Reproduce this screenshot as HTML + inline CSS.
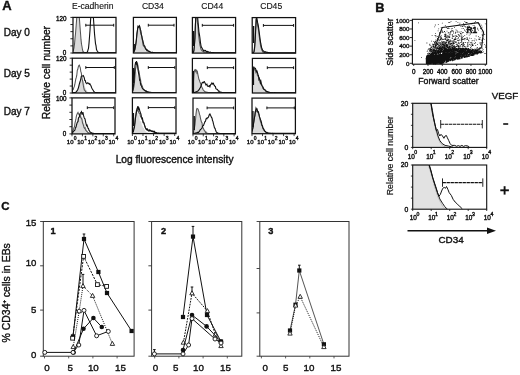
<!DOCTYPE html>
<html><head><meta charset="utf-8"><style>
html,body{margin:0;padding:0;background:#fff;}
svg{display:block;}
text{font-family:"Liberation Sans", sans-serif;fill:#111;stroke:#111;stroke-width:0.38px;}
svg{filter:grayscale(100%) blur(0.3px);}
</style></head><body>
<svg width="520" height="375" viewBox="0 0 520 375">
<rect width="520" height="375" fill="#fff"/>
<text x="2.3" y="10.4" font-size="13" text-anchor="start" font-weight="bold" >A</text>
<text x="92.7" y="8.6" font-size="8.6" text-anchor="middle" font-weight="normal" style="stroke-width:0.12px">E-cadherin</text>
<text x="152.9" y="8.6" font-size="8.6" text-anchor="middle" font-weight="normal" style="stroke-width:0.12px">CD34</text>
<text x="212.2" y="8.6" font-size="8.6" text-anchor="middle" font-weight="normal" style="stroke-width:0.12px">CD44</text>
<text x="271.2" y="8.6" font-size="8.6" text-anchor="middle" font-weight="normal" style="stroke-width:0.12px">CD45</text>
<text x="3.7" y="35.7" font-size="10" text-anchor="start" font-weight="normal" >Day 0</text>
<text x="3.7" y="76.7" font-size="10" text-anchor="start" font-weight="normal" >Day 5</text>
<text x="3.7" y="115.3" font-size="10" text-anchor="start" font-weight="normal" >Day 7</text>
<text transform="translate(49.8,72.6) rotate(-90)" font-size="10.3" text-anchor="middle">Relative cell number</text>
<text x="174.6" y="163.0" font-size="10.2" text-anchor="middle" font-weight="normal" >Log fluorescence intensity</text>
<defs>
<clipPath id="cA00"><rect x="73.0" y="17.4" width="43.00" height="35.60"/></clipPath>
<clipPath id="cA01"><rect x="133.4" y="17.4" width="43.00" height="35.60"/></clipPath>
<clipPath id="cA02"><rect x="192.4" y="17.5" width="43.20" height="35.60"/></clipPath>
<clipPath id="cA03"><rect x="252.2" y="17.6" width="43.40" height="35.60"/></clipPath>
<clipPath id="cA10"><rect x="72.3" y="58.2" width="43.40" height="34.80"/></clipPath>
<clipPath id="cA11"><rect x="132.5" y="58.2" width="43.60" height="34.60"/></clipPath>
<clipPath id="cA12"><rect x="192.4" y="58.4" width="43.20" height="34.50"/></clipPath>
<clipPath id="cA13"><rect x="252.4" y="58.4" width="43.20" height="34.60"/></clipPath>
<clipPath id="cA20"><rect x="72.0" y="97.9" width="43.00" height="36.00"/></clipPath>
<clipPath id="cA21"><rect x="132.4" y="97.8" width="43.60" height="35.80"/></clipPath>
<clipPath id="cA22"><rect x="193.0" y="98.1" width="42.40" height="35.80"/></clipPath>
<clipPath id="cA23"><rect x="252.0" y="98.1" width="43.40" height="35.60"/></clipPath>
</defs>
<g clip-path="url(#cA00)">
<polygon points="73.0,53.0 73.00,51.45 73.50,50.36 74.00,47.77 74.50,43.96 75.00,38.53 75.50,33.13 76.00,26.70 76.50,19.77 77.00,14.25 77.50,14.25 78.00,14.25 78.50,14.25 79.00,14.25 79.50,16.87 80.00,25.89 80.50,34.82 81.00,39.46 81.50,44.92 82.00,47.95 82.50,50.07 83.00,51.43 83.50,51.90 84.00,52.39 84.50,52.61 85.00,52.63 85.50,52.66 86.00,52.70 86.50,52.70 87.00,52.70 87.50,52.70 88.00,52.70 88.50,52.70 89.00,52.70 89.50,52.70 90.00,52.70 90.50,52.70 91.00,52.70 91.50,52.70 92.00,52.70 92.50,52.70 93.00,52.70 93.50,52.70 94.00,52.70 94.50,52.70 95.00,52.70 95.50,52.70 96.00,52.70 96.50,52.70 97.00,52.70 97.50,52.70 98.00,52.70 98.50,52.70 99.00,52.70 99.50,52.70 100.00,52.70 100.50,52.70 101.00,52.70 101.50,52.70 102.00,52.70 102.50,52.70 103.00,52.70 103.50,52.70 104.00,52.70 104.50,52.70 105.00,52.70 105.50,52.70 106.00,52.70 106.50,52.70 107.00,52.70 107.50,52.70 108.00,52.70 108.50,52.70 109.00,52.70 109.50,52.70 110.00,52.70 110.50,52.70 111.00,52.70 111.50,52.70 112.00,52.70 112.50,52.70 113.00,52.70 113.50,52.70 114.00,52.70 114.50,52.70 115.00,52.70 115.50,52.70 116.00,52.70 116.0,53.0" fill="#dadada" stroke="none"/>
<polyline points="73.00,51.33 73.50,49.90 74.00,47.86 74.50,44.25 75.00,38.37 75.50,33.70 76.00,27.46 76.50,21.04 77.00,14.25 77.50,14.25 78.00,14.25 78.50,14.25 79.00,14.25 79.50,19.69 80.00,26.67 80.50,33.08 81.00,39.68 81.50,44.16 82.00,46.76 82.50,49.73 83.00,51.65 83.50,51.70 84.00,52.34 84.50,52.64 85.00,52.60 85.50,52.68 86.00,52.70 86.50,52.70 87.00,52.70 87.50,52.70 88.00,52.70 88.50,52.70 89.00,52.70 89.50,52.70 90.00,52.70 90.50,52.70 91.00,52.70 91.50,52.70 92.00,52.70 92.50,52.70 93.00,52.70 93.50,52.70 94.00,52.70 94.50,52.70 95.00,52.70 95.50,52.70 96.00,52.70 96.50,52.70 97.00,52.70 97.50,52.70 98.00,52.70 98.50,52.70 99.00,52.70 99.50,52.70 100.00,52.70 100.50,52.70 101.00,52.70 101.50,52.70 102.00,52.70 102.50,52.70 103.00,52.70 103.50,52.70 104.00,52.70 104.50,52.70 105.00,52.70 105.50,52.70 106.00,52.70 106.50,52.70 107.00,52.70 107.50,52.70 108.00,52.70 108.50,52.70 109.00,52.70 109.50,52.70 110.00,52.70 110.50,52.70 111.00,52.70 111.50,52.70 112.00,52.70 112.50,52.70 113.00,52.70 113.50,52.70 114.00,52.70 114.50,52.70 115.00,52.70 115.50,52.70 116.00,52.70" fill="none" stroke="#555" stroke-width="1.05"/>
<polyline points="73.00,52.70 73.50,52.70 74.00,52.70 74.50,52.70 75.00,52.70 75.50,52.70 76.00,52.70 76.50,52.70 77.00,52.70 77.50,52.70 78.00,52.70 78.50,52.70 79.00,52.70 79.50,52.70 80.00,52.70 80.50,52.70 81.00,52.70 81.50,52.70 82.00,52.70 82.50,52.70 83.00,52.70 83.50,52.70 84.00,52.70 84.50,52.70 85.00,52.70 85.50,52.65 86.00,52.67 86.50,52.70 87.00,52.35 87.50,51.65 88.00,49.94 88.50,48.33 89.00,43.33 89.50,37.03 90.00,30.53 90.50,21.36 91.00,14.25 91.50,14.25 92.00,14.25 92.50,14.25 93.00,14.25 93.50,19.26 94.00,26.13 94.50,33.62 95.00,38.77 95.50,43.59 96.00,45.66 96.50,49.49 97.00,50.55 97.50,51.52 98.00,52.28 98.50,52.39 99.00,52.70 99.50,52.66 100.00,52.67 100.50,52.70 101.00,52.70 101.50,52.69 102.00,52.70 102.50,52.70 103.00,52.70 103.50,52.70 104.00,52.70 104.50,52.70 105.00,52.70 105.50,52.70 106.00,52.70 106.50,52.70 107.00,52.70 107.50,52.70 108.00,52.70 108.50,52.70 109.00,52.70 109.50,52.70 110.00,52.70 110.50,52.70 111.00,52.70 111.50,52.70 112.00,52.70 112.50,52.70 113.00,52.70 113.50,52.70 114.00,52.70 114.50,52.70 115.00,52.70 115.50,52.70 116.00,52.70" fill="none" stroke="#111" stroke-width="1.1"/>
</g>
<rect x="73.0" y="17.4" width="43.0" height="35.6" fill="none" stroke="#111" stroke-width="1.25"/>
<line x1="85.8" y1="25.2" x2="113.7" y2="25.2" stroke="#111" stroke-width="1.0" />
<line x1="85.8" y1="23.8" x2="85.8" y2="26.599999999999998" stroke="#111" stroke-width="1.0" />
<line x1="113.7" y1="23.8" x2="113.7" y2="26.599999999999998" stroke="#111" stroke-width="1.0" />
<line x1="70.4" y1="53.0" x2="73.0" y2="53.0" stroke="#111" stroke-width="0.9" />
<line x1="70.4" y1="45.88" x2="73.0" y2="45.88" stroke="#111" stroke-width="0.9" />
<line x1="70.4" y1="38.76" x2="73.0" y2="38.76" stroke="#111" stroke-width="0.9" />
<line x1="70.4" y1="31.639999999999997" x2="73.0" y2="31.639999999999997" stroke="#111" stroke-width="0.9" />
<line x1="70.4" y1="24.52" x2="73.0" y2="24.52" stroke="#111" stroke-width="0.9" />
<line x1="70.4" y1="17.4" x2="73.0" y2="17.4" stroke="#111" stroke-width="0.9" />
<g clip-path="url(#cA01)">
<polygon points="133.4,53.0 133.40,52.14 133.90,51.46 134.40,50.16 134.90,48.65 135.40,45.59 135.90,41.68 136.40,39.05 136.90,35.86 137.40,29.52 137.90,28.33 138.40,27.00 138.90,29.56 139.40,27.52 139.90,30.18 140.40,33.06 140.90,35.55 141.40,37.56 141.90,40.13 142.40,42.40 142.90,44.86 143.40,45.16 143.90,47.24 144.40,48.28 144.90,49.12 145.40,50.63 145.90,50.10 146.40,50.74 146.90,51.01 147.40,51.15 147.90,51.62 148.40,51.39 148.90,51.90 149.40,52.09 149.90,52.22 150.40,52.18 150.90,52.23 151.40,52.48 151.90,52.64 152.40,52.47 152.90,52.67 153.40,52.57 153.90,52.66 154.40,52.70 154.90,52.70 155.40,52.68 155.90,52.68 156.40,52.70 156.90,52.69 157.40,52.68 157.90,52.70 158.40,52.70 158.90,52.70 159.40,52.70 159.90,52.70 160.40,52.70 160.90,52.70 161.40,52.70 161.90,52.70 162.40,52.70 162.90,52.70 163.40,52.70 163.90,52.70 164.40,52.70 164.90,52.70 165.40,52.70 165.90,52.70 166.40,52.70 166.90,52.70 167.40,52.70 167.90,52.70 168.40,52.70 168.90,52.70 169.40,52.70 169.90,52.70 170.40,52.70 170.90,52.70 171.40,52.70 171.90,52.70 172.40,52.70 172.90,52.70 173.40,52.70 173.90,52.70 174.40,52.70 174.90,52.70 175.40,52.70 175.90,52.70 176.40,52.70 176.4,53.0" fill="#dadada" stroke="none"/>
<polyline points="133.40,52.34 133.90,51.92 134.40,50.40 134.90,48.74 135.40,46.50 135.90,43.28 136.40,38.91 136.90,34.42 137.40,30.50 137.90,27.36 138.40,26.75 138.90,26.18 139.40,26.99 139.90,28.68 140.40,31.64 140.90,33.82 141.40,35.28 141.90,38.23 142.40,40.41 142.90,44.14 143.40,45.94 143.90,45.66 144.40,46.95 144.90,47.49 145.40,48.60 145.90,49.43 146.40,49.99 146.90,50.84 147.40,50.45 147.90,51.17 148.40,51.14 148.90,51.45 149.40,51.66 149.90,51.74 150.40,52.16 150.90,52.28 151.40,52.45 151.90,52.48 152.40,52.37 152.90,52.60 153.40,52.54 153.90,52.60 154.40,52.64 154.90,52.65 155.40,52.70 155.90,52.69 156.40,52.67 156.90,52.70 157.40,52.70 157.90,52.70 158.40,52.70 158.90,52.70 159.40,52.70 159.90,52.70 160.40,52.70 160.90,52.70 161.40,52.70 161.90,52.70 162.40,52.70 162.90,52.70 163.40,52.70 163.90,52.70 164.40,52.70 164.90,52.70 165.40,52.70 165.90,52.70 166.40,52.70 166.90,52.70 167.40,52.70 167.90,52.70 168.40,52.70 168.90,52.70 169.40,52.70 169.90,52.70 170.40,52.70 170.90,52.70 171.40,52.70 171.90,52.70 172.40,52.70 172.90,52.70 173.40,52.70 173.90,52.70 174.40,52.70 174.90,52.70 175.40,52.70 175.90,52.70 176.40,52.70" fill="none" stroke="#555" stroke-width="1.05"/>
<polyline points="133.40,52.19 133.90,51.95 134.40,50.72 134.90,49.59 135.40,46.60 135.90,43.70 136.40,39.87 136.90,33.85 137.40,30.49 137.90,26.54 138.40,27.37 138.90,26.71 139.40,25.77 139.90,26.95 140.40,29.65 140.90,30.91 141.40,34.90 141.90,36.13 142.40,39.54 142.90,40.59 143.40,43.13 143.90,44.92 144.40,45.96 144.90,46.30 145.40,48.61 145.90,49.19 146.40,49.17 146.90,50.22 147.40,49.95 147.90,50.79 148.40,51.14 148.90,51.35 149.40,51.31 149.90,51.76 150.40,51.98 150.90,52.18 151.40,52.53 151.90,52.53 152.40,52.38 152.90,52.51 153.40,52.58 153.90,52.61 154.40,52.69 154.90,52.67 155.40,52.70 155.90,52.69 156.40,52.70 156.90,52.70 157.40,52.70 157.90,52.70 158.40,52.70 158.90,52.70 159.40,52.70 159.90,52.70 160.40,52.70 160.90,52.70 161.40,52.70 161.90,52.70 162.40,52.70 162.90,52.70 163.40,52.70 163.90,52.70 164.40,52.70 164.90,52.70 165.40,52.70 165.90,52.70 166.40,52.70 166.90,52.70 167.40,52.70 167.90,52.70 168.40,52.70 168.90,52.70 169.40,52.70 169.90,52.70 170.40,52.70 170.90,52.70 171.40,52.70 171.90,52.70 172.40,52.70 172.90,52.70 173.40,52.70 173.90,52.70 174.40,52.70 174.90,52.70 175.40,52.70 175.90,52.70 176.40,52.70" fill="none" stroke="#111" stroke-width="1.1"/>
<line x1="134.2" y1="44" x2="134.2" y2="50" stroke="#111" stroke-width="1.4" />
</g>
<rect x="133.4" y="17.4" width="43.0" height="35.6" fill="none" stroke="#111" stroke-width="1.25"/>
<line x1="148.3" y1="25.2" x2="174" y2="25.2" stroke="#111" stroke-width="1.0" />
<line x1="148.3" y1="23.8" x2="148.3" y2="26.599999999999998" stroke="#111" stroke-width="1.0" />
<line x1="174" y1="23.8" x2="174" y2="26.599999999999998" stroke="#111" stroke-width="1.0" />
<g clip-path="url(#cA02)">
<polygon points="192.4,53.1 192.40,52.80 192.90,52.80 193.40,52.19 193.90,50.52 194.40,47.41 194.90,38.94 195.40,27.48 195.90,16.68 196.40,14.35 196.90,14.35 197.40,18.69 197.90,25.27 198.40,31.72 198.90,38.65 199.40,42.17 199.90,44.77 200.40,47.73 200.90,49.39 201.40,50.96 201.90,51.39 202.40,50.99 202.90,51.34 203.40,51.68 203.90,51.87 204.40,52.27 204.90,52.01 205.40,52.04 205.90,52.08 206.40,52.41 206.90,52.52 207.40,52.68 207.90,52.51 208.40,52.53 208.90,52.74 209.40,52.71 209.90,52.74 210.40,52.79 210.90,52.80 211.40,52.79 211.90,52.77 212.40,52.80 212.90,52.80 213.40,52.80 213.90,52.79 214.40,52.79 214.90,52.80 215.40,52.80 215.90,52.80 216.40,52.80 216.90,52.80 217.40,52.80 217.90,52.80 218.40,52.80 218.90,52.80 219.40,52.80 219.90,52.80 220.40,52.80 220.90,52.80 221.40,52.80 221.90,52.80 222.40,52.80 222.90,52.80 223.40,52.80 223.90,52.80 224.40,52.80 224.90,52.80 225.40,52.80 225.90,52.80 226.40,52.80 226.90,52.80 227.40,52.80 227.90,52.80 228.40,52.80 228.90,52.80 229.40,52.80 229.90,52.80 230.40,52.80 230.90,52.80 231.40,52.80 231.90,52.80 232.40,52.80 232.90,52.80 233.40,52.80 233.90,52.80 234.40,52.80 234.90,52.80 235.40,52.80 235.6,53.1" fill="#dadada" stroke="none"/>
<polyline points="192.40,52.76 192.90,52.57 193.40,52.46 193.90,50.35 194.40,46.26 194.90,37.92 195.40,24.07 195.90,15.16 196.40,14.35 196.90,15.54 197.40,22.89 197.90,25.59 198.40,33.67 198.90,37.56 199.40,41.72 199.90,44.87 200.40,46.92 200.90,49.02 201.40,49.89 201.90,50.92 202.40,51.07 202.90,51.24 203.40,51.94 203.90,51.36 204.40,52.08 204.90,52.31 205.40,51.94 205.90,52.01 206.40,52.51 206.90,52.57 207.40,52.25 207.90,52.61 208.40,52.80 208.90,52.74 209.40,52.61 209.90,52.72 210.40,52.73 210.90,52.73 211.40,52.76 211.90,52.80 212.40,52.80 212.90,52.79 213.40,52.80 213.90,52.80 214.40,52.79 214.90,52.80 215.40,52.80 215.90,52.80 216.40,52.80 216.90,52.80 217.40,52.80 217.90,52.80 218.40,52.80 218.90,52.80 219.40,52.80 219.90,52.80 220.40,52.80 220.90,52.80 221.40,52.80 221.90,52.80 222.40,52.80 222.90,52.80 223.40,52.80 223.90,52.80 224.40,52.80 224.90,52.80 225.40,52.80 225.90,52.80 226.40,52.80 226.90,52.80 227.40,52.80 227.90,52.80 228.40,52.80 228.90,52.80 229.40,52.80 229.90,52.80 230.40,52.80 230.90,52.80 231.40,52.80 231.90,52.80 232.40,52.80 232.90,52.80 233.40,52.80 233.90,52.80 234.40,52.80 234.90,52.80 235.40,52.80" fill="none" stroke="#555" stroke-width="1.05"/>
<polyline points="192.40,52.78 192.90,52.59 193.40,52.11 193.90,50.62 194.40,45.21 194.90,38.69 195.40,24.98 195.90,15.34 196.40,14.35 196.90,14.35 197.40,14.35 197.90,20.28 198.40,25.46 198.90,31.60 199.40,34.25 199.90,37.76 200.40,42.00 200.90,45.37 201.40,47.24 201.90,47.80 202.40,48.74 202.90,49.69 203.40,50.56 203.90,50.18 204.40,50.52 204.90,50.73 205.40,50.51 205.90,50.95 206.40,51.59 206.90,51.73 207.40,51.35 207.90,51.76 208.40,51.76 208.90,52.08 209.40,52.32 209.90,52.21 210.40,52.12 210.90,52.38 211.40,52.62 211.90,52.57 212.40,52.64 212.90,52.61 213.40,52.59 213.90,52.56 214.40,52.70 214.90,52.75 215.40,52.74 215.90,52.76 216.40,52.78 216.90,52.77 217.40,52.78 217.90,52.80 218.40,52.78 218.90,52.80 219.40,52.80 219.90,52.79 220.40,52.80 220.90,52.78 221.40,52.79 221.90,52.80 222.40,52.80 222.90,52.80 223.40,52.80 223.90,52.80 224.40,52.80 224.90,52.80 225.40,52.80 225.90,52.80 226.40,52.80 226.90,52.80 227.40,52.80 227.90,52.80 228.40,52.80 228.90,52.80 229.40,52.80 229.90,52.80 230.40,52.80 230.90,52.80 231.40,52.80 231.90,52.80 232.40,52.80 232.90,52.80 233.40,52.80 233.90,52.80 234.40,52.80 234.90,52.80 235.40,52.80" fill="none" stroke="#111" stroke-width="1.1"/>
<line x1="193.6" y1="31" x2="193.6" y2="46" stroke="#111" stroke-width="1.4" />
</g>
<rect x="192.4" y="17.5" width="43.19999999999999" height="35.6" fill="none" stroke="#111" stroke-width="1.25"/>
<line x1="202.3" y1="25.3" x2="233.6" y2="25.3" stroke="#111" stroke-width="1.0" />
<line x1="202.3" y1="23.900000000000002" x2="202.3" y2="26.7" stroke="#111" stroke-width="1.0" />
<line x1="233.6" y1="23.900000000000002" x2="233.6" y2="26.7" stroke="#111" stroke-width="1.0" />
<g clip-path="url(#cA03)">
<polygon points="252.2,53.2 252.20,52.89 252.70,52.86 253.20,52.53 253.70,52.09 254.20,50.00 254.70,44.13 255.20,37.31 255.70,28.09 256.20,18.07 256.70,18.88 257.20,20.43 257.70,23.66 258.20,25.86 258.70,31.93 259.20,36.13 259.70,41.04 260.20,43.61 260.70,46.30 261.20,48.63 261.70,49.60 262.20,49.91 262.70,51.71 263.20,51.65 263.70,51.92 264.20,52.11 264.70,52.53 265.20,52.37 265.70,52.53 266.20,52.68 266.70,52.75 267.20,52.75 267.70,52.74 268.20,52.77 268.70,52.74 269.20,52.87 269.70,52.85 270.20,52.89 270.70,52.87 271.20,52.89 271.70,52.90 272.20,52.90 272.70,52.90 273.20,52.90 273.70,52.89 274.20,52.90 274.70,52.90 275.20,52.90 275.70,52.90 276.20,52.90 276.70,52.90 277.20,52.90 277.70,52.90 278.20,52.90 278.70,52.90 279.20,52.90 279.70,52.90 280.20,52.90 280.70,52.90 281.20,52.90 281.70,52.90 282.20,52.90 282.70,52.90 283.20,52.90 283.70,52.90 284.20,52.90 284.70,52.90 285.20,52.90 285.70,52.90 286.20,52.90 286.70,52.90 287.20,52.90 287.70,52.90 288.20,52.90 288.70,52.90 289.20,52.90 289.70,52.90 290.20,52.90 290.70,52.90 291.20,52.90 291.70,52.90 292.20,52.90 292.70,52.90 293.20,52.90 293.70,52.90 294.20,52.90 294.70,52.90 295.20,52.90 295.6,53.2" fill="#dadada" stroke="none"/>
<polyline points="252.20,52.89 252.70,52.75 253.20,52.68 253.70,52.02 254.20,49.81 254.70,45.16 255.20,37.24 255.70,26.79 256.20,18.53 256.70,19.87 257.20,23.00 257.70,26.00 258.20,28.15 258.70,31.67 259.20,35.84 259.70,40.02 260.20,43.08 260.70,46.64 261.20,48.15 261.70,49.80 262.20,50.64 262.70,51.93 263.20,51.60 263.70,52.41 264.20,52.49 264.70,52.33 265.20,52.59 265.70,52.42 266.20,52.67 266.70,52.82 267.20,52.76 267.70,52.83 268.20,52.75 268.70,52.78 269.20,52.84 269.70,52.89 270.20,52.88 270.70,52.87 271.20,52.90 271.70,52.90 272.20,52.89 272.70,52.89 273.20,52.90 273.70,52.90 274.20,52.90 274.70,52.90 275.20,52.90 275.70,52.90 276.20,52.90 276.70,52.90 277.20,52.90 277.70,52.90 278.20,52.90 278.70,52.90 279.20,52.90 279.70,52.90 280.20,52.90 280.70,52.90 281.20,52.90 281.70,52.90 282.20,52.90 282.70,52.90 283.20,52.90 283.70,52.90 284.20,52.90 284.70,52.90 285.20,52.90 285.70,52.90 286.20,52.90 286.70,52.90 287.20,52.90 287.70,52.90 288.20,52.90 288.70,52.90 289.20,52.90 289.70,52.90 290.20,52.90 290.70,52.90 291.20,52.90 291.70,52.90 292.20,52.90 292.70,52.90 293.20,52.90 293.70,52.90 294.20,52.90 294.70,52.90 295.20,52.90" fill="none" stroke="#555" stroke-width="1.05"/>
<polyline points="252.20,52.90 252.70,52.87 253.20,52.78 253.70,52.43 254.20,51.14 254.70,47.18 255.20,39.62 255.70,29.56 256.20,19.37 256.70,17.14 257.20,20.19 257.70,22.94 258.20,24.80 258.70,28.34 259.20,32.01 259.70,36.12 260.20,39.62 260.70,43.23 261.20,45.26 261.70,48.11 262.20,48.94 262.70,50.34 263.20,50.67 263.70,51.11 264.20,51.67 264.70,52.27 265.20,51.64 265.70,51.92 266.20,52.10 266.70,52.36 267.20,52.40 267.70,52.37 268.20,52.51 268.70,52.45 269.20,52.63 269.70,52.77 270.20,52.68 270.70,52.82 271.20,52.78 271.70,52.90 272.20,52.86 272.70,52.83 273.20,52.89 273.70,52.88 274.20,52.86 274.70,52.88 275.20,52.85 275.70,52.90 276.20,52.90 276.70,52.90 277.20,52.90 277.70,52.90 278.20,52.90 278.70,52.90 279.20,52.89 279.70,52.90 280.20,52.90 280.70,52.90 281.20,52.90 281.70,52.90 282.20,52.90 282.70,52.90 283.20,52.90 283.70,52.90 284.20,52.90 284.70,52.90 285.20,52.90 285.70,52.90 286.20,52.90 286.70,52.90 287.20,52.90 287.70,52.90 288.20,52.90 288.70,52.90 289.20,52.90 289.70,52.90 290.20,52.90 290.70,52.90 291.20,52.90 291.70,52.90 292.20,52.90 292.70,52.90 293.20,52.90 293.70,52.90 294.20,52.90 294.70,52.90 295.20,52.90" fill="none" stroke="#111" stroke-width="1.1"/>
<line x1="253.6" y1="26" x2="253.6" y2="43" stroke="#111" stroke-width="1.4" />
</g>
<rect x="252.2" y="17.6" width="43.400000000000034" height="35.6" fill="none" stroke="#111" stroke-width="1.25"/>
<line x1="263.4" y1="25.400000000000002" x2="293.6" y2="25.400000000000002" stroke="#111" stroke-width="1.0" />
<line x1="263.4" y1="24.000000000000004" x2="263.4" y2="26.8" stroke="#111" stroke-width="1.0" />
<line x1="293.6" y1="24.000000000000004" x2="293.6" y2="26.8" stroke="#111" stroke-width="1.0" />
<g clip-path="url(#cA10)">
<polygon points="72.3,93.0 72.30,92.70 72.80,92.70 73.30,92.62 73.80,92.52 74.30,92.55 74.80,92.29 75.30,92.47 75.80,91.67 76.30,91.21 76.80,90.90 77.30,90.17 77.80,88.44 78.30,86.53 78.80,84.69 79.30,82.99 79.80,80.75 80.30,79.24 80.80,79.72 81.30,78.39 81.80,78.54 82.30,77.93 82.80,80.13 83.30,80.46 83.80,82.72 84.30,83.10 84.80,86.17 85.30,87.65 85.80,89.00 86.30,89.97 86.80,90.18 87.30,91.59 87.80,92.07 88.30,92.24 88.80,92.34 89.30,92.62 89.80,92.56 90.30,92.62 90.80,92.68 91.30,92.69 91.80,92.70 92.30,92.70 92.80,92.70 93.30,92.69 93.80,92.69 94.30,92.70 94.80,92.70 95.30,92.70 95.80,92.70 96.30,92.70 96.80,92.70 97.30,92.70 97.80,92.70 98.30,92.70 98.80,92.70 99.30,92.70 99.80,92.70 100.30,92.70 100.80,92.70 101.30,92.70 101.80,92.70 102.30,92.70 102.80,92.70 103.30,92.70 103.80,92.70 104.30,92.70 104.80,92.70 105.30,92.70 105.80,92.70 106.30,92.70 106.80,92.70 107.30,92.70 107.80,92.70 108.30,92.70 108.80,92.70 109.30,92.70 109.80,92.70 110.30,92.70 110.80,92.70 111.30,92.70 111.80,92.70 112.30,92.70 112.80,92.70 113.30,92.70 113.80,92.70 114.30,92.70 114.80,92.70 115.30,92.70 115.7,93.0" fill="#dadada" stroke="none"/>
<polyline points="72.30,91.03 72.80,89.73 73.30,89.50 73.80,87.63 74.30,86.65 74.80,84.48 75.30,81.85 75.80,78.99 76.30,77.38 76.80,75.18 77.30,70.29 77.80,69.26 78.30,66.82 78.80,65.46 79.30,65.10 79.80,66.53 80.30,67.85 80.80,71.60 81.30,72.94 81.80,76.82 82.30,79.79 82.80,81.67 83.30,85.16 83.80,87.68 84.30,89.87 84.80,90.35 85.30,91.04 85.80,92.08 86.30,92.21 86.80,92.52 87.30,92.59 87.80,92.66 88.30,92.70 88.80,92.70 89.30,92.70 89.80,92.68 90.30,92.69 90.80,92.70 91.30,92.70 91.80,92.70 92.30,92.70 92.80,92.70 93.30,92.70 93.80,92.70 94.30,92.70 94.80,92.70 95.30,92.70 95.80,92.70 96.30,92.70 96.80,92.70 97.30,92.70 97.80,92.70 98.30,92.70 98.80,92.70 99.30,92.70 99.80,92.70 100.30,92.70 100.80,92.70 101.30,92.70 101.80,92.70 102.30,92.70 102.80,92.70 103.30,92.70 103.80,92.70 104.30,92.70 104.80,92.70 105.30,92.70 105.80,92.70 106.30,92.70 106.80,92.70 107.30,92.70 107.80,92.70 108.30,92.70 108.80,92.70 109.30,92.70 109.80,92.70 110.30,92.70 110.80,92.70 111.30,92.70 111.80,92.70 112.30,92.70 112.80,92.70 113.30,92.70 113.80,92.70 114.30,92.70 114.80,92.70 115.30,92.70" fill="none" stroke="#555" stroke-width="1.05"/>
<polyline points="72.30,92.67 72.80,92.70 73.30,92.67 73.80,92.59 74.30,92.55 74.80,92.48 75.30,92.52 75.80,92.30 76.30,91.76 76.80,91.26 77.30,90.36 77.80,89.53 78.30,88.06 78.80,86.33 79.30,84.22 79.80,82.48 80.30,80.89 80.80,78.82 81.30,76.29 81.80,76.02 82.30,76.04 82.80,76.06 83.30,75.70 83.80,76.76 84.30,77.82 84.80,80.48 85.30,80.58 85.80,82.64 86.30,83.13 86.80,83.63 87.30,83.06 87.80,82.72 88.30,83.31 88.80,83.57 89.30,84.33 89.80,83.66 90.30,84.59 90.80,85.43 91.30,86.76 91.80,88.04 92.30,88.99 92.80,89.72 93.30,90.47 93.80,91.41 94.30,91.83 94.80,92.25 95.30,92.44 95.80,92.66 96.30,92.58 96.80,92.64 97.30,92.65 97.80,92.70 98.30,92.70 98.80,92.70 99.30,92.70 99.80,92.70 100.30,92.70 100.80,92.70 101.30,92.70 101.80,92.70 102.30,92.70 102.80,92.70 103.30,92.70 103.80,92.70 104.30,92.70 104.80,92.70 105.30,92.70 105.80,92.70 106.30,92.70 106.80,92.70 107.30,92.70 107.80,92.70 108.30,92.70 108.80,92.70 109.30,92.70 109.80,92.70 110.30,92.70 110.80,92.70 111.30,92.70 111.80,92.70 112.30,92.70 112.80,92.70 113.30,92.70 113.80,92.70 114.30,92.70 114.80,92.70 115.30,92.70" fill="none" stroke="#111" stroke-width="1.1"/>
</g>
<rect x="72.3" y="58.2" width="43.400000000000006" height="34.8" fill="none" stroke="#111" stroke-width="1.25"/>
<line x1="85.8" y1="67.5" x2="114.3" y2="67.5" stroke="#111" stroke-width="1.0" />
<line x1="85.8" y1="66.1" x2="85.8" y2="68.9" stroke="#111" stroke-width="1.0" />
<line x1="114.3" y1="66.1" x2="114.3" y2="68.9" stroke="#111" stroke-width="1.0" />
<line x1="69.7" y1="93.0" x2="72.3" y2="93.0" stroke="#111" stroke-width="0.9" />
<line x1="69.7" y1="86.04" x2="72.3" y2="86.04" stroke="#111" stroke-width="0.9" />
<line x1="69.7" y1="79.08" x2="72.3" y2="79.08" stroke="#111" stroke-width="0.9" />
<line x1="69.7" y1="72.12" x2="72.3" y2="72.12" stroke="#111" stroke-width="0.9" />
<line x1="69.7" y1="65.16" x2="72.3" y2="65.16" stroke="#111" stroke-width="0.9" />
<line x1="69.7" y1="58.2" x2="72.3" y2="58.2" stroke="#111" stroke-width="0.9" />
<g clip-path="url(#cA11)">
<polygon points="132.5,92.8 132.50,89.71 133.00,87.54 133.50,83.75 134.00,79.77 134.50,74.39 135.00,72.84 135.50,71.47 136.00,71.82 136.50,71.69 137.00,74.88 137.50,75.21 138.00,77.97 138.50,80.35 139.00,80.47 139.50,82.75 140.00,83.91 140.50,85.95 141.00,86.93 141.50,88.09 142.00,88.65 142.50,89.56 143.00,89.29 143.50,90.46 144.00,89.99 144.50,90.78 145.00,90.75 145.50,91.15 146.00,91.30 146.50,91.31 147.00,91.74 147.50,92.07 148.00,92.03 148.50,92.10 149.00,92.50 149.50,92.25 150.00,92.31 150.50,92.50 151.00,92.46 151.50,92.44 152.00,92.50 152.50,92.50 153.00,92.50 153.50,92.49 154.00,92.49 154.50,92.50 155.00,92.50 155.50,92.50 156.00,92.50 156.50,92.50 157.00,92.50 157.50,92.50 158.00,92.50 158.50,92.50 159.00,92.50 159.50,92.50 160.00,92.50 160.50,92.50 161.00,92.50 161.50,92.50 162.00,92.50 162.50,92.50 163.00,92.50 163.50,92.50 164.00,92.50 164.50,92.50 165.00,92.50 165.50,92.50 166.00,92.50 166.50,92.50 167.00,92.50 167.50,92.50 168.00,92.50 168.50,92.50 169.00,92.50 169.50,92.50 170.00,92.50 170.50,92.50 171.00,92.50 171.50,92.50 172.00,92.50 172.50,92.50 173.00,92.50 173.50,92.50 174.00,92.50 174.50,92.50 175.00,92.50 175.50,92.50 176.00,92.50 176.1,92.8" fill="#dadada" stroke="none"/>
<polyline points="132.50,91.60 133.00,90.57 133.50,88.56 134.00,86.41 134.50,81.94 135.00,75.95 135.50,69.42 136.00,67.04 136.50,64.36 137.00,63.97 137.50,63.25 138.00,66.87 138.50,69.96 139.00,71.05 139.50,74.64 140.00,77.76 140.50,79.26 141.00,82.91 141.50,84.13 142.00,85.79 142.50,86.68 143.00,88.61 143.50,89.41 144.00,89.67 144.50,90.12 145.00,90.44 145.50,90.90 146.00,91.00 146.50,91.23 147.00,91.56 147.50,91.98 148.00,91.80 148.50,92.30 149.00,92.24 149.50,92.22 150.00,92.41 150.50,92.33 151.00,92.35 151.50,92.40 152.00,92.46 152.50,92.46 153.00,92.50 153.50,92.49 154.00,92.49 154.50,92.50 155.00,92.50 155.50,92.50 156.00,92.50 156.50,92.50 157.00,92.50 157.50,92.50 158.00,92.50 158.50,92.50 159.00,92.50 159.50,92.50 160.00,92.50 160.50,92.50 161.00,92.50 161.50,92.50 162.00,92.50 162.50,92.50 163.00,92.50 163.50,92.50 164.00,92.50 164.50,92.50 165.00,92.50 165.50,92.50 166.00,92.50 166.50,92.50 167.00,92.50 167.50,92.50 168.00,92.50 168.50,92.50 169.00,92.50 169.50,92.50 170.00,92.50 170.50,92.50 171.00,92.50 171.50,92.50 172.00,92.50 172.50,92.50 173.00,92.50 173.50,92.50 174.00,92.50 174.50,92.50 175.00,92.50 175.50,92.50 176.00,92.50" fill="none" stroke="#555" stroke-width="1.05"/>
<polyline points="132.50,91.00 133.00,89.25 133.50,85.62 134.00,80.91 134.50,73.78 135.00,65.69 135.50,63.03 136.00,63.57 136.50,61.11 137.00,64.51 137.50,64.89 138.00,69.61 138.50,72.67 139.00,75.67 139.50,80.27 140.00,80.33 140.50,83.82 141.00,85.40 141.50,86.03 142.00,87.81 142.50,88.32 143.00,89.16 143.50,89.48 144.00,90.03 144.50,90.08 145.00,90.76 145.50,90.84 146.00,91.37 146.50,91.18 147.00,92.06 147.50,91.79 148.00,91.93 148.50,92.07 149.00,92.22 149.50,92.18 150.00,92.20 150.50,92.45 151.00,92.50 151.50,92.50 152.00,92.50 152.50,92.49 153.00,92.49 153.50,92.48 154.00,92.50 154.50,92.50 155.00,92.50 155.50,92.50 156.00,92.50 156.50,92.49 157.00,92.50 157.50,92.50 158.00,92.50 158.50,92.50 159.00,92.50 159.50,92.50 160.00,92.50 160.50,92.50 161.00,92.50 161.50,92.50 162.00,92.50 162.50,92.50 163.00,92.50 163.50,92.50 164.00,92.50 164.50,92.50 165.00,92.50 165.50,92.50 166.00,92.50 166.50,92.50 167.00,92.50 167.50,92.50 168.00,92.50 168.50,92.50 169.00,92.50 169.50,92.50 170.00,92.50 170.50,92.50 171.00,92.50 171.50,92.50 172.00,92.50 172.50,92.50 173.00,92.50 173.50,92.50 174.00,92.50 174.50,92.50 175.00,92.50 175.50,92.50 176.00,92.50" fill="none" stroke="#111" stroke-width="1.1"/>
<line x1="133.6" y1="68" x2="133.6" y2="83" stroke="#111" stroke-width="1.4" />
</g>
<rect x="132.5" y="58.2" width="43.599999999999994" height="34.599999999999994" fill="none" stroke="#111" stroke-width="1.25"/>
<line x1="148.3" y1="67.5" x2="174.8" y2="67.5" stroke="#111" stroke-width="1.0" />
<line x1="148.3" y1="66.1" x2="148.3" y2="68.9" stroke="#111" stroke-width="1.0" />
<line x1="174.8" y1="66.1" x2="174.8" y2="68.9" stroke="#111" stroke-width="1.0" />
<g clip-path="url(#cA12)">
<polygon points="192.4,92.9 192.40,90.13 192.90,86.51 193.40,81.91 193.90,76.48 194.40,71.68 194.90,68.40 195.40,70.29 195.90,70.11 196.40,71.02 196.90,71.64 197.40,73.51 197.90,73.06 198.40,78.07 198.90,77.94 199.40,80.19 199.90,81.14 200.40,84.52 200.90,84.31 201.40,87.07 201.90,87.22 202.40,88.36 202.90,89.43 203.40,90.40 203.90,90.97 204.40,91.19 204.90,91.73 205.40,92.21 205.90,92.34 206.40,92.13 206.90,92.26 207.40,92.38 207.90,92.48 208.40,92.50 208.90,92.53 209.40,92.56 209.90,92.60 210.40,92.60 210.90,92.60 211.40,92.59 211.90,92.60 212.40,92.60 212.90,92.59 213.40,92.60 213.90,92.60 214.40,92.60 214.90,92.60 215.40,92.60 215.90,92.60 216.40,92.60 216.90,92.60 217.40,92.60 217.90,92.60 218.40,92.60 218.90,92.60 219.40,92.60 219.90,92.60 220.40,92.60 220.90,92.60 221.40,92.60 221.90,92.60 222.40,92.60 222.90,92.60 223.40,92.60 223.90,92.60 224.40,92.60 224.90,92.60 225.40,92.60 225.90,92.60 226.40,92.60 226.90,92.60 227.40,92.60 227.90,92.60 228.40,92.60 228.90,92.60 229.40,92.60 229.90,92.60 230.40,92.60 230.90,92.60 231.40,92.60 231.90,92.60 232.40,92.60 232.90,92.60 233.40,92.60 233.90,92.60 234.40,92.60 234.90,92.60 235.40,92.60 235.6,92.9" fill="#dadada" stroke="none"/>
<polyline points="192.40,90.24 192.90,86.41 193.40,82.71 193.90,74.45 194.40,70.28 194.90,69.93 195.40,71.34 195.90,69.70 196.40,70.19 196.90,72.77 197.40,71.73 197.90,74.60 198.40,76.93 198.90,79.40 199.40,80.17 199.90,81.94 200.40,83.03 200.90,84.34 201.40,86.28 201.90,87.28 202.40,87.93 202.90,89.17 203.40,90.20 203.90,90.54 204.40,91.31 204.90,91.46 205.40,91.83 205.90,92.22 206.40,92.14 206.90,92.32 207.40,92.35 207.90,92.57 208.40,92.45 208.90,92.49 209.40,92.58 209.90,92.58 210.40,92.58 210.90,92.59 211.40,92.58 211.90,92.60 212.40,92.60 212.90,92.60 213.40,92.59 213.90,92.60 214.40,92.60 214.90,92.60 215.40,92.60 215.90,92.60 216.40,92.60 216.90,92.60 217.40,92.60 217.90,92.60 218.40,92.60 218.90,92.60 219.40,92.60 219.90,92.60 220.40,92.60 220.90,92.60 221.40,92.60 221.90,92.60 222.40,92.60 222.90,92.60 223.40,92.60 223.90,92.60 224.40,92.60 224.90,92.60 225.40,92.60 225.90,92.60 226.40,92.60 226.90,92.60 227.40,92.60 227.90,92.60 228.40,92.60 228.90,92.60 229.40,92.60 229.90,92.60 230.40,92.60 230.90,92.60 231.40,92.60 231.90,92.60 232.40,92.60 232.90,92.60 233.40,92.60 233.90,92.60 234.40,92.60 234.90,92.60 235.40,92.60" fill="none" stroke="#555" stroke-width="1.05"/>
<polyline points="192.40,92.56 192.90,92.60 193.40,92.55 193.90,92.54 194.40,92.50 194.90,92.35 195.40,92.08 195.90,92.19 196.40,91.77 196.90,91.65 197.40,91.19 197.90,91.04 198.40,90.57 198.90,89.76 199.40,89.21 199.90,88.04 200.40,87.60 200.90,86.11 201.40,85.05 201.90,83.16 202.40,82.38 202.90,82.50 203.40,82.73 203.90,81.81 204.40,81.73 204.90,82.71 205.40,83.65 205.90,84.89 206.40,84.56 206.90,84.20 207.40,85.99 207.90,86.11 208.40,86.32 208.90,86.20 209.40,85.74 209.90,86.74 210.40,85.15 210.90,84.26 211.40,84.06 211.90,83.00 212.40,83.99 212.90,83.41 213.40,83.28 213.90,84.96 214.40,85.42 214.90,86.28 215.40,86.51 215.90,88.63 216.40,89.03 216.90,89.24 217.40,89.49 217.90,90.19 218.40,91.09 218.90,90.90 219.40,91.59 219.90,91.99 220.40,92.01 220.90,92.08 221.40,92.36 221.90,92.56 222.40,92.53 222.90,92.53 223.40,92.52 223.90,92.60 224.40,92.58 224.90,92.60 225.40,92.59 225.90,92.60 226.40,92.60 226.90,92.60 227.40,92.60 227.90,92.60 228.40,92.60 228.90,92.60 229.40,92.60 229.90,92.60 230.40,92.60 230.90,92.60 231.40,92.60 231.90,92.60 232.40,92.60 232.90,92.60 233.40,92.60 233.90,92.60 234.40,92.60 234.90,92.60 235.40,92.60" fill="none" stroke="#111" stroke-width="1.1"/>
<line x1="193.4" y1="71" x2="193.4" y2="92" stroke="#111" stroke-width="1.4" />
</g>
<rect x="192.4" y="58.4" width="43.19999999999999" height="34.50000000000001" fill="none" stroke="#111" stroke-width="1.25"/>
<line x1="207.3" y1="67.7" x2="233.6" y2="67.7" stroke="#111" stroke-width="1.0" />
<line x1="207.3" y1="66.3" x2="207.3" y2="69.10000000000001" stroke="#111" stroke-width="1.0" />
<line x1="233.6" y1="66.3" x2="233.6" y2="69.10000000000001" stroke="#111" stroke-width="1.0" />
<g clip-path="url(#cA13)">
<polygon points="252.4,93.0 252.40,83.93 252.90,73.68 253.40,70.35 253.90,67.34 254.40,68.49 254.90,68.06 255.40,69.17 255.90,70.20 256.40,70.14 256.90,72.99 257.40,74.25 257.90,74.52 258.40,77.39 258.90,77.34 259.40,79.10 259.90,81.32 260.40,83.12 260.90,84.78 261.40,83.59 261.90,86.57 262.40,87.36 262.90,87.24 263.40,88.24 263.90,89.06 264.40,89.73 264.90,90.42 265.40,91.00 265.90,91.31 266.40,91.30 266.90,91.48 267.40,91.70 267.90,92.09 268.40,92.54 268.90,92.28 269.40,92.44 269.90,92.70 270.40,92.44 270.90,92.57 271.40,92.62 271.90,92.63 272.40,92.65 272.90,92.66 273.40,92.67 273.90,92.68 274.40,92.68 274.90,92.69 275.40,92.66 275.90,92.69 276.40,92.70 276.90,92.70 277.40,92.70 277.90,92.70 278.40,92.70 278.90,92.70 279.40,92.70 279.90,92.70 280.40,92.70 280.90,92.70 281.40,92.70 281.90,92.70 282.40,92.70 282.90,92.70 283.40,92.70 283.90,92.70 284.40,92.70 284.90,92.70 285.40,92.70 285.90,92.70 286.40,92.70 286.90,92.70 287.40,92.70 287.90,92.70 288.40,92.70 288.90,92.70 289.40,92.70 289.90,92.70 290.40,92.70 290.90,92.70 291.40,92.70 291.90,92.70 292.40,92.70 292.90,92.70 293.40,92.70 293.90,92.70 294.40,92.70 294.90,92.70 295.40,92.70 295.6,93.0" fill="#dadada" stroke="none"/>
<polyline points="252.40,83.95 252.90,73.33 253.40,70.39 253.90,68.07 254.40,69.19 254.90,70.20 255.40,70.12 255.90,72.47 256.40,71.47 256.90,71.91 257.40,75.49 257.90,76.11 258.40,75.92 258.90,78.00 259.40,79.91 259.90,80.01 260.40,83.44 260.90,83.74 261.40,84.67 261.90,85.98 262.40,86.39 262.90,88.45 263.40,88.45 263.90,89.48 264.40,89.36 264.90,89.97 265.40,90.97 265.90,91.42 266.40,91.46 266.90,91.89 267.40,92.03 267.90,92.03 268.40,92.30 268.90,92.12 269.40,92.42 269.90,92.55 270.40,92.64 270.90,92.63 271.40,92.55 271.90,92.61 272.40,92.60 272.90,92.62 273.40,92.66 273.90,92.70 274.40,92.69 274.90,92.69 275.40,92.70 275.90,92.69 276.40,92.70 276.90,92.70 277.40,92.70 277.90,92.70 278.40,92.69 278.90,92.70 279.40,92.70 279.90,92.70 280.40,92.70 280.90,92.70 281.40,92.70 281.90,92.70 282.40,92.70 282.90,92.70 283.40,92.70 283.90,92.70 284.40,92.70 284.90,92.70 285.40,92.70 285.90,92.70 286.40,92.70 286.90,92.70 287.40,92.70 287.90,92.70 288.40,92.70 288.90,92.70 289.40,92.70 289.90,92.70 290.40,92.70 290.90,92.70 291.40,92.70 291.90,92.70 292.40,92.70 292.90,92.70 293.40,92.70 293.90,92.70 294.40,92.70 294.90,92.70 295.40,92.70" fill="none" stroke="#555" stroke-width="1.05"/>
<polyline points="252.40,83.76 252.90,76.08 253.40,68.16 253.90,67.05 254.40,67.76 254.90,68.40 255.40,68.33 255.90,69.71 256.40,71.41 256.90,71.01 257.40,72.49 257.90,74.19 258.40,75.28 258.90,79.42 259.40,78.47 259.90,80.03 260.40,82.78 260.90,81.33 261.40,83.68 261.90,85.28 262.40,86.28 262.90,86.90 263.40,87.89 263.90,89.31 264.40,89.46 264.90,89.74 265.40,90.21 265.90,90.58 266.40,91.46 266.90,91.63 267.40,91.66 267.90,92.05 268.40,92.08 268.90,92.36 269.40,92.28 269.90,92.43 270.40,92.44 270.90,92.55 271.40,92.64 271.90,92.69 272.40,92.64 272.90,92.68 273.40,92.70 273.90,92.69 274.40,92.66 274.90,92.66 275.40,92.68 275.90,92.67 276.40,92.70 276.90,92.70 277.40,92.70 277.90,92.70 278.40,92.69 278.90,92.70 279.40,92.70 279.90,92.69 280.40,92.70 280.90,92.70 281.40,92.70 281.90,92.70 282.40,92.70 282.90,92.70 283.40,92.70 283.90,92.70 284.40,92.70 284.90,92.70 285.40,92.70 285.90,92.70 286.40,92.70 286.90,92.70 287.40,92.70 287.90,92.70 288.40,92.70 288.90,92.70 289.40,92.70 289.90,92.70 290.40,92.70 290.90,92.70 291.40,92.70 291.90,92.70 292.40,92.70 292.90,92.70 293.40,92.70 293.90,92.70 294.40,92.70 294.90,92.70 295.40,92.70" fill="none" stroke="#111" stroke-width="1.1"/>
<line x1="253.4" y1="69" x2="253.4" y2="85" stroke="#111" stroke-width="1.4" />
</g>
<rect x="252.4" y="58.4" width="43.20000000000002" height="34.6" fill="none" stroke="#111" stroke-width="1.25"/>
<line x1="267.3" y1="67.7" x2="293.6" y2="67.7" stroke="#111" stroke-width="1.0" />
<line x1="267.3" y1="66.3" x2="267.3" y2="69.10000000000001" stroke="#111" stroke-width="1.0" />
<line x1="293.6" y1="66.3" x2="293.6" y2="69.10000000000001" stroke="#111" stroke-width="1.0" />
<g clip-path="url(#cA20)">
<polygon points="72.0,133.9 72.00,133.24 72.50,132.77 73.00,132.21 73.50,132.18 74.00,131.00 74.50,130.85 75.00,128.28 75.50,127.53 76.00,126.30 76.50,124.78 77.00,122.77 77.50,118.55 78.00,118.42 78.50,116.60 79.00,115.20 79.50,115.46 80.00,113.05 80.50,116.31 81.00,113.62 81.50,115.96 82.00,116.31 82.50,117.39 83.00,118.41 83.50,121.59 84.00,121.77 84.50,123.81 85.00,125.36 85.50,126.81 86.00,127.34 86.50,128.80 87.00,129.45 87.50,130.45 88.00,132.06 88.50,132.00 89.00,132.17 89.50,132.91 90.00,133.26 90.50,133.49 91.00,133.07 91.50,133.49 92.00,133.45 92.50,133.58 93.00,133.52 93.50,133.50 94.00,133.60 94.50,133.59 95.00,133.60 95.50,133.60 96.00,133.60 96.50,133.60 97.00,133.59 97.50,133.59 98.00,133.60 98.50,133.60 99.00,133.60 99.50,133.60 100.00,133.60 100.50,133.60 101.00,133.60 101.50,133.60 102.00,133.60 102.50,133.60 103.00,133.60 103.50,133.60 104.00,133.60 104.50,133.60 105.00,133.60 105.50,133.60 106.00,133.60 106.50,133.60 107.00,133.60 107.50,133.60 108.00,133.60 108.50,133.60 109.00,133.60 109.50,133.60 110.00,133.60 110.50,133.60 111.00,133.60 111.50,133.60 112.00,133.60 112.50,133.60 113.00,133.60 113.50,133.60 114.00,133.60 114.50,133.60 115.00,133.60 115.0,133.9" fill="#dadada" stroke="none"/>
<polyline points="72.00,132.59 72.50,131.95 73.00,130.41 73.50,129.41 74.00,127.75 74.50,126.82 75.00,122.98 75.50,120.92 76.00,118.44 76.50,115.57 77.00,114.20 77.50,113.34 78.00,112.49 78.50,113.74 79.00,114.40 79.50,115.58 80.00,114.44 80.50,117.15 81.00,117.82 81.50,118.59 82.00,119.67 82.50,122.86 83.00,124.01 83.50,125.50 84.00,127.60 84.50,128.31 85.00,127.86 85.50,130.05 86.00,130.16 86.50,131.19 87.00,131.47 87.50,132.05 88.00,132.64 88.50,133.15 89.00,132.92 89.50,133.18 90.00,133.32 90.50,133.37 91.00,133.55 91.50,133.52 92.00,133.55 92.50,133.60 93.00,133.60 93.50,133.59 94.00,133.60 94.50,133.59 95.00,133.59 95.50,133.60 96.00,133.60 96.50,133.60 97.00,133.60 97.50,133.60 98.00,133.60 98.50,133.60 99.00,133.60 99.50,133.60 100.00,133.60 100.50,133.60 101.00,133.60 101.50,133.60 102.00,133.60 102.50,133.60 103.00,133.60 103.50,133.60 104.00,133.60 104.50,133.60 105.00,133.60 105.50,133.60 106.00,133.60 106.50,133.60 107.00,133.60 107.50,133.60 108.00,133.60 108.50,133.60 109.00,133.60 109.50,133.60 110.00,133.60 110.50,133.60 111.00,133.60 111.50,133.60 112.00,133.60 112.50,133.60 113.00,133.60 113.50,133.60 114.00,133.60 114.50,133.60 115.00,133.60" fill="none" stroke="#555" stroke-width="1.05"/>
<polyline points="72.00,133.03 72.50,133.09 73.00,132.02 73.50,131.32 74.00,130.87 74.50,130.52 75.00,129.82 75.50,127.73 76.00,127.16 76.50,125.00 77.00,123.10 77.50,121.94 78.00,121.58 78.50,117.78 79.00,117.40 79.50,116.46 80.00,113.85 80.50,112.80 81.00,112.56 81.50,111.79 82.00,114.58 82.50,112.77 83.00,112.69 83.50,115.45 84.00,117.16 84.50,118.35 85.00,118.80 85.50,121.52 86.00,123.52 86.50,125.59 87.00,125.09 87.50,126.45 88.00,128.39 88.50,128.50 89.00,130.43 89.50,130.76 90.00,132.01 90.50,132.36 91.00,132.48 91.50,132.69 92.00,132.91 92.50,133.31 93.00,133.37 93.50,133.41 94.00,133.49 94.50,133.53 95.00,133.50 95.50,133.51 96.00,133.60 96.50,133.55 97.00,133.59 97.50,133.59 98.00,133.59 98.50,133.59 99.00,133.59 99.50,133.60 100.00,133.60 100.50,133.60 101.00,133.60 101.50,133.60 102.00,133.60 102.50,133.60 103.00,133.60 103.50,133.60 104.00,133.60 104.50,133.60 105.00,133.60 105.50,133.60 106.00,133.60 106.50,133.60 107.00,133.60 107.50,133.60 108.00,133.60 108.50,133.60 109.00,133.60 109.50,133.60 110.00,133.60 110.50,133.60 111.00,133.60 111.50,133.60 112.00,133.60 112.50,133.60 113.00,133.60 113.50,133.60 114.00,133.60 114.50,133.60 115.00,133.60" fill="none" stroke="#111" stroke-width="1.1"/>
</g>
<rect x="72.0" y="97.9" width="43.0" height="36.0" fill="none" stroke="#111" stroke-width="1.25"/>
<line x1="87.3" y1="107.7" x2="113.7" y2="107.7" stroke="#111" stroke-width="1.0" />
<line x1="87.3" y1="106.3" x2="87.3" y2="109.10000000000001" stroke="#111" stroke-width="1.0" />
<line x1="113.7" y1="106.3" x2="113.7" y2="109.10000000000001" stroke="#111" stroke-width="1.0" />
<line x1="69.4" y1="133.9" x2="72.0" y2="133.9" stroke="#111" stroke-width="0.9" />
<line x1="69.4" y1="126.7" x2="72.0" y2="126.7" stroke="#111" stroke-width="0.9" />
<line x1="69.4" y1="119.5" x2="72.0" y2="119.5" stroke="#111" stroke-width="0.9" />
<line x1="69.4" y1="112.30000000000001" x2="72.0" y2="112.30000000000001" stroke="#111" stroke-width="0.9" />
<line x1="69.4" y1="105.10000000000001" x2="72.0" y2="105.10000000000001" stroke="#111" stroke-width="0.9" />
<line x1="69.4" y1="97.9" x2="72.0" y2="97.9" stroke="#111" stroke-width="0.9" />
<line x1="72.0" y1="133.9" x2="72.0" y2="136.3" stroke="#111" stroke-width="0.8" />
<line x1="82.425" y1="133.9" x2="82.425" y2="136.3" stroke="#111" stroke-width="0.8" />
<line x1="92.85" y1="133.9" x2="92.85" y2="136.3" stroke="#111" stroke-width="0.8" />
<line x1="103.275" y1="133.9" x2="103.275" y2="136.3" stroke="#111" stroke-width="0.8" />
<line x1="113.7" y1="133.9" x2="113.7" y2="136.3" stroke="#111" stroke-width="0.8" />
<text x="70.15" y="143.9" font-size="6.0" text-anchor="middle">10</text>
<text x="75.10" y="140.4" font-size="5.0" text-anchor="middle">0</text>
<text x="80.58" y="143.9" font-size="6.0" text-anchor="middle">10</text>
<text x="85.52" y="140.4" font-size="5.0" text-anchor="middle">1</text>
<text x="91.00" y="143.9" font-size="6.0" text-anchor="middle">10</text>
<text x="95.95" y="140.4" font-size="5.0" text-anchor="middle">2</text>
<text x="101.43" y="143.9" font-size="6.0" text-anchor="middle">10</text>
<text x="106.38" y="140.4" font-size="5.0" text-anchor="middle">3</text>
<text x="111.85" y="143.9" font-size="6.0" text-anchor="middle">10</text>
<text x="116.80" y="140.4" font-size="5.0" text-anchor="middle">4</text>
<g clip-path="url(#cA21)">
<polygon points="132.4,133.6 132.40,131.38 132.90,130.25 133.40,127.81 133.90,122.52 134.40,118.80 134.90,115.23 135.40,113.62 135.90,111.15 136.40,111.51 136.90,110.93 137.40,112.49 137.90,113.60 138.40,114.14 138.90,116.30 139.40,116.90 139.90,121.55 140.40,121.29 140.90,120.97 141.40,123.11 141.90,125.23 142.40,125.86 142.90,127.15 143.40,128.02 143.90,128.08 144.40,129.70 144.90,130.16 145.40,131.14 145.90,131.61 146.40,132.24 146.90,132.35 147.40,132.57 147.90,132.77 148.40,132.89 148.90,133.02 149.40,133.06 149.90,133.20 150.40,133.15 150.90,133.23 151.40,133.22 151.90,133.29 152.40,133.27 152.90,133.29 153.40,133.30 153.90,133.30 154.40,133.30 154.90,133.30 155.40,133.30 155.90,133.30 156.40,133.30 156.90,133.30 157.40,133.30 157.90,133.30 158.40,133.30 158.90,133.30 159.40,133.30 159.90,133.30 160.40,133.30 160.90,133.30 161.40,133.30 161.90,133.30 162.40,133.30 162.90,133.30 163.40,133.30 163.90,133.30 164.40,133.30 164.90,133.30 165.40,133.30 165.90,133.30 166.40,133.30 166.90,133.30 167.40,133.30 167.90,133.30 168.40,133.30 168.90,133.30 169.40,133.30 169.90,133.30 170.40,133.30 170.90,133.30 171.40,133.30 171.90,133.30 172.40,133.30 172.90,133.30 173.40,133.30 173.90,133.30 174.40,133.30 174.90,133.30 175.40,133.30 175.90,133.30 176.0,133.6" fill="#dadada" stroke="none"/>
<polyline points="132.40,132.49 132.90,131.98 133.40,130.55 133.90,127.91 134.40,125.03 134.90,121.56 135.40,117.20 135.90,113.93 136.40,110.64 136.90,110.76 137.40,109.35 137.90,111.10 138.40,111.18 138.90,113.14 139.40,113.34 139.90,113.55 140.40,116.42 140.90,117.03 141.40,117.86 141.90,119.45 142.40,119.78 142.90,122.57 143.40,122.38 143.90,123.37 144.40,124.42 144.90,126.54 145.40,127.89 145.90,129.04 146.40,128.66 146.90,129.13 147.40,129.71 147.90,129.94 148.40,129.98 148.90,130.47 149.40,130.95 149.90,131.02 150.40,130.91 150.90,131.10 151.40,131.49 151.90,131.34 152.40,131.75 152.90,131.54 153.40,131.99 153.90,132.04 154.40,132.70 154.90,132.82 155.40,133.04 155.90,132.90 156.40,132.71 156.90,133.10 157.40,133.21 157.90,133.21 158.40,133.25 158.90,133.23 159.40,133.28 159.90,133.30 160.40,133.30 160.90,133.29 161.40,133.29 161.90,133.30 162.40,133.30 162.90,133.30 163.40,133.30 163.90,133.30 164.40,133.30 164.90,133.30 165.40,133.30 165.90,133.30 166.40,133.30 166.90,133.30 167.40,133.30 167.90,133.30 168.40,133.30 168.90,133.30 169.40,133.30 169.90,133.30 170.40,133.30 170.90,133.30 171.40,133.30 171.90,133.30 172.40,133.30 172.90,133.30 173.40,133.30 173.90,133.30 174.40,133.30 174.90,133.30 175.40,133.30 175.90,133.30" fill="none" stroke="#555" stroke-width="1.05"/>
<polyline points="132.40,132.61 132.90,132.39 133.40,131.63 133.90,129.13 134.40,127.49 134.90,123.93 135.40,118.78 135.90,115.66 136.40,112.50 136.90,108.84 137.40,107.84 137.90,106.18 138.40,109.23 138.90,107.98 139.40,109.05 139.90,111.50 140.40,112.64 140.90,113.96 141.40,116.42 141.90,118.18 142.40,118.03 142.90,120.98 143.40,122.40 143.90,122.65 144.40,124.93 144.90,126.10 145.40,127.74 145.90,128.55 146.40,129.34 146.90,129.86 147.40,129.18 147.90,130.31 148.40,130.95 148.90,130.56 149.40,129.91 149.90,130.63 150.40,130.27 150.90,130.69 151.40,131.12 151.90,130.89 152.40,131.28 152.90,131.16 153.40,131.31 153.90,131.82 154.40,131.46 154.90,132.55 155.40,132.31 155.90,132.67 156.40,132.70 156.90,132.95 157.40,133.30 157.90,133.19 158.40,133.15 158.90,133.24 159.40,133.30 159.90,133.30 160.40,133.28 160.90,133.27 161.40,133.30 161.90,133.30 162.40,133.30 162.90,133.30 163.40,133.30 163.90,133.30 164.40,133.30 164.90,133.30 165.40,133.30 165.90,133.30 166.40,133.30 166.90,133.30 167.40,133.30 167.90,133.30 168.40,133.30 168.90,133.30 169.40,133.30 169.90,133.30 170.40,133.30 170.90,133.30 171.40,133.30 171.90,133.30 172.40,133.30 172.90,133.30 173.40,133.30 173.90,133.30 174.40,133.30 174.90,133.30 175.40,133.30 175.90,133.30" fill="none" stroke="#111" stroke-width="1.1"/>
<line x1="133.4" y1="113" x2="133.4" y2="126" stroke="#111" stroke-width="1.4" />
</g>
<rect x="132.4" y="97.8" width="43.599999999999994" height="35.8" fill="none" stroke="#111" stroke-width="1.25"/>
<line x1="148.3" y1="107.6" x2="174.8" y2="107.6" stroke="#111" stroke-width="1.0" />
<line x1="148.3" y1="106.19999999999999" x2="148.3" y2="109.0" stroke="#111" stroke-width="1.0" />
<line x1="174.8" y1="106.19999999999999" x2="174.8" y2="109.0" stroke="#111" stroke-width="1.0" />
<line x1="132.4" y1="133.6" x2="132.4" y2="136.0" stroke="#111" stroke-width="0.8" />
<line x1="142.975" y1="133.6" x2="142.975" y2="136.0" stroke="#111" stroke-width="0.8" />
<line x1="153.55" y1="133.6" x2="153.55" y2="136.0" stroke="#111" stroke-width="0.8" />
<line x1="164.125" y1="133.6" x2="164.125" y2="136.0" stroke="#111" stroke-width="0.8" />
<line x1="174.7" y1="133.6" x2="174.7" y2="136.0" stroke="#111" stroke-width="0.8" />
<text x="130.55" y="143.9" font-size="6.0" text-anchor="middle">10</text>
<text x="135.50" y="140.4" font-size="5.0" text-anchor="middle">0</text>
<text x="141.12" y="143.9" font-size="6.0" text-anchor="middle">10</text>
<text x="146.07" y="140.4" font-size="5.0" text-anchor="middle">1</text>
<text x="151.70" y="143.9" font-size="6.0" text-anchor="middle">10</text>
<text x="156.65" y="140.4" font-size="5.0" text-anchor="middle">2</text>
<text x="162.28" y="143.9" font-size="6.0" text-anchor="middle">10</text>
<text x="167.22" y="140.4" font-size="5.0" text-anchor="middle">3</text>
<text x="172.85" y="143.9" font-size="6.0" text-anchor="middle">10</text>
<text x="177.80" y="140.4" font-size="5.0" text-anchor="middle">4</text>
<g clip-path="url(#cA22)">
<polygon points="193.0,133.9 193.00,132.51 193.50,131.66 194.00,130.10 194.50,127.53 195.00,121.96 195.50,118.46 196.00,114.06 196.50,108.95 197.00,108.47 197.50,109.41 198.00,109.38 198.50,108.98 199.00,112.27 199.50,113.80 200.00,116.87 200.50,118.55 201.00,119.54 201.50,122.31 202.00,124.06 202.50,125.22 203.00,127.57 203.50,128.00 204.00,130.09 204.50,131.01 205.00,131.72 205.50,132.44 206.00,132.37 206.50,132.82 207.00,132.86 207.50,133.33 208.00,133.28 208.50,133.33 209.00,133.51 209.50,133.55 210.00,133.60 210.50,133.52 211.00,133.59 211.50,133.58 212.00,133.60 212.50,133.59 213.00,133.60 213.50,133.59 214.00,133.60 214.50,133.60 215.00,133.60 215.50,133.60 216.00,133.60 216.50,133.60 217.00,133.60 217.50,133.60 218.00,133.60 218.50,133.60 219.00,133.60 219.50,133.60 220.00,133.60 220.50,133.60 221.00,133.60 221.50,133.60 222.00,133.60 222.50,133.60 223.00,133.60 223.50,133.60 224.00,133.60 224.50,133.60 225.00,133.60 225.50,133.60 226.00,133.60 226.50,133.60 227.00,133.60 227.50,133.60 228.00,133.60 228.50,133.60 229.00,133.60 229.50,133.60 230.00,133.60 230.50,133.60 231.00,133.60 231.50,133.60 232.00,133.60 232.50,133.60 233.00,133.60 233.50,133.60 234.00,133.60 234.50,133.60 235.00,133.60 235.4,133.9" fill="#dadada" stroke="none"/>
<polyline points="193.00,132.80 193.50,132.07 194.00,130.06 194.50,127.75 195.00,124.70 195.50,119.70 196.00,114.10 196.50,109.85 197.00,108.48 197.50,108.60 198.00,109.13 198.50,110.58 199.00,112.00 199.50,114.39 200.00,115.65 200.50,118.29 201.00,120.33 201.50,122.15 202.00,122.70 202.50,126.76 203.00,127.68 203.50,128.88 204.00,129.69 204.50,130.77 205.00,131.01 205.50,132.48 206.00,132.11 206.50,133.07 207.00,133.18 207.50,133.18 208.00,133.36 208.50,133.45 209.00,133.50 209.50,133.52 210.00,133.52 210.50,133.56 211.00,133.60 211.50,133.60 212.00,133.58 212.50,133.58 213.00,133.59 213.50,133.59 214.00,133.60 214.50,133.59 215.00,133.60 215.50,133.60 216.00,133.60 216.50,133.60 217.00,133.60 217.50,133.60 218.00,133.60 218.50,133.60 219.00,133.60 219.50,133.60 220.00,133.60 220.50,133.60 221.00,133.60 221.50,133.60 222.00,133.60 222.50,133.60 223.00,133.60 223.50,133.60 224.00,133.60 224.50,133.60 225.00,133.60 225.50,133.60 226.00,133.60 226.50,133.60 227.00,133.60 227.50,133.60 228.00,133.60 228.50,133.60 229.00,133.60 229.50,133.60 230.00,133.60 230.50,133.60 231.00,133.60 231.50,133.60 232.00,133.60 232.50,133.60 233.00,133.60 233.50,133.60 234.00,133.60 234.50,133.60 235.00,133.60" fill="none" stroke="#555" stroke-width="1.05"/>
<polyline points="193.00,133.43 193.50,133.36 194.00,133.29 194.50,133.18 195.00,133.17 195.50,133.14 196.00,133.07 196.50,132.89 197.00,132.82 197.50,132.61 198.00,132.12 198.50,132.42 199.00,131.77 199.50,131.22 200.00,130.24 200.50,129.43 201.00,129.08 201.50,128.54 202.00,128.00 202.50,126.32 203.00,125.62 203.50,125.49 204.00,124.14 204.50,122.84 205.00,121.47 205.50,121.36 206.00,118.99 206.50,118.28 207.00,118.68 207.50,117.71 208.00,117.64 208.50,117.06 209.00,115.54 209.50,114.24 210.00,114.05 210.50,115.18 211.00,116.19 211.50,117.45 212.00,118.02 212.50,120.50 213.00,121.58 213.50,124.14 214.00,125.77 214.50,127.90 215.00,128.22 215.50,129.89 216.00,131.25 216.50,132.24 217.00,132.42 217.50,132.79 218.00,133.33 218.50,133.33 219.00,133.28 219.50,133.50 220.00,133.57 220.50,133.55 221.00,133.54 221.50,133.60 222.00,133.60 222.50,133.60 223.00,133.60 223.50,133.60 224.00,133.60 224.50,133.60 225.00,133.60 225.50,133.60 226.00,133.60 226.50,133.60 227.00,133.60 227.50,133.60 228.00,133.60 228.50,133.60 229.00,133.60 229.50,133.60 230.00,133.60 230.50,133.60 231.00,133.60 231.50,133.60 232.00,133.60 232.50,133.60 233.00,133.60 233.50,133.60 234.00,133.60 234.50,133.60 235.00,133.60" fill="none" stroke="#111" stroke-width="1.1"/>
<line x1="194.2" y1="116" x2="194.2" y2="130" stroke="#111" stroke-width="1.4" />
</g>
<rect x="193.0" y="98.1" width="42.400000000000006" height="35.80000000000001" fill="none" stroke="#111" stroke-width="1.25"/>
<line x1="207.1" y1="107.89999999999999" x2="233.6" y2="107.89999999999999" stroke="#111" stroke-width="1.0" />
<line x1="207.1" y1="106.49999999999999" x2="207.1" y2="109.3" stroke="#111" stroke-width="1.0" />
<line x1="233.6" y1="106.49999999999999" x2="233.6" y2="109.3" stroke="#111" stroke-width="1.0" />
<line x1="193.0" y1="133.9" x2="193.0" y2="136.3" stroke="#111" stroke-width="0.8" />
<line x1="203.275" y1="133.9" x2="203.275" y2="136.3" stroke="#111" stroke-width="0.8" />
<line x1="213.55" y1="133.9" x2="213.55" y2="136.3" stroke="#111" stroke-width="0.8" />
<line x1="223.82500000000002" y1="133.9" x2="223.82500000000002" y2="136.3" stroke="#111" stroke-width="0.8" />
<line x1="234.10000000000002" y1="133.9" x2="234.10000000000002" y2="136.3" stroke="#111" stroke-width="0.8" />
<text x="191.15" y="143.9" font-size="6.0" text-anchor="middle">10</text>
<text x="196.10" y="140.4" font-size="5.0" text-anchor="middle">0</text>
<text x="201.43" y="143.9" font-size="6.0" text-anchor="middle">10</text>
<text x="206.38" y="140.4" font-size="5.0" text-anchor="middle">1</text>
<text x="211.70" y="143.9" font-size="6.0" text-anchor="middle">10</text>
<text x="216.65" y="140.4" font-size="5.0" text-anchor="middle">2</text>
<text x="221.97" y="143.9" font-size="6.0" text-anchor="middle">10</text>
<text x="226.92" y="140.4" font-size="5.0" text-anchor="middle">3</text>
<text x="232.25" y="143.9" font-size="6.0" text-anchor="middle">10</text>
<text x="237.20" y="140.4" font-size="5.0" text-anchor="middle">4</text>
<g clip-path="url(#cA23)">
<polygon points="252.0,133.7 252.00,130.60 252.50,129.59 253.00,126.15 253.50,122.73 254.00,119.94 254.50,117.40 255.00,113.08 255.50,110.28 256.00,109.49 256.50,109.08 257.00,108.95 257.50,111.45 258.00,113.06 258.50,114.80 259.00,115.83 259.50,117.74 260.00,119.76 260.50,120.88 261.00,121.53 261.50,125.00 262.00,126.29 262.50,127.55 263.00,129.02 263.50,129.14 264.00,130.48 264.50,130.93 265.00,132.12 265.50,132.00 266.00,132.50 266.50,132.98 267.00,132.81 267.50,132.96 268.00,133.16 268.50,133.21 269.00,133.36 269.50,133.28 270.00,133.37 270.50,133.36 271.00,133.37 271.50,133.38 272.00,133.40 272.50,133.39 273.00,133.40 273.50,133.39 274.00,133.40 274.50,133.40 275.00,133.40 275.50,133.40 276.00,133.40 276.50,133.40 277.00,133.40 277.50,133.40 278.00,133.40 278.50,133.40 279.00,133.40 279.50,133.40 280.00,133.40 280.50,133.40 281.00,133.40 281.50,133.40 282.00,133.40 282.50,133.40 283.00,133.40 283.50,133.40 284.00,133.40 284.50,133.40 285.00,133.40 285.50,133.40 286.00,133.40 286.50,133.40 287.00,133.40 287.50,133.40 288.00,133.40 288.50,133.40 289.00,133.40 289.50,133.40 290.00,133.40 290.50,133.40 291.00,133.40 291.50,133.40 292.00,133.40 292.50,133.40 293.00,133.40 293.50,133.40 294.00,133.40 294.50,133.40 295.00,133.40 295.4,133.7" fill="#dadada" stroke="none"/>
<polyline points="252.00,130.02 252.50,129.45 253.00,127.10 253.50,124.21 254.00,119.73 254.50,117.24 255.00,111.77 255.50,111.48 256.00,110.79 256.50,111.48 257.00,110.19 257.50,110.66 258.00,112.69 258.50,113.06 259.00,114.76 259.50,117.28 260.00,119.31 260.50,121.55 261.00,122.73 261.50,124.74 262.00,125.19 262.50,126.99 263.00,128.63 263.50,129.73 264.00,130.27 264.50,130.79 265.00,131.61 265.50,131.89 266.00,132.56 266.50,132.70 267.00,132.84 267.50,133.05 268.00,133.14 268.50,133.17 269.00,133.30 269.50,133.28 270.00,133.38 270.50,133.36 271.00,133.39 271.50,133.40 272.00,133.38 272.50,133.38 273.00,133.40 273.50,133.40 274.00,133.39 274.50,133.40 275.00,133.40 275.50,133.40 276.00,133.40 276.50,133.40 277.00,133.40 277.50,133.40 278.00,133.40 278.50,133.40 279.00,133.40 279.50,133.40 280.00,133.40 280.50,133.40 281.00,133.40 281.50,133.40 282.00,133.40 282.50,133.40 283.00,133.40 283.50,133.40 284.00,133.40 284.50,133.40 285.00,133.40 285.50,133.40 286.00,133.40 286.50,133.40 287.00,133.40 287.50,133.40 288.00,133.40 288.50,133.40 289.00,133.40 289.50,133.40 290.00,133.40 290.50,133.40 291.00,133.40 291.50,133.40 292.00,133.40 292.50,133.40 293.00,133.40 293.50,133.40 294.00,133.40 294.50,133.40 295.00,133.40" fill="none" stroke="#555" stroke-width="1.05"/>
<polyline points="252.00,131.55 252.50,129.68 253.00,127.69 253.50,123.67 254.00,121.26 254.50,117.33 255.00,115.55 255.50,111.23 256.00,108.18 256.50,109.32 257.00,108.93 257.50,110.82 258.00,112.12 258.50,111.91 259.00,114.74 259.50,116.91 260.00,117.86 260.50,119.89 261.00,120.62 261.50,122.61 262.00,125.59 262.50,125.89 263.00,128.17 263.50,128.56 264.00,129.40 264.50,130.64 265.00,131.30 265.50,131.48 266.00,132.19 266.50,132.68 267.00,132.44 267.50,132.79 268.00,133.00 268.50,133.13 269.00,133.15 269.50,133.28 270.00,133.28 270.50,133.34 271.00,133.39 271.50,133.35 272.00,133.38 272.50,133.40 273.00,133.40 273.50,133.40 274.00,133.40 274.50,133.40 275.00,133.40 275.50,133.40 276.00,133.40 276.50,133.40 277.00,133.40 277.50,133.40 278.00,133.40 278.50,133.40 279.00,133.40 279.50,133.40 280.00,133.40 280.50,133.40 281.00,133.40 281.50,133.40 282.00,133.40 282.50,133.40 283.00,133.40 283.50,133.40 284.00,133.40 284.50,133.40 285.00,133.40 285.50,133.40 286.00,133.40 286.50,133.40 287.00,133.40 287.50,133.40 288.00,133.40 288.50,133.40 289.00,133.40 289.50,133.40 290.00,133.40 290.50,133.40 291.00,133.40 291.50,133.40 292.00,133.40 292.50,133.40 293.00,133.40 293.50,133.40 294.00,133.40 294.50,133.40 295.00,133.40" fill="none" stroke="#111" stroke-width="1.1"/>
<line x1="252.9" y1="111" x2="252.9" y2="127" stroke="#111" stroke-width="1.4" />
</g>
<rect x="252.0" y="98.1" width="43.39999999999998" height="35.599999999999994" fill="none" stroke="#111" stroke-width="1.25"/>
<line x1="266.9" y1="107.89999999999999" x2="294.3" y2="107.89999999999999" stroke="#111" stroke-width="1.0" />
<line x1="266.9" y1="106.49999999999999" x2="266.9" y2="109.3" stroke="#111" stroke-width="1.0" />
<line x1="294.3" y1="106.49999999999999" x2="294.3" y2="109.3" stroke="#111" stroke-width="1.0" />
<line x1="252.0" y1="133.7" x2="252.0" y2="136.1" stroke="#111" stroke-width="0.8" />
<line x1="262.525" y1="133.7" x2="262.525" y2="136.1" stroke="#111" stroke-width="0.8" />
<line x1="273.05" y1="133.7" x2="273.05" y2="136.1" stroke="#111" stroke-width="0.8" />
<line x1="283.575" y1="133.7" x2="283.575" y2="136.1" stroke="#111" stroke-width="0.8" />
<line x1="294.09999999999997" y1="133.7" x2="294.09999999999997" y2="136.1" stroke="#111" stroke-width="0.8" />
<text x="250.15" y="143.9" font-size="6.0" text-anchor="middle">10</text>
<text x="255.10" y="140.4" font-size="5.0" text-anchor="middle">0</text>
<text x="260.67" y="143.9" font-size="6.0" text-anchor="middle">10</text>
<text x="265.62" y="140.4" font-size="5.0" text-anchor="middle">1</text>
<text x="271.20" y="143.9" font-size="6.0" text-anchor="middle">10</text>
<text x="276.15" y="140.4" font-size="5.0" text-anchor="middle">2</text>
<text x="281.72" y="143.9" font-size="6.0" text-anchor="middle">10</text>
<text x="286.68" y="140.4" font-size="5.0" text-anchor="middle">3</text>
<text x="292.25" y="143.9" font-size="6.0" text-anchor="middle">10</text>
<text x="297.20" y="140.4" font-size="5.0" text-anchor="middle">4</text>
<text x="66.4" y="20.5" font-size="6.3" text-anchor="end" font-weight="normal" >120</text>
<text x="66.2" y="54.8" font-size="6.3" text-anchor="end" font-weight="normal" >0</text>
<text x="66.4" y="61.300000000000004" font-size="6.3" text-anchor="end" font-weight="normal" >120</text>
<text x="66.2" y="94.8" font-size="6.3" text-anchor="end" font-weight="normal" >0</text>
<text x="66.4" y="101.0" font-size="6.3" text-anchor="end" font-weight="normal" >100</text>
<text x="66.2" y="135.70000000000002" font-size="6.3" text-anchor="end" font-weight="normal" >0</text>
<text x="375.3" y="12.0" font-size="12.8" text-anchor="start" font-weight="bold" >B</text>
<path d="M433.1,58.0h1.0v1.0h-1.0zM434.2,62.6h1.0v1.0h-1.0zM429.8,55.0h1.0v1.0h-1.0zM446.8,55.5h1.0v1.0h-1.0zM463.6,49.2h1.0v1.0h-1.0zM470.7,52.0h1.0v1.0h-1.0zM472.4,54.8h1.0v1.0h-1.0zM437.5,57.9h1.0v1.0h-1.0zM453.4,52.3h1.0v1.0h-1.0zM459.5,56.3h1.0v1.0h-1.0zM452.4,51.5h1.0v1.0h-1.0zM430.5,62.4h1.0v1.0h-1.0zM450.3,50.3h1.0v1.0h-1.0zM464.2,56.2h1.0v1.0h-1.0zM438.2,51.4h1.0v1.0h-1.0zM437.2,55.4h1.0v1.0h-1.0zM452.5,59.1h1.0v1.0h-1.0zM465.5,48.2h1.0v1.0h-1.0zM434.9,63.4h1.0v1.0h-1.0zM452.0,56.6h1.0v1.0h-1.0zM428.9,54.5h1.0v1.0h-1.0zM474.0,50.8h1.0v1.0h-1.0zM443.9,50.7h1.0v1.0h-1.0zM435.6,52.0h1.0v1.0h-1.0zM433.1,60.6h1.0v1.0h-1.0zM437.0,52.1h1.0v1.0h-1.0zM459.9,48.1h1.0v1.0h-1.0zM431.1,53.5h1.0v1.0h-1.0zM442.5,59.4h1.0v1.0h-1.0zM453.9,58.1h1.0v1.0h-1.0zM438.2,54.9h1.0v1.0h-1.0zM440.5,63.1h1.0v1.0h-1.0zM450.7,52.3h1.0v1.0h-1.0zM429.6,57.7h1.0v1.0h-1.0zM439.8,61.4h1.0v1.0h-1.0zM468.1,53.4h1.0v1.0h-1.0zM465.3,56.2h1.0v1.0h-1.0zM434.3,59.2h1.0v1.0h-1.0zM434.0,57.2h1.0v1.0h-1.0zM470.6,53.7h1.0v1.0h-1.0zM427.8,57.8h1.0v1.0h-1.0zM435.1,63.4h1.0v1.0h-1.0zM434.0,55.0h1.0v1.0h-1.0zM446.2,49.9h1.0v1.0h-1.0zM475.4,50.2h1.0v1.0h-1.0zM454.2,49.0h1.0v1.0h-1.0zM460.6,48.2h1.0v1.0h-1.0zM432.4,58.7h1.0v1.0h-1.0zM462.1,54.2h1.0v1.0h-1.0zM445.9,50.8h1.0v1.0h-1.0zM443.8,54.7h1.0v1.0h-1.0zM430.7,59.0h1.0v1.0h-1.0zM480.7,52.0h1.0v1.0h-1.0zM429.6,61.6h1.0v1.0h-1.0zM452.3,48.8h1.0v1.0h-1.0zM471.5,53.9h1.0v1.0h-1.0zM433.7,56.7h1.0v1.0h-1.0zM454.2,51.4h1.0v1.0h-1.0zM460.3,50.3h1.0v1.0h-1.0zM461.3,55.2h1.0v1.0h-1.0zM442.4,60.3h1.0v1.0h-1.0zM449.5,55.5h1.0v1.0h-1.0zM464.2,50.3h1.0v1.0h-1.0zM431.3,56.5h1.0v1.0h-1.0zM457.1,48.2h1.0v1.0h-1.0zM434.6,61.1h1.0v1.0h-1.0zM470.5,54.7h1.0v1.0h-1.0zM462.6,55.1h1.0v1.0h-1.0zM447.7,50.8h1.0v1.0h-1.0zM475.8,52.8h1.0v1.0h-1.0zM457.7,56.5h1.0v1.0h-1.0zM451.3,55.2h1.0v1.0h-1.0zM429.4,59.2h1.0v1.0h-1.0zM472.2,53.7h1.0v1.0h-1.0zM454.1,58.4h1.0v1.0h-1.0zM432.0,62.1h1.0v1.0h-1.0zM447.0,50.1h1.0v1.0h-1.0zM461.1,52.2h1.0v1.0h-1.0zM461.0,53.2h1.0v1.0h-1.0zM454.3,49.6h1.0v1.0h-1.0zM455.0,58.0h1.0v1.0h-1.0zM435.6,51.9h1.0v1.0h-1.0zM429.7,58.2h1.0v1.0h-1.0zM456.4,49.3h1.0v1.0h-1.0zM449.7,51.1h1.0v1.0h-1.0zM466.5,50.5h1.0v1.0h-1.0zM440.4,61.7h1.0v1.0h-1.0zM469.5,51.4h1.0v1.0h-1.0zM467.8,48.9h1.0v1.0h-1.0zM434.9,56.1h1.0v1.0h-1.0zM454.7,48.8h1.0v1.0h-1.0zM428.8,56.2h1.0v1.0h-1.0zM447.8,58.2h1.0v1.0h-1.0zM428.4,58.5h1.0v1.0h-1.0zM475.7,51.1h1.0v1.0h-1.0zM476.4,51.3h1.0v1.0h-1.0zM468.3,49.5h1.0v1.0h-1.0zM458.6,55.0h1.0v1.0h-1.0zM471.9,51.6h1.0v1.0h-1.0zM432.5,62.4h1.0v1.0h-1.0zM475.4,52.2h1.0v1.0h-1.0zM464.2,49.6h1.0v1.0h-1.0zM442.4,59.3h1.0v1.0h-1.0zM444.3,58.4h1.0v1.0h-1.0zM454.4,53.3h1.0v1.0h-1.0zM453.6,50.0h1.0v1.0h-1.0zM444.7,51.5h1.0v1.0h-1.0zM459.7,49.2h1.0v1.0h-1.0zM427.6,58.1h1.0v1.0h-1.0zM459.0,57.4h1.0v1.0h-1.0zM477.8,52.7h1.0v1.0h-1.0zM453.0,54.4h1.0v1.0h-1.0zM448.4,53.7h1.0v1.0h-1.0zM428.2,61.6h1.0v1.0h-1.0zM439.8,50.9h1.0v1.0h-1.0zM452.4,56.9h1.0v1.0h-1.0zM450.7,52.9h1.0v1.0h-1.0zM426.4,60.1h1.0v1.0h-1.0zM456.0,57.8h1.0v1.0h-1.0zM449.5,58.4h1.0v1.0h-1.0zM426.8,55.3h1.0v1.0h-1.0zM459.9,48.5h1.0v1.0h-1.0zM433.1,56.6h1.0v1.0h-1.0zM445.0,56.6h1.0v1.0h-1.0zM436.3,58.4h1.0v1.0h-1.0zM425.9,58.5h1.0v1.0h-1.0zM443.9,54.6h1.0v1.0h-1.0zM428.7,59.3h1.0v1.0h-1.0zM461.4,57.4h1.0v1.0h-1.0zM446.0,57.6h1.0v1.0h-1.0zM451.0,51.0h1.0v1.0h-1.0zM476.5,53.5h1.0v1.0h-1.0zM472.6,49.7h1.0v1.0h-1.0zM426.7,56.8h1.0v1.0h-1.0zM449.3,57.2h1.0v1.0h-1.0zM450.8,54.7h1.0v1.0h-1.0zM440.0,59.8h1.0v1.0h-1.0zM464.7,50.6h1.0v1.0h-1.0zM427.6,56.9h1.0v1.0h-1.0zM427.0,61.8h1.0v1.0h-1.0zM432.8,63.1h1.0v1.0h-1.0zM437.9,54.8h1.0v1.0h-1.0zM459.2,51.9h1.0v1.0h-1.0zM431.7,57.1h1.0v1.0h-1.0zM427.2,56.8h1.0v1.0h-1.0zM441.2,59.1h1.0v1.0h-1.0zM447.3,58.0h1.0v1.0h-1.0zM471.0,49.8h1.0v1.0h-1.0zM436.1,60.5h1.0v1.0h-1.0zM466.1,54.7h1.0v1.0h-1.0zM449.8,50.2h1.0v1.0h-1.0zM476.6,52.0h1.0v1.0h-1.0zM464.7,51.1h1.0v1.0h-1.0zM458.6,55.5h1.0v1.0h-1.0zM479.2,51.4h1.0v1.0h-1.0zM447.0,60.8h1.0v1.0h-1.0zM448.3,58.8h1.0v1.0h-1.0zM431.1,57.9h1.0v1.0h-1.0zM455.2,57.3h1.0v1.0h-1.0zM461.0,49.4h1.0v1.0h-1.0zM473.3,54.4h1.0v1.0h-1.0zM436.4,57.7h1.0v1.0h-1.0zM444.2,57.8h1.0v1.0h-1.0zM460.5,51.2h1.0v1.0h-1.0zM454.5,52.4h1.0v1.0h-1.0zM452.9,51.3h1.0v1.0h-1.0zM440.3,62.8h1.0v1.0h-1.0zM443.7,60.9h1.0v1.0h-1.0zM459.7,49.5h1.0v1.0h-1.0zM479.5,51.8h1.0v1.0h-1.0zM466.2,51.9h1.0v1.0h-1.0zM462.0,48.1h1.0v1.0h-1.0zM464.4,56.2h1.0v1.0h-1.0zM440.9,61.0h1.0v1.0h-1.0zM477.0,50.4h1.0v1.0h-1.0zM435.2,54.5h1.0v1.0h-1.0zM446.4,50.5h1.0v1.0h-1.0zM434.4,52.3h1.0v1.0h-1.0zM461.5,55.3h1.0v1.0h-1.0zM456.3,49.0h1.0v1.0h-1.0zM442.1,52.9h1.0v1.0h-1.0zM443.4,53.9h1.0v1.0h-1.0zM458.6,51.4h1.0v1.0h-1.0zM426.1,55.8h1.0v1.0h-1.0zM475.1,52.8h1.0v1.0h-1.0zM455.4,55.8h1.0v1.0h-1.0zM453.0,48.7h1.0v1.0h-1.0zM442.2,62.8h1.0v1.0h-1.0zM470.6,50.8h1.0v1.0h-1.0zM451.4,50.3h1.0v1.0h-1.0zM456.0,54.7h1.0v1.0h-1.0zM465.3,48.4h1.0v1.0h-1.0zM462.2,54.4h1.0v1.0h-1.0zM461.4,55.0h1.0v1.0h-1.0zM461.1,48.7h1.0v1.0h-1.0zM431.6,58.8h1.0v1.0h-1.0zM443.4,51.0h1.0v1.0h-1.0zM451.4,54.2h1.0v1.0h-1.0zM452.5,55.7h1.0v1.0h-1.0zM441.3,61.7h1.0v1.0h-1.0zM442.2,51.3h1.0v1.0h-1.0zM445.7,61.2h1.0v1.0h-1.0zM434.9,55.1h1.0v1.0h-1.0zM436.1,60.4h1.0v1.0h-1.0zM480.5,52.5h1.0v1.0h-1.0zM457.3,49.5h1.0v1.0h-1.0zM443.6,56.1h1.0v1.0h-1.0zM427.8,54.8h1.0v1.0h-1.0zM440.9,58.1h1.0v1.0h-1.0zM468.5,54.5h1.0v1.0h-1.0zM467.6,48.9h1.0v1.0h-1.0zM429.3,61.1h1.0v1.0h-1.0zM437.3,60.8h1.0v1.0h-1.0zM452.3,48.3h1.0v1.0h-1.0zM457.8,48.7h1.0v1.0h-1.0zM440.7,54.3h1.0v1.0h-1.0zM445.5,58.3h1.0v1.0h-1.0zM435.3,56.9h1.0v1.0h-1.0zM460.4,49.0h1.0v1.0h-1.0zM430.3,55.5h1.0v1.0h-1.0zM438.4,52.9h1.0v1.0h-1.0zM430.1,55.7h1.0v1.0h-1.0zM438.5,56.9h1.0v1.0h-1.0zM462.7,49.5h1.0v1.0h-1.0zM431.2,55.9h1.0v1.0h-1.0zM435.5,57.4h1.0v1.0h-1.0zM475.5,50.4h1.0v1.0h-1.0zM427.8,55.2h1.0v1.0h-1.0zM450.6,52.9h1.0v1.0h-1.0zM440.3,59.3h1.0v1.0h-1.0zM458.2,57.6h1.0v1.0h-1.0zM432.3,54.9h1.0v1.0h-1.0zM458.0,58.5h1.0v1.0h-1.0zM459.3,55.2h1.0v1.0h-1.0zM433.4,59.1h1.0v1.0h-1.0zM443.2,54.4h1.0v1.0h-1.0zM434.7,52.1h1.0v1.0h-1.0zM474.5,53.1h1.0v1.0h-1.0zM442.2,55.4h1.0v1.0h-1.0zM435.8,58.7h1.0v1.0h-1.0zM473.6,54.2h1.0v1.0h-1.0zM440.6,59.5h1.0v1.0h-1.0zM433.0,58.4h1.0v1.0h-1.0zM432.1,58.6h1.0v1.0h-1.0zM456.7,51.8h1.0v1.0h-1.0zM445.7,58.3h1.0v1.0h-1.0zM453.2,53.0h1.0v1.0h-1.0zM432.2,55.9h1.0v1.0h-1.0zM474.1,51.1h1.0v1.0h-1.0zM475.4,50.4h1.0v1.0h-1.0zM441.4,59.2h1.0v1.0h-1.0zM443.2,62.2h1.0v1.0h-1.0zM446.6,58.4h1.0v1.0h-1.0zM432.1,53.5h1.0v1.0h-1.0zM451.6,56.0h1.0v1.0h-1.0zM441.3,61.2h1.0v1.0h-1.0zM441.0,61.3h1.0v1.0h-1.0zM427.7,57.0h1.0v1.0h-1.0zM434.9,57.1h1.0v1.0h-1.0zM445.8,54.2h1.0v1.0h-1.0zM474.3,52.3h1.0v1.0h-1.0zM448.0,59.0h1.0v1.0h-1.0zM454.4,56.8h1.0v1.0h-1.0zM450.6,51.7h1.0v1.0h-1.0zM477.8,52.7h1.0v1.0h-1.0zM438.4,56.3h1.0v1.0h-1.0zM472.2,50.2h1.0v1.0h-1.0zM447.2,49.9h1.0v1.0h-1.0zM464.2,48.2h1.0v1.0h-1.0zM443.0,59.8h1.0v1.0h-1.0zM437.2,57.8h1.0v1.0h-1.0zM471.7,49.5h1.0v1.0h-1.0zM477.6,51.9h1.0v1.0h-1.0zM444.8,56.9h1.0v1.0h-1.0zM448.1,50.2h1.0v1.0h-1.0zM432.8,53.2h1.0v1.0h-1.0zM435.5,54.6h1.0v1.0h-1.0zM462.0,53.7h1.0v1.0h-1.0zM448.0,49.8h1.0v1.0h-1.0zM449.7,49.5h1.0v1.0h-1.0zM429.6,54.9h1.0v1.0h-1.0zM448.0,58.4h1.0v1.0h-1.0zM441.9,59.7h1.0v1.0h-1.0zM439.1,54.3h1.0v1.0h-1.0zM452.7,49.1h1.0v1.0h-1.0zM451.4,55.4h1.0v1.0h-1.0zM471.4,52.4h1.0v1.0h-1.0zM428.7,62.3h1.0v1.0h-1.0zM441.6,57.2h1.0v1.0h-1.0zM456.5,58.1h1.0v1.0h-1.0zM460.1,50.2h1.0v1.0h-1.0zM463.5,52.7h1.0v1.0h-1.0zM461.6,51.2h1.0v1.0h-1.0zM453.1,53.5h1.0v1.0h-1.0zM438.0,58.0h1.0v1.0h-1.0zM442.7,50.6h1.0v1.0h-1.0zM459.8,50.2h1.0v1.0h-1.0zM451.3,53.8h1.0v1.0h-1.0zM427.7,62.9h1.0v1.0h-1.0zM438.9,58.5h1.0v1.0h-1.0zM438.5,58.3h1.0v1.0h-1.0zM445.9,53.2h1.0v1.0h-1.0zM452.8,55.2h1.0v1.0h-1.0zM459.9,50.6h1.0v1.0h-1.0zM431.0,55.9h1.0v1.0h-1.0zM444.4,57.3h1.0v1.0h-1.0zM449.4,52.5h1.0v1.0h-1.0zM431.4,59.3h1.0v1.0h-1.0zM432.1,58.3h1.0v1.0h-1.0zM465.0,49.4h1.0v1.0h-1.0zM446.1,61.2h1.0v1.0h-1.0zM431.0,60.2h1.0v1.0h-1.0zM450.7,56.0h1.0v1.0h-1.0zM448.2,50.3h1.0v1.0h-1.0zM457.9,57.3h1.0v1.0h-1.0zM456.4,53.9h1.0v1.0h-1.0zM428.3,57.1h1.0v1.0h-1.0zM449.0,58.5h1.0v1.0h-1.0zM467.4,48.3h1.0v1.0h-1.0zM462.7,49.0h1.0v1.0h-1.0zM461.8,50.9h1.0v1.0h-1.0zM441.1,57.0h1.0v1.0h-1.0zM439.9,55.6h1.0v1.0h-1.0zM440.2,57.2h1.0v1.0h-1.0zM478.1,52.3h1.0v1.0h-1.0zM477.0,52.4h1.0v1.0h-1.0zM450.2,50.3h1.0v1.0h-1.0zM467.5,55.9h1.0v1.0h-1.0zM444.1,60.9h1.0v1.0h-1.0zM438.3,62.7h1.0v1.0h-1.0zM428.5,57.3h1.0v1.0h-1.0zM433.5,52.5h1.0v1.0h-1.0zM440.0,62.7h1.0v1.0h-1.0zM469.2,50.6h1.0v1.0h-1.0zM444.5,50.0h1.0v1.0h-1.0zM434.9,58.3h1.0v1.0h-1.0zM427.2,59.5h1.0v1.0h-1.0zM435.5,60.5h1.0v1.0h-1.0zM433.1,54.8h1.0v1.0h-1.0zM441.1,57.8h1.0v1.0h-1.0zM471.9,53.4h1.0v1.0h-1.0zM464.7,51.1h1.0v1.0h-1.0zM436.1,61.8h1.0v1.0h-1.0zM449.1,56.8h1.0v1.0h-1.0zM429.7,57.3h1.0v1.0h-1.0zM431.5,56.8h1.0v1.0h-1.0zM467.6,53.6h1.0v1.0h-1.0zM432.8,56.8h1.0v1.0h-1.0zM449.2,55.0h1.0v1.0h-1.0zM438.8,59.6h1.0v1.0h-1.0zM476.1,49.7h1.0v1.0h-1.0zM453.6,52.2h1.0v1.0h-1.0zM458.5,55.7h1.0v1.0h-1.0zM449.6,60.3h1.0v1.0h-1.0zM426.9,58.5h1.0v1.0h-1.0zM453.5,58.0h1.0v1.0h-1.0zM443.3,59.3h1.0v1.0h-1.0zM449.7,51.8h1.0v1.0h-1.0zM478.8,51.2h1.0v1.0h-1.0zM457.1,58.2h1.0v1.0h-1.0zM438.1,62.3h1.0v1.0h-1.0zM476.2,52.5h1.0v1.0h-1.0zM464.8,53.2h1.0v1.0h-1.0zM437.0,58.1h1.0v1.0h-1.0zM464.2,54.2h1.0v1.0h-1.0zM451.9,58.0h1.0v1.0h-1.0zM430.4,54.7h1.0v1.0h-1.0zM444.3,56.3h1.0v1.0h-1.0zM444.6,52.0h1.0v1.0h-1.0zM469.6,54.7h1.0v1.0h-1.0zM439.7,59.4h1.0v1.0h-1.0zM446.2,60.0h1.0v1.0h-1.0zM462.6,48.8h1.0v1.0h-1.0zM468.6,53.9h1.0v1.0h-1.0zM426.7,61.4h1.0v1.0h-1.0zM481.0,51.5h1.0v1.0h-1.0zM429.1,59.5h1.0v1.0h-1.0zM455.9,57.3h1.0v1.0h-1.0zM439.1,56.6h1.0v1.0h-1.0zM443.1,55.0h1.0v1.0h-1.0zM460.4,49.7h1.0v1.0h-1.0zM465.2,51.5h1.0v1.0h-1.0zM440.4,56.4h1.0v1.0h-1.0zM458.6,53.3h1.0v1.0h-1.0zM462.1,53.4h1.0v1.0h-1.0zM447.6,61.1h1.0v1.0h-1.0zM435.6,52.2h1.0v1.0h-1.0zM434.4,56.5h1.0v1.0h-1.0zM445.3,53.8h1.0v1.0h-1.0zM433.4,54.8h1.0v1.0h-1.0zM446.4,59.0h1.0v1.0h-1.0zM445.8,56.6h1.0v1.0h-1.0zM439.3,54.1h1.0v1.0h-1.0zM436.5,54.6h1.0v1.0h-1.0zM473.6,49.7h1.0v1.0h-1.0zM445.7,58.5h1.0v1.0h-1.0zM474.8,52.9h1.0v1.0h-1.0zM439.3,60.6h1.0v1.0h-1.0zM439.2,51.1h1.0v1.0h-1.0zM461.7,47.9h1.0v1.0h-1.0zM455.4,58.7h1.0v1.0h-1.0zM427.4,56.0h1.0v1.0h-1.0zM429.1,58.2h1.0v1.0h-1.0zM447.7,59.9h1.0v1.0h-1.0zM429.6,55.8h1.0v1.0h-1.0zM440.6,55.5h1.0v1.0h-1.0zM425.8,57.8h1.0v1.0h-1.0zM460.2,54.1h1.0v1.0h-1.0zM462.9,48.2h1.0v1.0h-1.0zM463.1,50.0h1.0v1.0h-1.0zM449.7,51.5h1.0v1.0h-1.0zM435.1,61.1h1.0v1.0h-1.0zM469.2,53.4h1.0v1.0h-1.0zM449.6,54.5h1.0v1.0h-1.0zM457.4,54.4h1.0v1.0h-1.0zM436.6,62.7h1.0v1.0h-1.0zM440.1,57.0h1.0v1.0h-1.0zM478.0,51.6h1.0v1.0h-1.0zM465.8,56.1h1.0v1.0h-1.0zM436.1,53.2h1.0v1.0h-1.0zM442.2,51.8h1.0v1.0h-1.0zM469.4,49.4h1.0v1.0h-1.0zM430.0,56.9h1.0v1.0h-1.0zM465.0,52.1h1.0v1.0h-1.0zM462.2,56.4h1.0v1.0h-1.0zM432.5,60.4h1.0v1.0h-1.0zM470.1,51.4h1.0v1.0h-1.0zM434.7,57.4h1.0v1.0h-1.0zM446.9,54.0h1.0v1.0h-1.0zM471.6,53.1h1.0v1.0h-1.0zM429.1,57.8h1.0v1.0h-1.0zM474.2,53.3h1.0v1.0h-1.0zM461.3,57.8h1.0v1.0h-1.0zM466.5,56.2h1.0v1.0h-1.0zM468.0,48.9h1.0v1.0h-1.0zM427.9,62.7h1.0v1.0h-1.0zM439.3,54.5h1.0v1.0h-1.0zM433.5,59.4h1.0v1.0h-1.0zM427.5,61.7h1.0v1.0h-1.0zM442.8,59.5h1.0v1.0h-1.0zM477.7,51.4h1.0v1.0h-1.0zM461.4,54.9h1.0v1.0h-1.0zM440.2,50.5h1.0v1.0h-1.0zM475.9,49.8h1.0v1.0h-1.0zM457.2,54.4h1.0v1.0h-1.0zM442.5,61.4h1.0v1.0h-1.0zM439.5,52.4h1.0v1.0h-1.0zM443.4,54.0h1.0v1.0h-1.0zM476.2,50.1h1.0v1.0h-1.0zM448.2,50.0h1.0v1.0h-1.0zM466.0,48.9h1.0v1.0h-1.0zM454.3,50.9h1.0v1.0h-1.0zM442.0,59.7h1.0v1.0h-1.0zM456.7,51.4h1.0v1.0h-1.0zM429.3,59.7h1.0v1.0h-1.0zM434.7,59.8h1.0v1.0h-1.0zM459.8,55.8h1.0v1.0h-1.0zM442.1,59.0h1.0v1.0h-1.0zM462.7,50.0h1.0v1.0h-1.0zM469.7,51.7h1.0v1.0h-1.0zM466.4,54.5h1.0v1.0h-1.0zM451.2,57.4h1.0v1.0h-1.0zM465.6,51.6h1.0v1.0h-1.0zM445.7,62.0h1.0v1.0h-1.0zM455.2,52.8h1.0v1.0h-1.0zM465.7,56.3h1.0v1.0h-1.0zM468.8,50.5h1.0v1.0h-1.0zM471.9,53.7h1.0v1.0h-1.0zM468.0,52.0h1.0v1.0h-1.0zM430.4,58.9h1.0v1.0h-1.0zM439.6,51.0h1.0v1.0h-1.0zM479.1,52.0h1.0v1.0h-1.0zM468.5,51.8h1.0v1.0h-1.0zM432.7,55.8h1.0v1.0h-1.0zM454.6,54.8h1.0v1.0h-1.0zM443.0,51.4h1.0v1.0h-1.0zM445.3,51.6h1.0v1.0h-1.0zM448.3,55.6h1.0v1.0h-1.0zM440.2,56.8h1.0v1.0h-1.0zM457.3,48.4h1.0v1.0h-1.0zM434.1,63.2h1.0v1.0h-1.0zM435.4,60.2h1.0v1.0h-1.0zM453.3,51.2h1.0v1.0h-1.0zM447.4,55.0h1.0v1.0h-1.0zM446.9,52.1h1.0v1.0h-1.0zM449.5,54.0h1.0v1.0h-1.0zM428.4,61.9h1.0v1.0h-1.0zM429.7,59.9h1.0v1.0h-1.0zM457.1,58.7h1.0v1.0h-1.0zM436.6,62.1h1.0v1.0h-1.0zM433.2,54.4h1.0v1.0h-1.0zM463.1,53.5h1.0v1.0h-1.0zM470.8,55.1h1.0v1.0h-1.0zM426.5,55.9h1.0v1.0h-1.0zM461.1,51.9h1.0v1.0h-1.0zM428.7,55.6h1.0v1.0h-1.0zM457.5,56.4h1.0v1.0h-1.0zM469.0,50.2h1.0v1.0h-1.0zM433.1,55.0h1.0v1.0h-1.0zM437.2,62.3h1.0v1.0h-1.0zM449.0,50.1h1.0v1.0h-1.0zM462.2,48.1h1.0v1.0h-1.0zM464.2,54.6h1.0v1.0h-1.0zM450.9,50.2h1.0v1.0h-1.0zM471.6,51.5h1.0v1.0h-1.0zM469.1,55.7h1.0v1.0h-1.0zM447.9,56.8h1.0v1.0h-1.0zM430.6,54.6h1.0v1.0h-1.0zM440.3,54.0h1.0v1.0h-1.0zM451.2,51.1h1.0v1.0h-1.0zM447.6,60.3h1.0v1.0h-1.0zM471.2,54.6h1.0v1.0h-1.0zM445.0,55.4h1.0v1.0h-1.0zM448.6,59.5h1.0v1.0h-1.0zM471.7,50.2h1.0v1.0h-1.0zM450.9,49.3h1.0v1.0h-1.0zM448.4,50.6h1.0v1.0h-1.0zM474.4,50.7h1.0v1.0h-1.0zM451.2,55.8h1.0v1.0h-1.0zM445.8,51.7h1.0v1.0h-1.0zM459.3,58.4h1.0v1.0h-1.0zM444.2,52.8h1.0v1.0h-1.0zM430.2,55.7h1.0v1.0h-1.0zM427.3,57.0h1.0v1.0h-1.0zM462.6,50.1h1.0v1.0h-1.0zM453.4,53.3h1.0v1.0h-1.0zM451.3,49.8h1.0v1.0h-1.0zM458.0,48.0h1.0v1.0h-1.0zM430.4,59.3h1.0v1.0h-1.0zM444.0,52.8h1.0v1.0h-1.0zM443.4,61.7h1.0v1.0h-1.0zM441.0,51.2h1.0v1.0h-1.0zM456.5,58.1h1.0v1.0h-1.0zM428.8,54.5h1.0v1.0h-1.0zM427.5,57.1h1.0v1.0h-1.0zM435.3,63.0h1.0v1.0h-1.0zM470.0,52.6h1.0v1.0h-1.0zM472.6,50.6h1.0v1.0h-1.0zM463.0,52.3h1.0v1.0h-1.0zM435.8,61.7h1.0v1.0h-1.0zM452.2,50.3h1.0v1.0h-1.0zM443.9,53.2h1.0v1.0h-1.0zM479.3,51.8h1.0v1.0h-1.0zM432.4,59.2h1.0v1.0h-1.0zM428.9,58.5h1.0v1.0h-1.0zM461.1,56.9h1.0v1.0h-1.0zM437.4,61.8h1.0v1.0h-1.0zM454.1,55.4h1.0v1.0h-1.0zM452.1,58.5h1.0v1.0h-1.0zM442.9,49.8h1.0v1.0h-1.0zM473.1,53.1h1.0v1.0h-1.0zM432.9,54.9h1.0v1.0h-1.0zM461.4,54.4h1.0v1.0h-1.0zM459.8,49.4h1.0v1.0h-1.0zM451.5,52.3h1.0v1.0h-1.0zM467.8,53.9h1.0v1.0h-1.0zM465.4,55.5h1.0v1.0h-1.0zM428.7,60.4h1.0v1.0h-1.0zM447.1,50.2h1.0v1.0h-1.0zM453.1,58.2h1.0v1.0h-1.0zM437.3,59.7h1.0v1.0h-1.0zM430.9,60.4h1.0v1.0h-1.0zM460.9,49.8h1.0v1.0h-1.0zM454.0,57.5h1.0v1.0h-1.0zM447.6,53.9h1.0v1.0h-1.0zM427.7,61.6h1.0v1.0h-1.0zM451.3,53.0h1.0v1.0h-1.0zM463.2,56.1h1.0v1.0h-1.0zM445.3,57.1h1.0v1.0h-1.0zM447.9,59.4h1.0v1.0h-1.0zM471.0,54.1h1.0v1.0h-1.0zM454.9,54.6h1.0v1.0h-1.0zM435.1,60.0h1.0v1.0h-1.0zM442.2,57.3h1.0v1.0h-1.0zM425.9,58.6h1.0v1.0h-1.0zM460.9,53.6h1.0v1.0h-1.0zM440.2,58.9h1.0v1.0h-1.0zM463.5,51.4h1.0v1.0h-1.0zM434.5,58.4h1.0v1.0h-1.0zM428.8,62.6h1.0v1.0h-1.0zM445.9,52.8h1.0v1.0h-1.0zM451.5,49.6h1.0v1.0h-1.0zM476.2,53.1h1.0v1.0h-1.0zM458.5,51.4h1.0v1.0h-1.0zM452.3,50.3h1.0v1.0h-1.0zM450.0,60.0h1.0v1.0h-1.0zM463.6,52.9h1.0v1.0h-1.0zM462.0,52.3h1.0v1.0h-1.0zM454.9,49.2h1.0v1.0h-1.0zM451.1,56.6h1.0v1.0h-1.0zM438.5,54.3h1.0v1.0h-1.0zM436.9,61.2h1.0v1.0h-1.0zM432.7,55.9h1.0v1.0h-1.0zM472.4,49.0h1.0v1.0h-1.0zM438.3,62.3h1.0v1.0h-1.0zM444.1,54.7h1.0v1.0h-1.0zM461.8,51.8h1.0v1.0h-1.0zM430.0,55.0h1.0v1.0h-1.0zM430.2,57.7h1.0v1.0h-1.0zM448.9,53.7h1.0v1.0h-1.0zM448.5,55.3h1.0v1.0h-1.0zM456.3,50.2h1.0v1.0h-1.0zM471.1,51.0h1.0v1.0h-1.0zM435.1,63.0h1.0v1.0h-1.0zM458.8,50.4h1.0v1.0h-1.0zM429.7,56.2h1.0v1.0h-1.0zM442.3,54.4h1.0v1.0h-1.0zM459.6,51.7h1.0v1.0h-1.0zM450.4,49.4h1.0v1.0h-1.0zM452.5,54.3h1.0v1.0h-1.0zM465.1,49.6h1.0v1.0h-1.0zM458.1,49.6h1.0v1.0h-1.0zM427.2,63.4h1.0v1.0h-1.0zM431.0,62.3h1.0v1.0h-1.0zM446.7,50.0h1.0v1.0h-1.0zM448.9,59.2h1.0v1.0h-1.0zM466.1,54.2h1.0v1.0h-1.0zM466.6,53.8h1.0v1.0h-1.0zM471.4,53.8h1.0v1.0h-1.0zM452.6,54.9h1.0v1.0h-1.0zM469.5,49.0h1.0v1.0h-1.0zM429.2,56.6h1.0v1.0h-1.0zM444.0,60.2h1.0v1.0h-1.0zM433.1,55.6h1.0v1.0h-1.0zM440.4,51.0h1.0v1.0h-1.0zM449.0,52.8h1.0v1.0h-1.0zM429.6,61.9h1.0v1.0h-1.0zM433.5,55.6h1.0v1.0h-1.0zM466.9,52.3h1.0v1.0h-1.0zM444.6,56.7h1.0v1.0h-1.0zM443.9,55.5h1.0v1.0h-1.0zM426.3,55.4h1.0v1.0h-1.0zM454.7,57.5h1.0v1.0h-1.0zM471.6,52.8h1.0v1.0h-1.0zM464.1,57.0h1.0v1.0h-1.0zM445.4,55.0h1.0v1.0h-1.0zM431.3,62.4h1.0v1.0h-1.0zM426.7,62.5h1.0v1.0h-1.0zM441.3,63.1h1.0v1.0h-1.0zM476.4,51.4h1.0v1.0h-1.0zM458.3,55.7h1.0v1.0h-1.0zM428.5,61.6h1.0v1.0h-1.0zM473.6,52.5h1.0v1.0h-1.0zM427.9,62.2h1.0v1.0h-1.0zM449.9,50.9h1.0v1.0h-1.0zM437.7,53.6h1.0v1.0h-1.0zM455.1,50.0h1.0v1.0h-1.0zM452.4,55.5h1.0v1.0h-1.0zM451.6,50.9h1.0v1.0h-1.0zM442.3,62.1h1.0v1.0h-1.0zM432.9,52.8h1.0v1.0h-1.0zM477.6,52.3h1.0v1.0h-1.0zM452.7,59.6h1.0v1.0h-1.0zM449.3,48.7h1.0v1.0h-1.0zM450.6,54.9h1.0v1.0h-1.0zM457.1,57.8h1.0v1.0h-1.0zM429.7,62.0h1.0v1.0h-1.0zM455.6,56.3h1.0v1.0h-1.0zM449.4,52.3h1.0v1.0h-1.0zM444.9,52.9h1.0v1.0h-1.0zM451.7,55.6h1.0v1.0h-1.0zM451.5,54.8h1.0v1.0h-1.0zM472.4,52.6h1.0v1.0h-1.0zM464.2,55.3h1.0v1.0h-1.0zM473.5,49.7h1.0v1.0h-1.0zM450.1,51.8h1.0v1.0h-1.0zM436.7,54.9h1.0v1.0h-1.0zM450.3,53.2h1.0v1.0h-1.0zM436.3,58.3h1.0v1.0h-1.0zM449.6,60.2h1.0v1.0h-1.0zM461.1,56.5h1.0v1.0h-1.0zM453.8,48.3h1.0v1.0h-1.0zM437.9,52.5h1.0v1.0h-1.0zM462.6,52.5h1.0v1.0h-1.0zM435.6,55.1h1.0v1.0h-1.0zM442.2,51.8h1.0v1.0h-1.0zM429.7,57.0h1.0v1.0h-1.0zM460.8,56.1h1.0v1.0h-1.0zM458.3,56.5h1.0v1.0h-1.0zM430.9,61.0h1.0v1.0h-1.0zM476.1,50.0h1.0v1.0h-1.0zM458.9,52.2h1.0v1.0h-1.0zM455.9,54.3h1.0v1.0h-1.0zM470.7,50.3h1.0v1.0h-1.0zM446.8,55.0h1.0v1.0h-1.0zM470.7,52.4h1.0v1.0h-1.0zM464.5,56.7h1.0v1.0h-1.0zM452.2,55.1h1.0v1.0h-1.0zM426.9,56.6h1.0v1.0h-1.0zM440.0,53.2h1.0v1.0h-1.0zM455.4,50.3h1.0v1.0h-1.0zM458.3,48.6h1.0v1.0h-1.0zM439.6,56.9h1.0v1.0h-1.0zM428.4,55.7h1.0v1.0h-1.0zM458.6,57.6h1.0v1.0h-1.0zM458.3,51.6h1.0v1.0h-1.0zM447.3,59.8h1.0v1.0h-1.0zM460.9,50.4h1.0v1.0h-1.0zM432.3,60.0h1.0v1.0h-1.0zM432.9,53.4h1.0v1.0h-1.0zM448.1,57.5h1.0v1.0h-1.0zM446.3,58.7h1.0v1.0h-1.0zM451.8,51.7h1.0v1.0h-1.0zM456.3,54.8h1.0v1.0h-1.0zM434.3,58.8h1.0v1.0h-1.0zM435.4,63.0h1.0v1.0h-1.0zM456.1,50.3h1.0v1.0h-1.0zM428.2,56.4h1.0v1.0h-1.0zM443.9,57.0h1.0v1.0h-1.0zM463.6,52.0h1.0v1.0h-1.0zM461.7,50.8h1.0v1.0h-1.0zM438.3,55.9h1.0v1.0h-1.0zM436.3,59.5h1.0v1.0h-1.0zM471.9,53.0h1.0v1.0h-1.0zM440.3,63.2h1.0v1.0h-1.0zM460.1,57.5h1.0v1.0h-1.0zM439.4,63.0h1.0v1.0h-1.0zM430.4,59.8h1.0v1.0h-1.0zM440.4,51.6h1.0v1.0h-1.0zM458.3,56.4h1.0v1.0h-1.0zM452.1,51.5h1.0v1.0h-1.0zM426.5,60.9h1.0v1.0h-1.0zM462.1,51.6h1.0v1.0h-1.0zM478.2,50.4h1.0v1.0h-1.0zM430.9,60.9h1.0v1.0h-1.0zM439.7,59.4h1.0v1.0h-1.0zM444.3,61.1h1.0v1.0h-1.0zM453.0,50.0h1.0v1.0h-1.0zM430.8,54.7h1.0v1.0h-1.0zM431.8,56.7h1.0v1.0h-1.0zM470.1,49.2h1.0v1.0h-1.0zM445.9,55.4h1.0v1.0h-1.0zM451.3,56.2h1.0v1.0h-1.0zM464.6,52.8h1.0v1.0h-1.0zM427.5,61.4h1.0v1.0h-1.0zM470.4,51.6h1.0v1.0h-1.0zM468.0,53.7h1.0v1.0h-1.0zM429.6,63.1h1.0v1.0h-1.0zM427.5,56.3h1.0v1.0h-1.0zM455.2,54.6h1.0v1.0h-1.0zM435.9,55.0h1.0v1.0h-1.0zM451.2,49.7h1.0v1.0h-1.0zM458.2,55.9h1.0v1.0h-1.0zM439.1,55.4h1.0v1.0h-1.0zM463.1,55.2h1.0v1.0h-1.0zM438.3,51.7h1.0v1.0h-1.0zM444.5,56.3h1.0v1.0h-1.0zM441.3,60.5h1.0v1.0h-1.0zM440.4,52.0h1.0v1.0h-1.0zM460.1,50.0h1.0v1.0h-1.0zM444.8,52.7h1.0v1.0h-1.0zM427.4,60.7h1.0v1.0h-1.0zM428.7,59.8h1.0v1.0h-1.0zM461.5,48.3h1.0v1.0h-1.0zM427.9,59.1h1.0v1.0h-1.0zM453.8,48.3h1.0v1.0h-1.0zM426.4,61.5h1.0v1.0h-1.0zM444.3,58.8h1.0v1.0h-1.0zM437.1,54.5h1.0v1.0h-1.0zM449.1,54.9h1.0v1.0h-1.0zM466.4,53.6h1.0v1.0h-1.0zM438.5,59.4h1.0v1.0h-1.0zM427.0,56.5h1.0v1.0h-1.0zM429.3,55.0h1.0v1.0h-1.0zM468.4,54.3h1.0v1.0h-1.0zM469.6,50.7h1.0v1.0h-1.0zM430.2,58.2h1.0v1.0h-1.0zM456.7,55.6h1.0v1.0h-1.0zM458.3,49.6h1.0v1.0h-1.0zM445.2,55.3h1.0v1.0h-1.0zM436.4,55.0h1.0v1.0h-1.0zM432.9,59.8h1.0v1.0h-1.0zM446.0,55.7h1.0v1.0h-1.0zM448.2,50.2h1.0v1.0h-1.0zM467.8,56.0h1.0v1.0h-1.0zM426.1,60.0h1.0v1.0h-1.0zM450.1,53.9h1.0v1.0h-1.0zM448.6,50.4h1.0v1.0h-1.0zM458.1,48.3h1.0v1.0h-1.0zM438.9,55.7h1.0v1.0h-1.0zM456.1,49.0h1.0v1.0h-1.0zM461.1,51.2h1.0v1.0h-1.0zM429.6,55.3h1.0v1.0h-1.0zM469.3,49.4h1.0v1.0h-1.0zM435.4,61.5h1.0v1.0h-1.0zM464.5,49.2h1.0v1.0h-1.0zM440.3,55.0h1.0v1.0h-1.0zM439.1,62.7h1.0v1.0h-1.0zM461.8,51.9h1.0v1.0h-1.0zM466.7,52.0h1.0v1.0h-1.0zM434.5,61.4h1.0v1.0h-1.0zM429.6,62.5h1.0v1.0h-1.0zM435.1,54.4h1.0v1.0h-1.0zM433.8,60.1h1.0v1.0h-1.0zM446.5,61.6h1.0v1.0h-1.0zM445.3,53.5h1.0v1.0h-1.0zM464.4,52.7h1.0v1.0h-1.0zM432.8,54.5h1.0v1.0h-1.0zM466.6,56.4h1.0v1.0h-1.0zM458.5,55.1h1.0v1.0h-1.0zM457.1,56.9h1.0v1.0h-1.0zM437.4,53.0h1.0v1.0h-1.0zM443.5,54.6h1.0v1.0h-1.0zM479.9,52.2h1.0v1.0h-1.0zM447.3,52.8h1.0v1.0h-1.0zM436.8,62.6h1.0v1.0h-1.0zM448.1,59.8h1.0v1.0h-1.0zM450.5,58.1h1.0v1.0h-1.0zM444.0,53.3h1.0v1.0h-1.0zM431.1,58.1h1.0v1.0h-1.0zM476.3,50.8h1.0v1.0h-1.0zM477.0,53.5h1.0v1.0h-1.0zM452.2,53.2h1.0v1.0h-1.0zM463.7,51.2h1.0v1.0h-1.0zM444.7,54.7h1.0v1.0h-1.0zM427.0,62.1h1.0v1.0h-1.0zM451.9,53.9h1.0v1.0h-1.0zM461.9,54.8h1.0v1.0h-1.0zM444.8,53.2h1.0v1.0h-1.0zM444.8,56.2h1.0v1.0h-1.0zM460.3,53.6h1.0v1.0h-1.0zM447.5,54.9h1.0v1.0h-1.0zM455.1,55.2h1.0v1.0h-1.0zM430.1,61.4h1.0v1.0h-1.0zM457.2,50.9h1.0v1.0h-1.0zM457.0,50.0h1.0v1.0h-1.0zM441.4,54.4h1.0v1.0h-1.0zM434.0,60.7h1.0v1.0h-1.0zM451.5,52.5h1.0v1.0h-1.0zM459.1,52.5h1.0v1.0h-1.0zM458.2,52.4h1.0v1.0h-1.0zM468.2,55.7h1.0v1.0h-1.0zM457.7,58.4h1.0v1.0h-1.0zM433.5,59.5h1.0v1.0h-1.0zM456.1,55.9h1.0v1.0h-1.0zM441.2,63.2h1.0v1.0h-1.0zM445.5,62.1h1.0v1.0h-1.0zM441.6,56.3h1.0v1.0h-1.0zM464.6,51.6h1.0v1.0h-1.0zM463.5,56.5h1.0v1.0h-1.0zM457.3,58.5h1.0v1.0h-1.0zM441.9,58.0h1.0v1.0h-1.0zM470.7,52.4h1.0v1.0h-1.0zM478.4,51.3h1.0v1.0h-1.0zM471.8,53.0h1.0v1.0h-1.0zM465.5,55.1h1.0v1.0h-1.0zM437.2,51.7h1.0v1.0h-1.0zM430.1,58.2h1.0v1.0h-1.0zM433.9,56.8h1.0v1.0h-1.0zM473.9,52.0h1.0v1.0h-1.0zM447.5,58.9h1.0v1.0h-1.0zM450.0,52.2h1.0v1.0h-1.0zM470.1,49.2h1.0v1.0h-1.0zM432.9,55.8h1.0v1.0h-1.0zM428.8,58.4h1.0v1.0h-1.0zM451.0,50.5h1.0v1.0h-1.0zM439.3,62.1h1.0v1.0h-1.0zM456.8,55.9h1.0v1.0h-1.0zM468.2,54.5h1.0v1.0h-1.0zM430.9,57.9h1.0v1.0h-1.0zM431.9,59.1h1.0v1.0h-1.0zM435.4,53.1h1.0v1.0h-1.0zM456.1,56.4h1.0v1.0h-1.0zM471.8,51.7h1.0v1.0h-1.0zM453.8,49.1h1.0v1.0h-1.0zM437.9,54.7h1.0v1.0h-1.0zM458.5,55.5h1.0v1.0h-1.0zM448.3,51.5h1.0v1.0h-1.0zM444.9,50.9h1.0v1.0h-1.0zM453.7,57.2h1.0v1.0h-1.0zM455.0,51.6h1.0v1.0h-1.0zM432.2,55.2h1.0v1.0h-1.0zM467.4,49.7h1.0v1.0h-1.0zM452.3,59.7h1.0v1.0h-1.0zM432.6,55.3h1.0v1.0h-1.0zM430.2,60.7h1.0v1.0h-1.0zM442.8,62.4h1.0v1.0h-1.0zM459.3,51.8h1.0v1.0h-1.0zM434.1,53.0h1.0v1.0h-1.0zM441.0,55.9h1.0v1.0h-1.0zM469.3,50.4h1.0v1.0h-1.0zM460.2,54.8h1.0v1.0h-1.0zM439.6,62.8h1.0v1.0h-1.0zM435.0,53.8h1.0v1.0h-1.0zM462.8,50.1h1.0v1.0h-1.0zM452.9,59.5h1.0v1.0h-1.0zM476.9,52.8h1.0v1.0h-1.0zM463.6,55.9h1.0v1.0h-1.0zM460.6,57.6h1.0v1.0h-1.0zM457.7,51.4h1.0v1.0h-1.0zM449.9,55.4h1.0v1.0h-1.0zM475.5,51.3h1.0v1.0h-1.0zM453.6,48.7h1.0v1.0h-1.0zM462.2,49.8h1.0v1.0h-1.0zM462.0,56.1h1.0v1.0h-1.0zM467.4,50.5h1.0v1.0h-1.0zM435.5,58.4h1.0v1.0h-1.0zM429.1,61.7h1.0v1.0h-1.0zM437.5,52.8h1.0v1.0h-1.0zM434.2,60.1h1.0v1.0h-1.0zM428.6,58.1h1.0v1.0h-1.0zM436.1,60.8h1.0v1.0h-1.0zM428.9,56.0h1.0v1.0h-1.0zM469.8,49.3h1.0v1.0h-1.0zM447.0,54.3h1.0v1.0h-1.0zM468.1,54.7h1.0v1.0h-1.0zM456.3,50.7h1.0v1.0h-1.0zM456.3,57.4h1.0v1.0h-1.0zM441.8,58.3h1.0v1.0h-1.0zM458.8,51.7h1.0v1.0h-1.0zM438.7,59.2h1.0v1.0h-1.0zM433.6,61.2h1.0v1.0h-1.0zM455.9,55.7h1.0v1.0h-1.0zM431.6,61.2h1.0v1.0h-1.0zM447.0,60.3h1.0v1.0h-1.0zM439.9,50.5h1.0v1.0h-1.0zM444.0,58.9h1.0v1.0h-1.0zM466.8,49.9h1.0v1.0h-1.0zM459.7,50.2h1.0v1.0h-1.0zM428.4,60.0h1.0v1.0h-1.0zM476.8,52.1h1.0v1.0h-1.0zM457.5,56.8h1.0v1.0h-1.0zM436.9,59.8h1.0v1.0h-1.0zM430.2,57.3h1.0v1.0h-1.0zM436.3,56.6h1.0v1.0h-1.0zM437.4,51.9h1.0v1.0h-1.0zM451.1,53.1h1.0v1.0h-1.0zM453.5,48.3h1.0v1.0h-1.0zM453.0,49.0h1.0v1.0h-1.0zM452.6,56.9h1.0v1.0h-1.0zM429.3,63.3h1.0v1.0h-1.0zM440.3,50.9h1.0v1.0h-1.0zM461.1,48.7h1.0v1.0h-1.0zM428.4,60.5h1.0v1.0h-1.0zM458.4,50.7h1.0v1.0h-1.0zM439.5,55.2h1.0v1.0h-1.0zM428.9,61.0h1.0v1.0h-1.0zM467.3,51.2h1.0v1.0h-1.0zM458.8,56.3h1.0v1.0h-1.0zM430.9,57.0h1.0v1.0h-1.0zM460.0,49.4h1.0v1.0h-1.0zM437.9,61.5h1.0v1.0h-1.0zM442.9,53.3h1.0v1.0h-1.0zM432.2,61.7h1.0v1.0h-1.0zM442.3,57.3h1.0v1.0h-1.0zM447.6,49.7h1.0v1.0h-1.0zM427.9,60.7h1.0v1.0h-1.0zM461.6,49.6h1.0v1.0h-1.0zM445.2,55.8h1.0v1.0h-1.0zM438.1,58.1h1.0v1.0h-1.0zM464.7,53.6h1.0v1.0h-1.0zM463.0,49.7h1.0v1.0h-1.0zM450.1,52.1h1.0v1.0h-1.0zM453.3,57.2h1.0v1.0h-1.0zM434.1,58.4h1.0v1.0h-1.0zM454.5,52.5h1.0v1.0h-1.0zM450.8,49.7h1.0v1.0h-1.0zM474.1,50.3h1.0v1.0h-1.0zM447.0,50.5h1.0v1.0h-1.0zM476.2,53.4h1.0v1.0h-1.0zM460.3,52.5h1.0v1.0h-1.0zM463.7,48.5h1.0v1.0h-1.0zM455.7,48.9h1.0v1.0h-1.0zM439.2,61.1h1.0v1.0h-1.0zM460.8,54.7h1.0v1.0h-1.0zM463.3,54.6h1.0v1.0h-1.0zM433.0,52.8h1.0v1.0h-1.0zM445.1,51.3h1.0v1.0h-1.0zM465.4,48.3h1.0v1.0h-1.0zM470.0,53.5h1.0v1.0h-1.0zM480.2,52.6h1.0v1.0h-1.0zM464.2,55.2h1.0v1.0h-1.0zM432.5,56.2h1.0v1.0h-1.0zM461.0,56.7h1.0v1.0h-1.0zM428.9,55.4h1.0v1.0h-1.0zM444.5,53.9h1.0v1.0h-1.0zM472.9,49.2h1.0v1.0h-1.0zM433.3,61.6h1.0v1.0h-1.0zM432.6,56.8h1.0v1.0h-1.0zM439.4,55.5h1.0v1.0h-1.0zM434.1,56.5h1.0v1.0h-1.0zM458.2,53.5h1.0v1.0h-1.0zM476.7,50.1h1.0v1.0h-1.0zM467.7,55.4h1.0v1.0h-1.0zM448.2,60.4h1.0v1.0h-1.0zM457.5,53.0h1.0v1.0h-1.0zM454.8,52.8h1.0v1.0h-1.0zM465.1,55.8h1.0v1.0h-1.0zM452.5,48.8h1.0v1.0h-1.0zM434.7,56.7h1.0v1.0h-1.0zM452.7,57.9h1.0v1.0h-1.0zM459.5,51.0h1.0v1.0h-1.0zM456.4,56.9h1.0v1.0h-1.0zM466.2,50.3h1.0v1.0h-1.0zM458.3,48.6h1.0v1.0h-1.0zM469.0,55.7h1.0v1.0h-1.0zM427.4,58.5h1.0v1.0h-1.0zM445.2,55.9h1.0v1.0h-1.0zM447.1,49.5h1.0v1.0h-1.0zM429.7,57.3h1.0v1.0h-1.0zM459.4,49.7h1.0v1.0h-1.0zM439.0,60.1h1.0v1.0h-1.0zM469.4,48.8h1.0v1.0h-1.0zM479.4,51.1h1.0v1.0h-1.0zM426.3,59.3h1.0v1.0h-1.0zM435.4,56.2h1.0v1.0h-1.0zM448.6,52.6h1.0v1.0h-1.0zM432.2,58.9h1.0v1.0h-1.0zM454.7,52.4h1.0v1.0h-1.0zM464.3,50.3h1.0v1.0h-1.0zM480.6,52.1h1.0v1.0h-1.0zM463.2,48.4h1.0v1.0h-1.0zM450.9,56.0h1.0v1.0h-1.0zM433.1,63.4h1.0v1.0h-1.0zM464.9,56.6h1.0v1.0h-1.0zM458.8,51.8h1.0v1.0h-1.0zM452.9,54.8h1.0v1.0h-1.0zM455.2,58.6h1.0v1.0h-1.0zM451.8,58.9h1.0v1.0h-1.0zM432.1,55.1h1.0v1.0h-1.0zM435.8,53.8h1.0v1.0h-1.0zM459.2,55.0h1.0v1.0h-1.0zM475.5,49.7h1.0v1.0h-1.0zM439.8,56.2h1.0v1.0h-1.0zM426.6,60.7h1.0v1.0h-1.0zM451.7,53.5h1.0v1.0h-1.0zM434.7,52.8h1.0v1.0h-1.0zM476.2,51.1h1.0v1.0h-1.0zM448.5,49.6h1.0v1.0h-1.0zM471.0,50.5h1.0v1.0h-1.0zM472.4,50.2h1.0v1.0h-1.0zM466.2,51.0h1.0v1.0h-1.0zM454.4,53.9h1.0v1.0h-1.0zM461.9,56.5h1.0v1.0h-1.0zM471.5,51.1h1.0v1.0h-1.0zM431.8,59.8h1.0v1.0h-1.0zM428.4,63.0h1.0v1.0h-1.0zM453.3,51.2h1.0v1.0h-1.0zM427.6,62.0h1.0v1.0h-1.0zM465.5,53.6h1.0v1.0h-1.0zM433.6,61.1h1.0v1.0h-1.0zM470.7,51.3h1.0v1.0h-1.0zM440.6,57.5h1.0v1.0h-1.0zM465.6,51.9h1.0v1.0h-1.0zM460.5,53.9h1.0v1.0h-1.0zM466.7,50.1h1.0v1.0h-1.0zM442.3,60.3h1.0v1.0h-1.0zM463.1,56.2h1.0v1.0h-1.0zM426.7,60.3h1.0v1.0h-1.0zM475.4,51.3h1.0v1.0h-1.0zM453.3,58.1h1.0v1.0h-1.0zM428.7,54.5h1.0v1.0h-1.0zM430.1,54.6h1.0v1.0h-1.0zM439.2,54.3h1.0v1.0h-1.0zM481.1,51.0h1.0v1.0h-1.0zM436.8,59.7h1.0v1.0h-1.0zM460.0,52.2h1.0v1.0h-1.0zM468.3,53.8h1.0v1.0h-1.0zM426.5,56.0h1.0v1.0h-1.0zM436.4,58.5h1.0v1.0h-1.0zM459.0,57.3h1.0v1.0h-1.0zM429.2,62.3h1.0v1.0h-1.0zM426.0,56.8h1.0v1.0h-1.0zM446.4,58.1h1.0v1.0h-1.0zM451.8,56.3h1.0v1.0h-1.0zM443.5,62.3h1.0v1.0h-1.0zM456.6,53.4h1.0v1.0h-1.0zM457.2,53.9h1.0v1.0h-1.0zM467.1,53.2h1.0v1.0h-1.0zM461.8,50.2h1.0v1.0h-1.0zM440.5,54.8h1.0v1.0h-1.0zM455.7,57.3h1.0v1.0h-1.0zM446.1,56.8h1.0v1.0h-1.0zM450.6,53.9h1.0v1.0h-1.0zM426.8,62.3h1.0v1.0h-1.0zM454.4,59.3h1.0v1.0h-1.0zM432.9,63.0h1.0v1.0h-1.0zM463.2,52.6h1.0v1.0h-1.0zM480.9,51.7h1.0v1.0h-1.0zM447.2,53.9h1.0v1.0h-1.0zM453.0,50.3h1.0v1.0h-1.0zM439.1,59.1h1.0v1.0h-1.0zM469.8,49.6h1.0v1.0h-1.0zM443.4,52.0h1.0v1.0h-1.0zM461.5,51.0h1.0v1.0h-1.0zM429.6,61.2h1.0v1.0h-1.0zM453.7,57.4h1.0v1.0h-1.0zM429.2,61.2h1.0v1.0h-1.0zM466.2,56.4h1.0v1.0h-1.0zM466.6,53.0h1.0v1.0h-1.0zM430.4,63.0h1.0v1.0h-1.0zM435.2,60.7h1.0v1.0h-1.0zM458.8,54.2h1.0v1.0h-1.0zM432.7,56.5h1.0v1.0h-1.0zM444.8,58.2h1.0v1.0h-1.0zM455.9,48.2h1.0v1.0h-1.0zM442.2,54.9h1.0v1.0h-1.0zM446.5,59.1h1.0v1.0h-1.0zM473.0,54.4h1.0v1.0h-1.0zM453.7,54.7h1.0v1.0h-1.0zM460.2,48.2h1.0v1.0h-1.0zM432.1,61.3h1.0v1.0h-1.0zM437.1,58.2h1.0v1.0h-1.0zM463.0,50.3h1.0v1.0h-1.0zM451.0,50.4h1.0v1.0h-1.0zM454.0,55.9h1.0v1.0h-1.0zM473.1,49.7h1.0v1.0h-1.0zM471.9,49.0h1.0v1.0h-1.0zM459.9,49.5h1.0v1.0h-1.0zM460.0,48.1h1.0v1.0h-1.0zM457.4,54.9h1.0v1.0h-1.0zM446.9,50.6h1.0v1.0h-1.0zM443.5,61.5h1.0v1.0h-1.0zM436.1,55.8h1.0v1.0h-1.0zM472.6,54.3h1.0v1.0h-1.0zM432.9,53.4h1.0v1.0h-1.0zM438.4,57.1h1.0v1.0h-1.0zM461.6,57.4h1.0v1.0h-1.0zM457.5,49.4h1.0v1.0h-1.0zM473.3,53.3h1.0v1.0h-1.0zM456.7,57.8h1.0v1.0h-1.0zM441.8,62.7h1.0v1.0h-1.0zM426.8,58.2h1.0v1.0h-1.0zM434.8,63.3h1.0v1.0h-1.0zM426.9,57.4h1.0v1.0h-1.0zM447.9,49.7h1.0v1.0h-1.0zM478.1,51.8h1.0v1.0h-1.0zM449.0,51.1h1.0v1.0h-1.0zM435.2,56.5h1.0v1.0h-1.0zM460.8,50.3h1.0v1.0h-1.0zM475.0,50.1h1.0v1.0h-1.0zM427.6,54.9h1.0v1.0h-1.0zM429.6,60.2h1.0v1.0h-1.0zM441.5,62.5h1.0v1.0h-1.0zM463.6,54.0h1.0v1.0h-1.0zM467.5,51.6h1.0v1.0h-1.0zM429.6,62.6h1.0v1.0h-1.0zM447.7,55.9h1.0v1.0h-1.0zM448.3,58.1h1.0v1.0h-1.0zM458.3,57.0h1.0v1.0h-1.0zM449.6,58.8h1.0v1.0h-1.0zM472.3,50.2h1.0v1.0h-1.0zM451.5,59.3h1.0v1.0h-1.0zM469.2,52.8h1.0v1.0h-1.0zM447.4,58.9h1.0v1.0h-1.0zM445.5,56.7h1.0v1.0h-1.0zM437.8,56.0h1.0v1.0h-1.0zM451.4,49.7h1.0v1.0h-1.0zM431.6,62.2h1.0v1.0h-1.0zM435.0,56.1h1.0v1.0h-1.0zM429.6,62.5h1.0v1.0h-1.0zM441.9,62.5h1.0v1.0h-1.0zM455.5,54.7h1.0v1.0h-1.0zM456.6,53.6h1.0v1.0h-1.0zM441.1,58.4h1.0v1.0h-1.0zM450.9,58.8h1.0v1.0h-1.0zM442.3,52.4h1.0v1.0h-1.0zM474.9,50.4h1.0v1.0h-1.0zM466.8,50.6h1.0v1.0h-1.0zM462.4,48.2h1.0v1.0h-1.0zM440.7,55.3h1.0v1.0h-1.0zM476.0,50.3h1.0v1.0h-1.0zM468.5,53.4h1.0v1.0h-1.0zM458.2,55.0h1.0v1.0h-1.0zM452.0,57.3h1.0v1.0h-1.0zM427.8,57.0h1.0v1.0h-1.0zM434.7,57.8h1.0v1.0h-1.0zM461.2,57.3h1.0v1.0h-1.0zM446.9,49.1h1.0v1.0h-1.0zM426.6,57.5h1.0v1.0h-1.0zM452.5,51.1h1.0v1.0h-1.0zM444.6,51.1h1.0v1.0h-1.0zM446.1,59.3h1.0v1.0h-1.0zM443.5,57.2h1.0v1.0h-1.0zM437.8,52.6h1.0v1.0h-1.0zM443.9,49.9h1.0v1.0h-1.0zM452.8,56.6h1.0v1.0h-1.0zM449.8,51.3h1.0v1.0h-1.0zM444.3,60.1h1.0v1.0h-1.0zM439.5,54.8h1.0v1.0h-1.0zM465.0,56.3h1.0v1.0h-1.0zM435.7,52.0h1.0v1.0h-1.0zM450.1,55.2h1.0v1.0h-1.0zM458.3,56.3h1.0v1.0h-1.0zM472.5,49.9h1.0v1.0h-1.0zM433.8,53.8h1.0v1.0h-1.0zM430.7,61.2h1.0v1.0h-1.0zM447.6,50.6h1.0v1.0h-1.0zM457.1,51.2h1.0v1.0h-1.0zM428.5,58.1h1.0v1.0h-1.0zM472.9,54.7h1.0v1.0h-1.0zM452.8,59.7h1.0v1.0h-1.0zM447.6,55.1h1.0v1.0h-1.0zM468.3,49.6h1.0v1.0h-1.0zM466.3,51.1h1.0v1.0h-1.0zM449.5,52.4h1.0v1.0h-1.0zM465.1,50.0h1.0v1.0h-1.0zM473.4,49.6h1.0v1.0h-1.0zM426.8,60.5h1.0v1.0h-1.0zM459.1,52.4h1.0v1.0h-1.0zM431.3,57.4h1.0v1.0h-1.0zM455.7,58.2h1.0v1.0h-1.0zM447.2,50.9h1.0v1.0h-1.0zM433.5,53.1h1.0v1.0h-1.0zM447.5,51.9h1.0v1.0h-1.0zM446.7,52.5h1.0v1.0h-1.0zM477.8,52.3h1.0v1.0h-1.0zM430.9,61.3h1.0v1.0h-1.0zM448.5,59.7h1.0v1.0h-1.0zM428.7,55.6h1.0v1.0h-1.0zM433.2,61.4h1.0v1.0h-1.0zM480.2,51.2h1.0v1.0h-1.0zM428.7,63.1h1.0v1.0h-1.0zM435.5,61.2h1.0v1.0h-1.0zM452.7,52.2h1.0v1.0h-1.0zM449.2,49.6h1.0v1.0h-1.0zM432.5,62.0h1.0v1.0h-1.0zM451.6,56.5h1.0v1.0h-1.0zM444.8,55.6h1.0v1.0h-1.0zM471.1,51.3h1.0v1.0h-1.0zM452.1,60.2h1.0v1.0h-1.0zM427.6,58.2h1.0v1.0h-1.0zM433.2,53.7h1.0v1.0h-1.0zM428.8,61.2h1.0v1.0h-1.0zM451.9,54.9h1.0v1.0h-1.0zM443.0,54.9h1.0v1.0h-1.0zM451.6,58.4h1.0v1.0h-1.0zM431.0,55.1h1.0v1.0h-1.0zM435.5,57.2h1.0v1.0h-1.0zM453.0,56.3h1.0v1.0h-1.0zM449.0,55.3h1.0v1.0h-1.0zM470.9,49.7h1.0v1.0h-1.0zM428.7,57.4h1.0v1.0h-1.0zM460.4,52.5h1.0v1.0h-1.0zM447.7,61.0h1.0v1.0h-1.0zM465.7,52.5h1.0v1.0h-1.0zM453.8,59.6h1.0v1.0h-1.0zM449.0,55.6h1.0v1.0h-1.0zM427.2,56.3h1.0v1.0h-1.0zM442.1,53.1h1.0v1.0h-1.0zM450.5,59.4h1.0v1.0h-1.0zM437.7,51.7h1.0v1.0h-1.0zM457.9,48.4h1.0v1.0h-1.0zM469.1,53.9h1.0v1.0h-1.0zM471.4,55.0h1.0v1.0h-1.0zM433.8,62.0h1.0v1.0h-1.0zM465.8,55.3h1.0v1.0h-1.0zM457.3,55.2h1.0v1.0h-1.0zM439.8,54.8h1.0v1.0h-1.0zM434.3,56.7h1.0v1.0h-1.0zM462.7,54.0h1.0v1.0h-1.0zM470.6,53.7h1.0v1.0h-1.0zM433.9,59.9h1.0v1.0h-1.0zM442.6,56.4h1.0v1.0h-1.0zM433.9,57.2h1.0v1.0h-1.0zM459.4,53.4h1.0v1.0h-1.0zM444.4,52.1h1.0v1.0h-1.0zM452.2,53.0h1.0v1.0h-1.0zM465.3,54.1h1.0v1.0h-1.0zM469.0,53.7h1.0v1.0h-1.0zM440.1,57.9h1.0v1.0h-1.0zM448.1,49.7h1.0v1.0h-1.0zM461.7,54.6h1.0v1.0h-1.0zM456.4,48.7h1.0v1.0h-1.0zM449.8,55.3h1.0v1.0h-1.0zM440.0,62.5h1.0v1.0h-1.0zM466.7,55.0h1.0v1.0h-1.0zM461.9,54.4h1.0v1.0h-1.0zM444.7,49.7h1.0v1.0h-1.0zM465.0,51.6h1.0v1.0h-1.0zM439.4,61.2h1.0v1.0h-1.0zM426.2,57.4h1.0v1.0h-1.0zM435.4,56.7h1.0v1.0h-1.0zM467.8,50.2h1.0v1.0h-1.0zM426.5,61.3h1.0v1.0h-1.0zM460.8,53.5h1.0v1.0h-1.0zM461.5,56.7h1.0v1.0h-1.0zM438.4,62.7h1.0v1.0h-1.0zM480.0,51.4h1.0v1.0h-1.0zM453.8,54.0h1.0v1.0h-1.0zM433.8,63.2h1.0v1.0h-1.0zM436.1,57.2h1.0v1.0h-1.0zM430.7,56.2h1.0v1.0h-1.0zM473.1,51.1h1.0v1.0h-1.0zM462.8,54.2h1.0v1.0h-1.0zM442.9,53.1h1.0v1.0h-1.0zM430.8,62.6h1.0v1.0h-1.0zM465.1,53.4h1.0v1.0h-1.0zM464.1,49.8h1.0v1.0h-1.0zM430.2,55.2h1.0v1.0h-1.0zM437.1,60.9h1.0v1.0h-1.0zM444.2,54.5h1.0v1.0h-1.0zM467.9,49.1h1.0v1.0h-1.0zM459.3,49.8h1.0v1.0h-1.0zM445.2,59.4h1.0v1.0h-1.0zM441.1,57.5h1.0v1.0h-1.0zM451.8,48.5h1.0v1.0h-1.0zM474.8,53.4h1.0v1.0h-1.0zM450.6,53.7h1.0v1.0h-1.0zM464.2,52.5h1.0v1.0h-1.0zM442.8,56.0h1.0v1.0h-1.0zM458.4,58.0h1.0v1.0h-1.0zM458.8,52.9h1.0v1.0h-1.0zM451.6,59.3h1.0v1.0h-1.0zM442.0,53.9h1.0v1.0h-1.0zM457.0,49.1h1.0v1.0h-1.0zM435.2,57.8h1.0v1.0h-1.0zM462.3,49.0h1.0v1.0h-1.0zM428.2,60.6h1.0v1.0h-1.0zM442.8,58.7h1.0v1.0h-1.0zM462.3,54.3h1.0v1.0h-1.0zM468.3,51.3h1.0v1.0h-1.0zM466.9,52.9h1.0v1.0h-1.0zM466.6,55.3h1.0v1.0h-1.0zM447.7,56.7h1.0v1.0h-1.0zM459.8,57.4h1.0v1.0h-1.0zM465.9,54.2h1.0v1.0h-1.0zM466.2,50.8h1.0v1.0h-1.0zM460.5,56.1h1.0v1.0h-1.0zM469.6,50.8h1.0v1.0h-1.0zM468.1,53.9h1.0v1.0h-1.0zM457.6,51.0h1.0v1.0h-1.0zM436.1,61.2h1.0v1.0h-1.0zM461.2,49.9h1.0v1.0h-1.0zM453.5,55.6h1.0v1.0h-1.0zM469.2,50.2h1.0v1.0h-1.0zM435.6,56.1h1.0v1.0h-1.0zM457.8,49.3h1.0v1.0h-1.0zM466.1,51.9h1.0v1.0h-1.0zM452.7,50.3h1.0v1.0h-1.0zM480.8,51.9h1.0v1.0h-1.0zM431.0,60.2h1.0v1.0h-1.0zM434.4,60.3h1.0v1.0h-1.0zM462.0,50.8h1.0v1.0h-1.0zM443.5,55.9h1.0v1.0h-1.0zM459.4,54.1h1.0v1.0h-1.0zM432.2,58.5h1.0v1.0h-1.0zM430.6,57.3h1.0v1.0h-1.0zM434.5,63.0h1.0v1.0h-1.0zM450.2,49.2h1.0v1.0h-1.0zM450.0,51.9h1.0v1.0h-1.0zM472.4,53.4h1.0v1.0h-1.0zM464.2,48.5h1.0v1.0h-1.0zM462.9,50.6h1.0v1.0h-1.0zM458.0,58.6h1.0v1.0h-1.0zM459.9,49.0h1.0v1.0h-1.0zM427.9,56.1h1.0v1.0h-1.0zM436.3,58.0h1.0v1.0h-1.0zM463.2,48.8h1.0v1.0h-1.0zM454.2,55.8h1.0v1.0h-1.0zM449.5,49.4h1.0v1.0h-1.0zM431.3,53.3h1.0v1.0h-1.0zM444.1,51.6h1.0v1.0h-1.0zM431.4,60.0h1.0v1.0h-1.0zM454.6,57.7h1.0v1.0h-1.0zM436.5,55.6h1.0v1.0h-1.0zM453.7,54.1h1.0v1.0h-1.0zM434.0,61.5h1.0v1.0h-1.0zM434.8,57.3h1.0v1.0h-1.0zM458.2,51.5h1.0v1.0h-1.0zM467.0,53.7h1.0v1.0h-1.0zM469.3,52.0h1.0v1.0h-1.0zM449.6,60.0h1.0v1.0h-1.0zM480.8,51.1h1.0v1.0h-1.0zM477.6,51.8h1.0v1.0h-1.0zM433.3,54.3h1.0v1.0h-1.0zM452.8,53.3h1.0v1.0h-1.0zM447.8,54.2h1.0v1.0h-1.0zM441.8,61.8h1.0v1.0h-1.0zM455.1,51.4h1.0v1.0h-1.0zM437.9,60.9h1.0v1.0h-1.0zM470.8,52.6h1.0v1.0h-1.0zM444.6,52.1h1.0v1.0h-1.0zM447.1,50.1h1.0v1.0h-1.0zM441.5,54.6h1.0v1.0h-1.0zM432.4,54.4h1.0v1.0h-1.0zM432.6,56.9h1.0v1.0h-1.0zM478.6,50.5h1.0v1.0h-1.0zM463.8,52.7h1.0v1.0h-1.0zM441.7,56.1h1.0v1.0h-1.0zM428.0,60.3h1.0v1.0h-1.0zM435.9,62.4h1.0v1.0h-1.0zM450.0,58.9h1.0v1.0h-1.0zM457.8,55.4h1.0v1.0h-1.0zM446.3,51.0h1.0v1.0h-1.0zM444.2,59.9h1.0v1.0h-1.0zM460.5,50.8h1.0v1.0h-1.0zM441.1,51.5h1.0v1.0h-1.0zM465.1,49.1h1.0v1.0h-1.0zM466.8,52.4h1.0v1.0h-1.0zM457.8,53.9h1.0v1.0h-1.0zM448.6,57.5h1.0v1.0h-1.0zM437.8,61.8h1.0v1.0h-1.0zM447.9,58.6h1.0v1.0h-1.0zM460.5,52.7h1.0v1.0h-1.0zM455.7,52.7h1.0v1.0h-1.0zM457.8,57.1h1.0v1.0h-1.0zM440.7,60.1h1.0v1.0h-1.0zM449.3,59.3h1.0v1.0h-1.0zM478.7,52.1h1.0v1.0h-1.0zM436.7,61.4h1.0v1.0h-1.0zM459.5,54.6h1.0v1.0h-1.0zM432.6,60.2h1.0v1.0h-1.0zM436.8,55.0h1.0v1.0h-1.0zM427.1,58.1h1.0v1.0h-1.0zM460.4,52.1h1.0v1.0h-1.0zM441.8,51.3h1.0v1.0h-1.0zM446.1,59.2h1.0v1.0h-1.0zM479.0,50.5h1.0v1.0h-1.0zM433.1,56.6h1.0v1.0h-1.0zM457.7,48.4h1.0v1.0h-1.0zM430.9,61.6h1.0v1.0h-1.0zM450.8,58.2h1.0v1.0h-1.0zM465.8,51.7h1.0v1.0h-1.0zM441.0,58.6h1.0v1.0h-1.0zM440.0,61.3h1.0v1.0h-1.0zM472.6,54.1h1.0v1.0h-1.0zM462.0,51.1h1.0v1.0h-1.0zM426.0,58.6h1.0v1.0h-1.0zM462.0,54.9h1.0v1.0h-1.0zM440.6,62.4h1.0v1.0h-1.0zM456.8,50.2h1.0v1.0h-1.0zM479.2,52.2h1.0v1.0h-1.0zM457.2,55.9h1.0v1.0h-1.0zM463.7,52.3h1.0v1.0h-1.0zM467.1,50.0h1.0v1.0h-1.0zM458.4,49.7h1.0v1.0h-1.0zM447.4,49.1h1.0v1.0h-1.0zM446.0,60.3h1.0v1.0h-1.0zM443.0,51.7h1.0v1.0h-1.0zM431.7,58.8h1.0v1.0h-1.0zM448.7,56.5h1.0v1.0h-1.0zM448.7,55.3h1.0v1.0h-1.0zM448.9,52.3h1.0v1.0h-1.0zM426.4,57.5h1.0v1.0h-1.0zM468.1,54.3h1.0v1.0h-1.0zM428.2,60.7h1.0v1.0h-1.0zM447.4,52.2h1.0v1.0h-1.0zM450.7,59.7h1.0v1.0h-1.0zM464.6,55.5h1.0v1.0h-1.0zM478.2,50.9h1.0v1.0h-1.0zM468.4,51.5h1.0v1.0h-1.0zM454.6,58.3h1.0v1.0h-1.0zM456.1,52.3h1.0v1.0h-1.0zM432.0,55.0h1.0v1.0h-1.0zM440.9,63.3h1.0v1.0h-1.0zM457.1,51.3h1.0v1.0h-1.0zM476.4,50.9h1.0v1.0h-1.0zM455.6,54.0h1.0v1.0h-1.0zM429.7,60.2h1.0v1.0h-1.0zM427.1,56.6h1.0v1.0h-1.0zM468.0,53.9h1.0v1.0h-1.0zM456.5,53.1h1.0v1.0h-1.0zM426.0,62.9h1.0v1.0h-1.0zM465.3,55.4h1.0v1.0h-1.0zM462.4,53.9h1.0v1.0h-1.0zM436.2,56.8h1.0v1.0h-1.0zM441.1,57.0h1.0v1.0h-1.0zM472.1,54.9h1.0v1.0h-1.0zM451.8,55.0h1.0v1.0h-1.0zM446.6,53.8h1.0v1.0h-1.0zM460.4,51.1h1.0v1.0h-1.0zM437.9,48.0h0.8v0.8h-0.8zM433.2,49.6h0.8v0.8h-0.8zM436.3,50.5h0.8v0.8h-0.8zM460.1,42.3h0.8v0.8h-0.8zM467.4,48.7h0.8v0.8h-0.8zM463.2,44.7h0.8v0.8h-0.8zM433.1,49.7h0.8v0.8h-0.8zM459.0,34.7h0.8v0.8h-0.8zM461.9,26.1h0.8v0.8h-0.8zM445.0,34.2h0.8v0.8h-0.8zM471.3,42.7h0.8v0.8h-0.8zM479.0,47.6h0.8v0.8h-0.8zM453.1,42.2h0.8v0.8h-0.8zM457.3,31.7h0.8v0.8h-0.8zM432.1,43.8h0.8v0.8h-0.8zM438.0,50.8h0.8v0.8h-0.8zM433.0,46.3h0.8v0.8h-0.8zM451.1,46.8h0.8v0.8h-0.8zM445.4,50.5h0.8v0.8h-0.8zM439.2,51.8h0.8v0.8h-0.8zM438.6,49.4h0.8v0.8h-0.8zM478.1,29.7h0.8v0.8h-0.8zM439.0,48.5h0.8v0.8h-0.8zM431.6,53.1h0.8v0.8h-0.8zM475.3,48.8h0.8v0.8h-0.8zM454.3,46.8h0.8v0.8h-0.8zM432.5,50.9h0.8v0.8h-0.8zM442.7,32.0h0.8v0.8h-0.8zM452.0,43.5h0.8v0.8h-0.8zM447.0,45.3h0.8v0.8h-0.8zM463.1,35.9h0.8v0.8h-0.8zM484.3,44.3h0.8v0.8h-0.8zM446.3,48.2h0.8v0.8h-0.8zM446.9,36.5h0.8v0.8h-0.8zM453.9,47.2h0.8v0.8h-0.8zM431.8,52.2h0.8v0.8h-0.8zM433.3,50.6h0.8v0.8h-0.8zM439.7,51.2h0.8v0.8h-0.8zM463.0,28.2h0.8v0.8h-0.8zM474.0,48.8h0.8v0.8h-0.8zM447.8,41.9h0.8v0.8h-0.8zM434.2,49.8h0.8v0.8h-0.8zM448.0,41.9h0.8v0.8h-0.8zM438.4,48.3h0.8v0.8h-0.8zM454.8,46.6h0.8v0.8h-0.8zM465.2,47.7h0.8v0.8h-0.8zM434.9,42.5h0.8v0.8h-0.8zM435.9,50.9h0.8v0.8h-0.8zM438.7,49.5h0.8v0.8h-0.8zM451.0,48.4h0.8v0.8h-0.8zM434.0,43.2h0.8v0.8h-0.8zM439.5,43.2h0.8v0.8h-0.8zM458.2,36.9h0.8v0.8h-0.8zM459.5,22.8h0.8v0.8h-0.8zM439.0,41.9h0.8v0.8h-0.8zM467.6,42.1h0.8v0.8h-0.8zM428.2,54.3h0.8v0.8h-0.8zM441.4,44.3h0.8v0.8h-0.8zM426.8,51.0h0.8v0.8h-0.8zM445.3,43.4h0.8v0.8h-0.8zM450.6,21.0h0.8v0.8h-0.8zM479.4,48.6h0.8v0.8h-0.8zM432.3,50.4h0.8v0.8h-0.8zM461.7,46.4h0.8v0.8h-0.8zM438.6,52.0h0.8v0.8h-0.8zM458.4,42.9h0.8v0.8h-0.8zM454.7,48.2h0.8v0.8h-0.8zM447.2,40.5h0.8v0.8h-0.8zM442.3,44.0h0.8v0.8h-0.8zM462.7,32.1h0.8v0.8h-0.8zM479.5,42.6h0.8v0.8h-0.8zM428.7,55.0h0.8v0.8h-0.8zM451.1,45.4h0.8v0.8h-0.8zM441.8,43.7h0.8v0.8h-0.8zM440.6,43.3h0.8v0.8h-0.8zM470.8,44.3h0.8v0.8h-0.8zM432.0,52.7h0.8v0.8h-0.8zM430.3,53.6h0.8v0.8h-0.8zM445.3,47.6h0.8v0.8h-0.8zM443.0,50.4h0.8v0.8h-0.8zM446.7,34.9h0.8v0.8h-0.8zM442.7,45.9h0.8v0.8h-0.8zM435.5,39.6h0.8v0.8h-0.8zM440.8,48.6h0.8v0.8h-0.8zM453.5,48.6h0.8v0.8h-0.8zM446.2,41.6h0.8v0.8h-0.8zM435.0,46.8h0.8v0.8h-0.8zM453.2,45.9h0.8v0.8h-0.8zM462.3,38.8h0.8v0.8h-0.8zM438.4,39.7h0.8v0.8h-0.8zM441.9,50.6h0.8v0.8h-0.8zM450.5,31.7h0.8v0.8h-0.8zM437.1,38.0h0.8v0.8h-0.8zM454.4,35.8h0.8v0.8h-0.8zM441.2,48.0h0.8v0.8h-0.8zM467.5,39.3h0.8v0.8h-0.8zM465.5,47.9h0.8v0.8h-0.8zM453.9,47.8h0.8v0.8h-0.8zM465.0,47.9h0.8v0.8h-0.8zM450.9,46.7h0.8v0.8h-0.8zM437.1,44.1h0.8v0.8h-0.8zM446.9,47.1h0.8v0.8h-0.8zM463.2,42.1h0.8v0.8h-0.8zM444.1,45.3h0.8v0.8h-0.8zM460.7,30.9h0.8v0.8h-0.8zM432.9,48.7h0.8v0.8h-0.8zM444.5,48.1h0.8v0.8h-0.8zM442.1,46.7h0.8v0.8h-0.8zM440.6,48.9h0.8v0.8h-0.8zM462.0,37.3h0.8v0.8h-0.8zM454.9,33.0h0.8v0.8h-0.8zM443.9,50.0h0.8v0.8h-0.8zM468.2,48.1h0.8v0.8h-0.8zM443.9,50.9h0.8v0.8h-0.8zM465.1,26.5h0.8v0.8h-0.8zM450.2,49.2h0.8v0.8h-0.8zM448.7,43.5h0.8v0.8h-0.8zM457.5,22.0h0.8v0.8h-0.8zM469.2,26.2h0.8v0.8h-0.8zM450.3,43.3h0.8v0.8h-0.8zM432.5,52.0h0.8v0.8h-0.8zM438.4,52.4h0.8v0.8h-0.8zM461.5,35.6h0.8v0.8h-0.8zM450.3,47.9h0.8v0.8h-0.8zM440.0,42.3h0.8v0.8h-0.8zM437.7,50.9h0.8v0.8h-0.8zM439.6,48.9h0.8v0.8h-0.8zM457.8,46.6h0.8v0.8h-0.8zM458.0,34.6h0.8v0.8h-0.8zM446.3,48.2h0.8v0.8h-0.8zM470.2,46.9h0.8v0.8h-0.8zM445.9,46.8h0.8v0.8h-0.8zM431.0,47.3h0.8v0.8h-0.8zM434.8,51.7h0.8v0.8h-0.8zM481.3,42.4h0.8v0.8h-0.8zM445.2,44.5h0.8v0.8h-0.8zM440.5,46.5h0.8v0.8h-0.8zM437.9,44.5h0.8v0.8h-0.8zM445.7,48.1h0.8v0.8h-0.8zM459.0,39.4h0.8v0.8h-0.8zM435.0,50.7h0.8v0.8h-0.8zM432.6,45.6h0.8v0.8h-0.8zM444.9,46.0h0.8v0.8h-0.8zM451.9,40.5h0.8v0.8h-0.8zM464.6,46.0h0.8v0.8h-0.8zM449.4,35.6h0.8v0.8h-0.8zM445.0,48.5h0.8v0.8h-0.8zM454.8,46.0h0.8v0.8h-0.8zM448.4,49.2h0.8v0.8h-0.8zM434.2,53.3h0.8v0.8h-0.8zM429.0,50.0h0.8v0.8h-0.8zM427.3,49.8h0.8v0.8h-0.8zM434.8,50.9h0.8v0.8h-0.8zM452.8,47.7h0.8v0.8h-0.8zM447.4,39.7h0.8v0.8h-0.8zM440.5,47.9h0.8v0.8h-0.8zM448.8,45.7h0.8v0.8h-0.8zM461.0,40.0h0.8v0.8h-0.8zM439.6,50.8h0.8v0.8h-0.8zM449.6,33.3h0.8v0.8h-0.8zM452.0,34.3h0.8v0.8h-0.8zM433.8,49.9h0.8v0.8h-0.8zM461.2,43.9h0.8v0.8h-0.8zM434.3,49.4h0.8v0.8h-0.8zM444.9,42.2h0.8v0.8h-0.8zM455.3,42.3h0.8v0.8h-0.8zM460.0,33.3h0.8v0.8h-0.8zM433.5,49.3h0.8v0.8h-0.8zM435.1,52.7h0.8v0.8h-0.8zM461.9,44.6h0.8v0.8h-0.8zM461.7,48.3h0.8v0.8h-0.8zM448.1,39.1h0.8v0.8h-0.8zM453.2,36.2h0.8v0.8h-0.8zM441.5,50.3h0.8v0.8h-0.8zM430.7,50.6h0.8v0.8h-0.8zM439.8,38.8h0.8v0.8h-0.8zM457.9,46.0h0.8v0.8h-0.8zM437.9,41.8h0.8v0.8h-0.8zM438.7,52.0h0.8v0.8h-0.8zM480.0,27.9h0.8v0.8h-0.8zM446.5,48.4h0.8v0.8h-0.8zM455.7,41.5h0.8v0.8h-0.8zM466.3,39.2h0.8v0.8h-0.8zM482.5,42.0h0.8v0.8h-0.8zM480.7,47.9h0.8v0.8h-0.8zM456.9,49.2h0.8v0.8h-0.8zM444.1,45.7h0.8v0.8h-0.8zM437.3,43.4h0.8v0.8h-0.8zM429.3,44.6h0.8v0.8h-0.8zM433.4,50.5h0.8v0.8h-0.8zM468.3,39.9h0.8v0.8h-0.8zM444.6,45.0h0.8v0.8h-0.8zM440.7,50.3h0.8v0.8h-0.8zM439.4,33.1h0.8v0.8h-0.8zM439.5,47.0h0.8v0.8h-0.8zM430.4,49.5h0.8v0.8h-0.8zM457.7,45.0h0.8v0.8h-0.8zM446.3,48.9h0.8v0.8h-0.8zM432.0,50.8h0.8v0.8h-0.8zM449.9,46.3h0.8v0.8h-0.8zM475.3,45.3h0.8v0.8h-0.8zM433.3,41.2h0.8v0.8h-0.8zM431.0,52.9h0.8v0.8h-0.8zM453.8,45.5h0.8v0.8h-0.8zM446.9,40.4h0.8v0.8h-0.8zM459.5,48.7h0.8v0.8h-0.8zM453.8,47.0h0.8v0.8h-0.8zM448.7,28.3h0.8v0.8h-0.8zM432.1,53.0h0.8v0.8h-0.8zM460.0,48.8h0.8v0.8h-0.8zM469.1,37.8h0.8v0.8h-0.8zM448.4,48.0h0.8v0.8h-0.8zM442.9,51.1h0.8v0.8h-0.8zM438.7,47.7h0.8v0.8h-0.8zM455.4,47.5h0.8v0.8h-0.8zM466.9,49.3h0.8v0.8h-0.8zM449.5,48.9h0.8v0.8h-0.8zM448.4,40.6h0.8v0.8h-0.8zM438.6,48.9h0.8v0.8h-0.8zM442.4,46.0h0.8v0.8h-0.8zM479.4,23.6h0.8v0.8h-0.8zM436.7,51.5h0.8v0.8h-0.8zM447.4,43.8h0.8v0.8h-0.8zM435.2,45.2h0.8v0.8h-0.8zM444.5,44.5h0.8v0.8h-0.8zM440.2,37.7h0.8v0.8h-0.8zM441.0,41.7h0.8v0.8h-0.8zM452.7,48.1h0.8v0.8h-0.8zM448.9,49.8h0.8v0.8h-0.8zM428.7,55.5h0.8v0.8h-0.8zM440.3,49.9h0.8v0.8h-0.8zM435.8,43.5h0.8v0.8h-0.8zM461.1,41.6h0.8v0.8h-0.8zM455.0,38.5h0.8v0.8h-0.8zM465.4,31.0h0.8v0.8h-0.8zM435.3,43.5h0.8v0.8h-0.8zM471.7,48.5h0.8v0.8h-0.8zM433.2,46.8h0.8v0.8h-0.8zM444.2,31.1h0.8v0.8h-0.8zM437.7,52.1h0.8v0.8h-0.8zM447.1,45.9h0.8v0.8h-0.8zM436.9,51.9h0.8v0.8h-0.8zM437.9,52.0h0.8v0.8h-0.8zM434.5,51.5h0.8v0.8h-0.8zM444.6,35.8h0.8v0.8h-0.8zM436.4,47.0h0.8v0.8h-0.8zM451.7,49.2h0.8v0.8h-0.8zM454.2,45.7h0.8v0.8h-0.8zM449.6,49.8h0.8v0.8h-0.8zM448.0,49.5h0.8v0.8h-0.8zM446.6,46.1h0.8v0.8h-0.8zM434.1,41.8h0.8v0.8h-0.8zM448.0,49.4h0.8v0.8h-0.8zM453.8,46.0h0.8v0.8h-0.8zM443.1,40.9h0.8v0.8h-0.8zM438.6,43.5h0.8v0.8h-0.8zM436.5,48.4h0.8v0.8h-0.8zM464.8,38.3h0.8v0.8h-0.8zM449.3,47.9h0.8v0.8h-0.8zM447.8,46.8h0.8v0.8h-0.8zM432.4,51.8h0.8v0.8h-0.8zM433.8,50.9h0.8v0.8h-0.8zM460.2,46.4h0.8v0.8h-0.8zM464.4,21.2h0.8v0.8h-0.8zM434.8,52.1h0.8v0.8h-0.8zM442.8,42.4h0.8v0.8h-0.8zM458.0,49.3h0.8v0.8h-0.8zM444.6,49.1h0.8v0.8h-0.8zM439.0,47.7h0.8v0.8h-0.8zM435.5,51.9h0.8v0.8h-0.8zM446.1,45.1h0.8v0.8h-0.8zM466.9,44.9h0.8v0.8h-0.8zM428.1,48.6h0.8v0.8h-0.8zM441.6,49.2h0.8v0.8h-0.8zM439.0,47.4h0.8v0.8h-0.8zM460.9,39.0h0.8v0.8h-0.8zM481.1,39.7h0.8v0.8h-0.8zM445.0,47.3h0.8v0.8h-0.8zM462.3,48.1h0.8v0.8h-0.8zM447.3,39.4h0.8v0.8h-0.8zM431.7,35.2h0.8v0.8h-0.8zM472.6,40.3h0.8v0.8h-0.8zM446.1,39.9h0.8v0.8h-0.8zM483.1,51.5h0.8v0.8h-0.8zM441.9,38.9h0.8v0.8h-0.8zM435.5,52.0h0.8v0.8h-0.8zM436.1,49.5h0.8v0.8h-0.8zM441.0,47.3h0.8v0.8h-0.8zM456.6,30.3h0.8v0.8h-0.8zM440.2,44.4h0.8v0.8h-0.8zM437.2,50.8h0.8v0.8h-0.8zM449.1,46.9h0.8v0.8h-0.8zM446.7,40.1h0.8v0.8h-0.8zM445.8,45.0h0.8v0.8h-0.8zM441.9,45.0h0.8v0.8h-0.8zM469.7,42.4h0.8v0.8h-0.8zM444.6,48.9h0.8v0.8h-0.8zM440.5,47.8h0.8v0.8h-0.8zM482.3,35.0h0.8v0.8h-0.8zM441.5,44.9h0.8v0.8h-0.8zM435.6,52.5h0.8v0.8h-0.8zM480.4,42.6h0.8v0.8h-0.8zM433.7,43.8h0.8v0.8h-0.8zM463.4,43.9h0.8v0.8h-0.8zM467.0,38.8h0.8v0.8h-0.8zM445.7,48.2h0.8v0.8h-0.8zM446.9,36.3h0.8v0.8h-0.8zM453.8,41.1h0.8v0.8h-0.8zM484.8,53.0h0.8v0.8h-0.8zM453.3,42.0h0.8v0.8h-0.8zM427.4,55.8h0.8v0.8h-0.8zM437.2,50.1h0.8v0.8h-0.8zM433.6,45.8h0.8v0.8h-0.8zM438.3,28.5h0.8v0.8h-0.8zM439.2,45.7h0.8v0.8h-0.8zM451.8,41.5h0.8v0.8h-0.8zM434.6,48.9h0.8v0.8h-0.8zM449.2,48.4h0.8v0.8h-0.8zM438.1,39.5h0.8v0.8h-0.8zM456.9,44.9h0.8v0.8h-0.8zM433.2,49.6h0.8v0.8h-0.8zM445.4,34.9h0.8v0.8h-0.8zM440.8,48.7h0.8v0.8h-0.8zM438.5,46.6h0.8v0.8h-0.8zM440.3,46.5h0.8v0.8h-0.8zM436.3,48.7h0.8v0.8h-0.8zM467.2,44.0h0.8v0.8h-0.8zM460.6,47.9h0.8v0.8h-0.8zM458.5,45.0h0.8v0.8h-0.8zM434.2,49.4h0.8v0.8h-0.8zM437.1,52.0h0.8v0.8h-0.8zM435.0,46.4h0.8v0.8h-0.8zM443.8,44.1h0.8v0.8h-0.8zM433.3,53.5h0.8v0.8h-0.8zM428.6,53.2h0.8v0.8h-0.8zM454.0,27.3h0.8v0.8h-0.8zM442.2,49.1h0.8v0.8h-0.8zM455.1,31.8h0.8v0.8h-0.8zM437.7,51.2h0.8v0.8h-0.8zM438.5,50.6h0.8v0.8h-0.8zM446.1,49.7h0.8v0.8h-0.8zM450.9,45.2h0.8v0.8h-0.8zM460.9,49.2h0.8v0.8h-0.8zM444.4,47.1h0.8v0.8h-0.8zM445.9,46.4h0.8v0.8h-0.8zM434.9,53.1h0.8v0.8h-0.8zM484.5,53.1h0.8v0.8h-0.8zM446.0,42.1h0.8v0.8h-0.8zM432.6,44.5h0.8v0.8h-0.8zM465.6,26.7h0.8v0.8h-0.8zM464.4,25.9h0.8v0.8h-0.8zM448.8,41.3h0.8v0.8h-0.8zM440.0,46.0h0.8v0.8h-0.8zM469.3,32.4h0.8v0.8h-0.8zM430.2,51.4h0.8v0.8h-0.8zM431.8,49.9h0.8v0.8h-0.8zM458.9,39.5h0.8v0.8h-0.8zM429.5,54.9h0.8v0.8h-0.8zM455.7,20.9h0.8v0.8h-0.8zM479.3,39.1h0.8v0.8h-0.8zM455.0,37.0h0.8v0.8h-0.8zM459.5,46.4h0.8v0.8h-0.8zM461.0,33.5h0.8v0.8h-0.8zM450.6,43.1h0.8v0.8h-0.8zM445.6,36.1h0.8v0.8h-0.8zM467.0,42.7h0.8v0.8h-0.8zM447.5,44.8h0.8v0.8h-0.8zM451.2,30.6h0.8v0.8h-0.8zM445.2,38.7h0.8v0.8h-0.8zM441.3,39.4h0.8v0.8h-0.8zM437.9,50.5h0.8v0.8h-0.8zM433.6,50.9h0.8v0.8h-0.8zM475.0,49.6h0.8v0.8h-0.8zM446.0,37.4h0.8v0.8h-0.8zM454.8,47.5h0.8v0.8h-0.8zM431.2,48.8h0.8v0.8h-0.8zM434.2,42.2h0.8v0.8h-0.8zM442.7,50.2h0.8v0.8h-0.8zM450.4,44.0h0.8v0.8h-0.8zM437.5,39.1h0.8v0.8h-0.8zM444.6,41.2h0.8v0.8h-0.8zM458.8,24.3h0.8v0.8h-0.8zM450.6,41.3h0.8v0.8h-0.8zM443.8,48.2h0.8v0.8h-0.8zM432.6,49.1h0.8v0.8h-0.8zM430.9,54.3h0.8v0.8h-0.8zM438.5,46.7h0.8v0.8h-0.8zM466.6,48.7h0.8v0.8h-0.8zM444.2,46.6h0.8v0.8h-0.8zM447.7,48.1h0.8v0.8h-0.8zM441.6,44.2h0.8v0.8h-0.8zM441.4,50.6h0.8v0.8h-0.8zM446.7,50.4h0.8v0.8h-0.8zM447.1,47.1h0.8v0.8h-0.8zM444.6,50.3h0.8v0.8h-0.8zM441.2,51.4h0.8v0.8h-0.8zM444.1,47.7h0.8v0.8h-0.8zM444.2,47.4h0.8v0.8h-0.8zM438.0,45.8h0.8v0.8h-0.8zM435.0,32.9h0.8v0.8h-0.8zM443.0,44.4h0.8v0.8h-0.8zM449.7,32.2h0.8v0.8h-0.8zM474.3,43.0h0.8v0.8h-0.8zM435.6,52.7h0.8v0.8h-0.8zM438.4,45.4h0.8v0.8h-0.8zM447.8,47.6h0.8v0.8h-0.8zM434.8,48.4h0.8v0.8h-0.8zM449.2,49.4h0.8v0.8h-0.8zM435.6,35.4h0.8v0.8h-0.8zM452.2,47.5h0.8v0.8h-0.8zM436.9,46.7h0.8v0.8h-0.8zM437.6,48.0h0.8v0.8h-0.8zM446.0,45.6h0.8v0.8h-0.8zM452.8,31.3h0.8v0.8h-0.8zM437.4,38.4h0.8v0.8h-0.8zM448.5,46.7h0.8v0.8h-0.8zM441.3,50.6h0.8v0.8h-0.8zM429.9,48.5h0.8v0.8h-0.8zM467.5,42.7h0.8v0.8h-0.8zM468.9,44.3h0.8v0.8h-0.8zM443.9,49.0h0.8v0.8h-0.8zM442.4,47.1h0.8v0.8h-0.8zM433.0,51.8h0.8v0.8h-0.8zM431.7,49.6h0.8v0.8h-0.8zM451.0,48.9h0.8v0.8h-0.8zM461.7,38.5h0.8v0.8h-0.8zM468.3,45.6h0.8v0.8h-0.8zM461.0,44.3h0.8v0.8h-0.8zM433.1,52.8h0.8v0.8h-0.8zM430.2,51.2h0.8v0.8h-0.8zM427.2,52.9h0.8v0.8h-0.8zM440.2,50.5h0.8v0.8h-0.8zM452.1,44.8h0.8v0.8h-0.8zM433.8,52.2h0.8v0.8h-0.8zM467.1,37.6h0.8v0.8h-0.8zM442.8,44.3h0.8v0.8h-0.8zM448.4,49.9h0.8v0.8h-0.8zM431.9,48.2h0.8v0.8h-0.8zM461.7,44.0h0.8v0.8h-0.8zM451.9,45.0h0.8v0.8h-0.8zM441.2,49.1h0.8v0.8h-0.8zM445.1,38.9h0.8v0.8h-0.8zM454.4,42.4h0.8v0.8h-0.8zM453.9,39.7h0.8v0.8h-0.8zM471.8,45.1h0.8v0.8h-0.8zM456.1,36.3h0.8v0.8h-0.8zM444.4,48.9h0.8v0.8h-0.8zM434.7,52.1h0.8v0.8h-0.8zM481.7,49.9h0.8v0.8h-0.8zM458.0,49.1h0.8v0.8h-0.8zM475.7,35.6h0.8v0.8h-0.8zM447.6,45.2h0.8v0.8h-0.8zM432.6,53.3h0.8v0.8h-0.8zM445.9,44.1h0.8v0.8h-0.8zM440.9,47.9h0.8v0.8h-0.8zM433.8,52.9h0.8v0.8h-0.8zM442.7,50.0h0.8v0.8h-0.8zM441.1,50.6h0.8v0.8h-0.8zM453.0,46.2h0.8v0.8h-0.8zM448.8,40.7h0.8v0.8h-0.8zM471.4,28.7h0.8v0.8h-0.8zM440.9,50.9h0.8v0.8h-0.8zM440.4,45.4h0.8v0.8h-0.8zM462.7,25.8h0.8v0.8h-0.8zM427.9,54.8h0.8v0.8h-0.8zM456.3,48.1h0.8v0.8h-0.8zM430.7,46.4h0.8v0.8h-0.8zM436.7,40.1h0.8v0.8h-0.8zM445.6,49.8h0.8v0.8h-0.8zM445.7,42.3h0.8v0.8h-0.8zM447.5,40.4h0.8v0.8h-0.8zM428.3,52.9h0.8v0.8h-0.8zM447.8,32.6h0.8v0.8h-0.8zM437.6,51.9h0.8v0.8h-0.8zM441.1,51.4h0.8v0.8h-0.8zM472.0,49.3h0.8v0.8h-0.8zM446.6,36.8h0.8v0.8h-0.8zM447.0,48.9h0.8v0.8h-0.8zM431.2,53.4h0.8v0.8h-0.8zM478.7,37.8h0.8v0.8h-0.8zM451.4,43.4h0.8v0.8h-0.8zM437.7,30.5h0.8v0.8h-0.8zM428.9,50.9h0.8v0.8h-0.8zM444.3,45.8h0.8v0.8h-0.8zM438.7,50.9h0.8v0.8h-0.8zM470.8,38.2h0.8v0.8h-0.8zM429.7,53.4h0.8v0.8h-0.8zM429.5,49.6h0.8v0.8h-0.8zM444.1,49.6h0.8v0.8h-0.8zM451.5,42.8h0.8v0.8h-0.8zM450.8,43.3h0.8v0.8h-0.8zM451.7,34.4h0.8v0.8h-0.8zM442.9,43.5h0.8v0.8h-0.8zM430.4,54.3h0.8v0.8h-0.8zM456.3,49.2h0.8v0.8h-0.8zM436.2,45.2h0.8v0.8h-0.8zM469.2,49.2h0.8v0.8h-0.8zM445.5,36.8h0.8v0.8h-0.8zM458.6,46.3h0.8v0.8h-0.8zM472.2,44.1h0.8v0.8h-0.8zM462.2,45.7h0.8v0.8h-0.8zM464.8,48.8h0.8v0.8h-0.8zM458.5,48.6h0.8v0.8h-0.8zM451.8,29.9h0.8v0.8h-0.8zM446.0,41.6h0.8v0.8h-0.8zM435.1,45.8h0.8v0.8h-0.8zM434.2,43.9h0.8v0.8h-0.8zM453.3,40.3h0.8v0.8h-0.8zM429.3,52.9h0.8v0.8h-0.8zM452.2,41.8h0.8v0.8h-0.8zM446.0,46.7h0.8v0.8h-0.8zM432.5,46.8h0.8v0.8h-0.8zM479.8,50.1h0.8v0.8h-0.8zM481.7,31.5h0.8v0.8h-0.8zM439.6,51.8h0.8v0.8h-0.8zM466.4,33.8h0.8v0.8h-0.8zM438.8,49.1h0.8v0.8h-0.8zM453.6,47.8h0.8v0.8h-0.8zM462.0,49.3h0.8v0.8h-0.8zM436.2,52.7h0.8v0.8h-0.8zM435.3,43.6h0.8v0.8h-0.8zM459.2,47.6h0.8v0.8h-0.8zM466.0,22.1h0.8v0.8h-0.8zM450.9,45.2h0.8v0.8h-0.8zM461.6,28.0h0.8v0.8h-0.8zM452.1,49.0h0.8v0.8h-0.8zM443.3,45.5h0.8v0.8h-0.8zM439.5,50.3h0.8v0.8h-0.8zM461.3,38.2h0.8v0.8h-0.8zM451.6,37.8h0.8v0.8h-0.8zM451.9,48.8h0.8v0.8h-0.8zM438.1,48.5h0.8v0.8h-0.8zM437.1,47.6h0.8v0.8h-0.8zM439.2,48.9h0.8v0.8h-0.8zM443.7,41.5h0.8v0.8h-0.8zM464.2,46.1h0.8v0.8h-0.8zM438.6,44.0h0.8v0.8h-0.8zM447.8,37.3h0.8v0.8h-0.8zM434.3,50.0h0.8v0.8h-0.8zM476.8,49.1h0.8v0.8h-0.8zM449.9,47.8h0.8v0.8h-0.8zM434.1,52.6h0.8v0.8h-0.8zM452.0,38.2h0.8v0.8h-0.8zM452.6,30.5h0.8v0.8h-0.8zM444.0,42.5h0.8v0.8h-0.8zM476.1,47.7h0.8v0.8h-0.8zM450.8,43.1h0.8v0.8h-0.8zM444.8,45.3h0.8v0.8h-0.8zM448.4,36.1h0.8v0.8h-0.8zM439.6,39.7h0.8v0.8h-0.8zM438.9,52.1h0.8v0.8h-0.8zM433.8,43.7h0.8v0.8h-0.8zM462.3,39.0h0.8v0.8h-0.8zM474.5,38.5h0.8v0.8h-0.8zM460.4,48.8h0.8v0.8h-0.8zM439.8,48.5h0.8v0.8h-0.8zM440.8,49.2h0.8v0.8h-0.8zM438.8,39.7h0.8v0.8h-0.8zM452.5,47.2h0.8v0.8h-0.8zM453.0,32.6h0.8v0.8h-0.8zM451.6,48.6h0.8v0.8h-0.8zM444.6,34.9h0.8v0.8h-0.8zM456.8,49.1h0.8v0.8h-0.8zM444.8,43.0h0.8v0.8h-0.8zM472.4,42.7h0.8v0.8h-0.8zM435.7,52.8h0.8v0.8h-0.8zM448.2,27.8h0.8v0.8h-0.8zM436.5,52.6h0.8v0.8h-0.8zM450.3,31.1h0.8v0.8h-0.8zM462.2,48.6h0.8v0.8h-0.8zM449.1,45.4h0.8v0.8h-0.8zM460.9,48.9h0.8v0.8h-0.8zM449.5,42.0h0.8v0.8h-0.8zM450.5,40.1h0.8v0.8h-0.8zM461.7,42.6h0.8v0.8h-0.8zM455.8,44.0h0.8v0.8h-0.8zM445.7,46.3h0.8v0.8h-0.8zM441.8,47.0h0.8v0.8h-0.8zM462.2,48.8h0.8v0.8h-0.8zM438.6,52.3h0.8v0.8h-0.8zM434.5,50.2h0.8v0.8h-0.8zM444.0,49.4h0.8v0.8h-0.8zM468.7,43.9h0.8v0.8h-0.8zM436.4,46.5h0.8v0.8h-0.8zM460.3,32.8h0.8v0.8h-0.8zM436.8,43.9h0.8v0.8h-0.8zM437.6,42.6h0.8v0.8h-0.8zM428.3,55.4h0.8v0.8h-0.8zM465.7,47.8h0.8v0.8h-0.8zM463.8,38.1h0.8v0.8h-0.8zM474.1,25.5h0.8v0.8h-0.8zM459.1,35.8h0.8v0.8h-0.8zM437.0,52.2h0.8v0.8h-0.8zM449.3,46.3h0.8v0.8h-0.8zM439.4,48.6h0.8v0.8h-0.8zM445.9,47.0h0.8v0.8h-0.8zM460.8,44.0h0.8v0.8h-0.8zM445.6,33.9h0.8v0.8h-0.8zM459.6,35.9h0.8v0.8h-0.8zM447.7,47.3h0.8v0.8h-0.8zM443.6,47.6h0.8v0.8h-0.8zM434.9,40.9h0.8v0.8h-0.8zM442.1,42.1h0.8v0.8h-0.8zM468.4,48.8h0.8v0.8h-0.8zM446.8,44.5h0.8v0.8h-0.8zM463.2,43.3h0.8v0.8h-0.8zM428.5,52.4h0.8v0.8h-0.8zM439.7,48.3h0.8v0.8h-0.8zM468.3,40.3h0.8v0.8h-0.8zM455.5,39.1h0.8v0.8h-0.8zM429.3,54.7h0.8v0.8h-0.8zM434.9,24.6h0.8v0.8h-0.8zM452.1,46.7h0.8v0.8h-0.8zM441.2,35.4h0.8v0.8h-0.8zM470.7,42.1h0.8v0.8h-0.8zM450.2,43.4h0.8v0.8h-0.8zM435.2,45.2h0.8v0.8h-0.8zM437.2,48.5h0.8v0.8h-0.8zM440.9,50.9h0.8v0.8h-0.8zM436.9,51.4h0.8v0.8h-0.8zM435.7,52.8h0.8v0.8h-0.8zM440.8,27.2h0.8v0.8h-0.8zM443.0,44.6h0.8v0.8h-0.8zM462.5,47.7h0.8v0.8h-0.8zM436.0,49.6h0.8v0.8h-0.8zM465.3,42.1h0.8v0.8h-0.8zM441.0,44.7h0.8v0.8h-0.8zM432.9,46.0h0.8v0.8h-0.8zM468.5,40.8h0.8v0.8h-0.8zM434.8,41.9h0.8v0.8h-0.8zM441.9,46.2h0.8v0.8h-0.8zM438.1,50.1h0.8v0.8h-0.8zM435.0,49.9h0.8v0.8h-0.8zM433.8,51.5h0.8v0.8h-0.8zM430.5,54.8h0.8v0.8h-0.8zM450.0,33.8h0.8v0.8h-0.8zM463.2,45.6h0.8v0.8h-0.8zM435.7,50.2h0.8v0.8h-0.8zM454.4,46.7h0.8v0.8h-0.8zM452.7,43.5h0.8v0.8h-0.8zM458.2,40.0h0.8v0.8h-0.8zM431.1,51.6h0.8v0.8h-0.8zM439.8,47.0h0.8v0.8h-0.8zM448.3,42.7h0.8v0.8h-0.8zM468.1,48.7h0.8v0.8h-0.8zM463.5,42.2h0.8v0.8h-0.8zM436.8,43.9h0.8v0.8h-0.8zM445.6,49.8h0.8v0.8h-0.8zM433.4,47.7h0.8v0.8h-0.8zM447.0,44.5h0.8v0.8h-0.8zM441.3,47.7h0.8v0.8h-0.8zM456.1,46.1h0.8v0.8h-0.8zM462.7,43.0h0.8v0.8h-0.8zM448.3,32.3h0.8v0.8h-0.8zM453.3,43.8h0.8v0.8h-0.8zM459.7,47.9h0.8v0.8h-0.8zM436.7,52.4h0.8v0.8h-0.8zM446.8,48.8h0.8v0.8h-0.8zM463.4,48.0h0.8v0.8h-0.8zM437.9,49.8h0.8v0.8h-0.8zM444.9,37.9h0.8v0.8h-0.8zM443.5,51.0h0.8v0.8h-0.8zM433.7,49.6h0.8v0.8h-0.8zM455.5,38.3h0.8v0.8h-0.8zM429.0,53.1h0.8v0.8h-0.8zM440.1,39.0h0.8v0.8h-0.8zM445.4,33.8h0.8v0.8h-0.8zM442.9,39.2h0.8v0.8h-0.8zM448.8,36.6h0.8v0.8h-0.8zM482.7,48.9h0.8v0.8h-0.8zM427.1,54.8h0.8v0.8h-0.8zM439.8,43.5h0.8v0.8h-0.8zM475.0,42.3h0.8v0.8h-0.8zM433.5,45.3h0.8v0.8h-0.8zM440.6,47.6h0.8v0.8h-0.8zM471.6,40.5h0.8v0.8h-0.8zM461.2,48.7h0.8v0.8h-0.8zM440.0,39.3h0.8v0.8h-0.8zM444.1,31.3h0.8v0.8h-0.8zM430.8,49.2h0.8v0.8h-0.8zM436.8,50.4h0.8v0.8h-0.8zM443.9,31.2h0.8v0.8h-0.8zM464.5,29.9h0.8v0.8h-0.8zM429.9,50.3h0.8v0.8h-0.8zM443.0,47.6h0.8v0.8h-0.8zM461.5,40.6h0.8v0.8h-0.8zM443.3,46.8h0.8v0.8h-0.8zM450.6,47.3h0.8v0.8h-0.8zM449.6,41.5h0.8v0.8h-0.8zM435.6,36.5h0.8v0.8h-0.8zM439.2,51.2h0.8v0.8h-0.8zM455.4,32.3h0.8v0.8h-0.8zM466.0,29.3h0.8v0.8h-0.8zM441.7,30.0h0.8v0.8h-0.8zM463.7,25.0h0.8v0.8h-0.8zM449.8,45.5h0.8v0.8h-0.8zM480.6,44.8h0.8v0.8h-0.8zM438.1,52.1h0.8v0.8h-0.8zM466.4,47.9h0.8v0.8h-0.8zM457.1,39.9h0.8v0.8h-0.8zM438.4,48.9h0.8v0.8h-0.8zM454.8,35.5h0.8v0.8h-0.8zM446.6,30.8h0.8v0.8h-0.8zM449.1,46.8h0.8v0.8h-0.8zM441.8,31.1h0.8v0.8h-0.8zM441.9,41.7h0.8v0.8h-0.8zM465.4,47.9h0.8v0.8h-0.8zM438.9,41.8h0.8v0.8h-0.8zM472.8,49.8h0.8v0.8h-0.8zM438.7,46.8h0.8v0.8h-0.8zM440.6,50.5h0.8v0.8h-0.8zM463.2,22.9h0.8v0.8h-0.8zM446.4,41.7h0.8v0.8h-0.8zM441.5,39.5h0.8v0.8h-0.8zM435.3,41.3h0.8v0.8h-0.8zM461.4,36.6h0.8v0.8h-0.8zM443.1,43.9h0.8v0.8h-0.8zM440.1,43.5h0.8v0.8h-0.8zM429.7,53.8h0.8v0.8h-0.8zM450.2,42.9h0.8v0.8h-0.8zM439.5,51.2h0.8v0.8h-0.8zM445.3,34.4h0.8v0.8h-0.8zM472.5,50.0h0.8v0.8h-0.8zM468.2,48.5h0.8v0.8h-0.8zM441.9,31.7h0.8v0.8h-0.8zM462.6,47.6h0.8v0.8h-0.8zM477.1,48.6h0.8v0.8h-0.8zM431.4,51.8h0.8v0.8h-0.8zM444.2,43.0h0.8v0.8h-0.8zM438.6,47.4h0.8v0.8h-0.8zM446.1,46.0h0.8v0.8h-0.8zM458.5,41.9h0.8v0.8h-0.8zM450.2,49.6h0.8v0.8h-0.8zM433.8,49.3h0.8v0.8h-0.8zM457.3,38.5h0.8v0.8h-0.8zM480.8,28.4h0.8v0.8h-0.8zM463.4,39.1h0.8v0.8h-0.8zM452.3,48.1h0.8v0.8h-0.8zM441.3,49.4h0.8v0.8h-0.8zM457.6,43.4h0.8v0.8h-0.8zM439.1,47.6h0.8v0.8h-0.8zM437.5,51.1h0.8v0.8h-0.8zM447.4,37.8h0.8v0.8h-0.8zM434.4,51.5h0.8v0.8h-0.8zM457.8,33.9h0.8v0.8h-0.8zM431.5,50.0h0.8v0.8h-0.8zM460.9,37.4h0.8v0.8h-0.8zM439.6,52.0h0.8v0.8h-0.8zM444.0,47.2h0.8v0.8h-0.8zM440.4,50.4h0.8v0.8h-0.8zM448.1,47.8h0.8v0.8h-0.8zM456.7,31.4h0.8v0.8h-0.8zM448.9,34.3h0.8v0.8h-0.8zM431.7,51.9h0.8v0.8h-0.8zM448.6,43.0h0.8v0.8h-0.8zM430.0,51.6h0.8v0.8h-0.8zM448.4,49.8h0.8v0.8h-0.8zM441.6,31.9h0.8v0.8h-0.8zM438.7,45.4h0.8v0.8h-0.8zM468.8,34.7h0.8v0.8h-0.8zM439.9,35.8h0.8v0.8h-0.8zM463.8,49.3h0.8v0.8h-0.8zM447.3,48.9h0.8v0.8h-0.8zM451.6,48.1h0.8v0.8h-0.8zM438.3,51.7h0.8v0.8h-0.8zM474.5,43.2h0.8v0.8h-0.8zM470.2,33.6h0.8v0.8h-0.8zM448.2,41.0h0.8v0.8h-0.8zM458.2,47.5h0.8v0.8h-0.8zM436.8,46.2h0.8v0.8h-0.8zM431.2,50.6h0.8v0.8h-0.8zM440.2,51.6h0.8v0.8h-0.8zM455.6,29.4h0.8v0.8h-0.8zM438.4,48.0h0.8v0.8h-0.8zM461.9,44.7h0.8v0.8h-0.8zM477.0,28.8h0.8v0.8h-0.8zM452.7,46.9h0.8v0.8h-0.8zM426.5,42.6h0.8v0.8h-0.8zM453.7,43.3h0.8v0.8h-0.8zM445.6,49.5h0.8v0.8h-0.8zM455.9,35.9h0.8v0.8h-0.8zM437.3,48.8h0.8v0.8h-0.8zM459.1,43.4h0.8v0.8h-0.8zM448.2,41.9h0.8v0.8h-0.8zM433.7,50.0h0.8v0.8h-0.8zM449.8,47.5h0.8v0.8h-0.8zM435.0,44.7h0.8v0.8h-0.8zM477.1,49.7h0.8v0.8h-0.8zM440.2,49.6h0.8v0.8h-0.8zM445.6,42.8h0.8v0.8h-0.8zM443.5,46.8h0.8v0.8h-0.8zM454.6,39.1h0.8v0.8h-0.8zM449.4,22.1h0.8v0.8h-0.8zM481.8,33.9h0.8v0.8h-0.8zM435.4,51.1h0.8v0.8h-0.8zM441.8,48.2h0.8v0.8h-0.8zM448.8,42.6h0.8v0.8h-0.8zM446.8,39.2h0.8v0.8h-0.8zM444.3,38.7h0.8v0.8h-0.8zM448.0,47.5h0.8v0.8h-0.8zM444.7,42.5h0.8v0.8h-0.8zM448.3,43.1h0.8v0.8h-0.8zM454.4,49.3h0.8v0.8h-0.8zM438.8,51.6h0.8v0.8h-0.8zM452.4,35.2h0.8v0.8h-0.8zM459.6,35.8h0.8v0.8h-0.8zM432.5,51.8h0.8v0.8h-0.8zM445.5,39.3h0.8v0.8h-0.8zM436.8,43.2h0.8v0.8h-0.8zM478.4,38.9h0.8v0.8h-0.8zM435.7,51.5h0.8v0.8h-0.8zM453.9,38.6h0.8v0.8h-0.8zM442.9,50.1h0.8v0.8h-0.8zM448.9,47.0h0.8v0.8h-0.8zM472.5,49.3h0.8v0.8h-0.8zM440.3,43.8h0.8v0.8h-0.8zM457.3,35.9h0.8v0.8h-0.8zM455.4,41.0h0.8v0.8h-0.8zM464.0,29.4h0.8v0.8h-0.8zM451.1,45.8h0.8v0.8h-0.8zM444.1,36.2h0.8v0.8h-0.8zM448.9,46.4h0.8v0.8h-0.8zM464.2,44.5h0.8v0.8h-0.8zM434.9,50.4h0.8v0.8h-0.8zM464.4,48.3h0.8v0.8h-0.8zM480.0,51.4h0.8v0.8h-0.8zM457.6,31.6h0.8v0.8h-0.8zM433.4,46.6h0.8v0.8h-0.8zM441.6,47.2h0.8v0.8h-0.8zM456.4,44.5h0.8v0.8h-0.8zM437.7,52.3h0.8v0.8h-0.8zM437.9,51.9h0.8v0.8h-0.8zM441.9,44.6h0.8v0.8h-0.8zM430.4,45.0h0.8v0.8h-0.8zM443.4,46.7h0.8v0.8h-0.8zM464.5,39.5h0.8v0.8h-0.8zM445.5,50.4h0.8v0.8h-0.8zM458.7,48.1h0.8v0.8h-0.8zM441.3,51.2h0.8v0.8h-0.8zM482.7,38.2h0.8v0.8h-0.8zM435.7,50.7h0.8v0.8h-0.8zM428.6,48.9h0.8v0.8h-0.8zM457.7,39.9h0.8v0.8h-0.8zM436.2,48.3h0.8v0.8h-0.8zM475.7,49.2h0.8v0.8h-0.8zM434.6,48.3h0.8v0.8h-0.8zM438.4,49.5h0.8v0.8h-0.8zM448.5,46.1h0.8v0.8h-0.8zM440.1,51.7h0.8v0.8h-0.8zM431.6,54.5h0.8v0.8h-0.8zM439.0,44.9h0.8v0.8h-0.8zM441.4,46.0h0.8v0.8h-0.8zM458.9,31.8h0.8v0.8h-0.8zM439.2,49.6h0.8v0.8h-0.8zM452.1,36.5h0.8v0.8h-0.8zM457.2,44.5h0.8v0.8h-0.8zM440.3,50.7h0.8v0.8h-0.8zM445.0,49.0h0.8v0.8h-0.8zM452.2,46.3h0.8v0.8h-0.8zM477.1,47.0h0.8v0.8h-0.8zM441.9,50.6h0.8v0.8h-0.8zM442.4,46.9h0.8v0.8h-0.8zM442.6,43.6h0.8v0.8h-0.8zM447.9,48.3h0.8v0.8h-0.8zM440.0,48.5h0.8v0.8h-0.8zM434.1,52.9h0.8v0.8h-0.8zM478.3,48.0h0.8v0.8h-0.8zM446.3,43.7h0.8v0.8h-0.8zM441.6,49.0h0.8v0.8h-0.8zM446.0,45.0h0.8v0.8h-0.8zM433.7,53.0h0.8v0.8h-0.8zM447.1,46.2h0.8v0.8h-0.8zM443.0,45.9h0.8v0.8h-0.8zM439.1,51.2h0.8v0.8h-0.8zM435.8,49.7h0.8v0.8h-0.8zM443.7,47.5h0.8v0.8h-0.8zM457.9,41.7h0.8v0.8h-0.8zM430.8,52.9h0.8v0.8h-0.8zM440.9,48.3h0.8v0.8h-0.8zM466.3,32.1h0.8v0.8h-0.8zM466.8,22.2h0.8v0.8h-0.8zM453.6,48.1h0.8v0.8h-0.8zM461.4,49.1h0.8v0.8h-0.8zM443.9,45.0h0.8v0.8h-0.8zM460.3,33.0h0.8v0.8h-0.8zM429.2,48.0h0.8v0.8h-0.8zM460.6,34.4h0.8v0.8h-0.8zM444.4,50.7h0.8v0.8h-0.8zM429.4,54.4h0.8v0.8h-0.8zM439.9,51.6h0.8v0.8h-0.8zM441.6,50.5h0.8v0.8h-0.8zM431.0,53.3h0.8v0.8h-0.8zM461.7,39.2h0.8v0.8h-0.8zM441.4,49.5h0.8v0.8h-0.8zM446.2,49.9h0.8v0.8h-0.8zM449.6,39.0h0.8v0.8h-0.8zM430.3,47.6h0.8v0.8h-0.8zM470.9,46.0h0.8v0.8h-0.8zM429.5,43.7h0.8v0.8h-0.8zM464.7,46.6h0.8v0.8h-0.8zM455.8,34.9h0.8v0.8h-0.8zM445.6,39.5h0.8v0.8h-0.8zM445.3,50.0h0.8v0.8h-0.8zM440.2,49.4h0.8v0.8h-0.8zM443.6,38.8h0.8v0.8h-0.8zM440.0,50.0h0.8v0.8h-0.8zM457.8,38.2h0.8v0.8h-0.8zM432.1,50.8h0.8v0.8h-0.8zM468.5,25.6h0.8v0.8h-0.8zM443.4,42.3h0.8v0.8h-0.8zM435.2,45.7h0.8v0.8h-0.8zM454.9,48.0h0.8v0.8h-0.8zM447.8,35.5h0.8v0.8h-0.8zM440.7,50.1h0.8v0.8h-0.8zM432.6,46.2h0.8v0.8h-0.8zM448.7,46.8h0.8v0.8h-0.8zM427.7,55.5h0.8v0.8h-0.8zM433.2,44.1h0.8v0.8h-0.8zM438.5,45.3h0.8v0.8h-0.8zM439.8,36.1h0.8v0.8h-0.8zM456.3,42.5h0.8v0.8h-0.8zM440.4,38.8h0.8v0.8h-0.8zM453.3,41.0h0.8v0.8h-0.8zM445.4,49.3h0.8v0.8h-0.8zM458.0,49.1h0.8v0.8h-0.8zM443.9,48.5h0.8v0.8h-0.8zM446.4,45.0h0.8v0.8h-0.8zM442.8,45.7h0.8v0.8h-0.8zM440.0,47.8h0.8v0.8h-0.8zM467.2,46.3h0.8v0.8h-0.8zM453.0,43.0h0.8v0.8h-0.8zM431.2,53.5h0.8v0.8h-0.8zM449.3,43.7h0.8v0.8h-0.8zM451.9,47.3h0.8v0.8h-0.8zM442.1,38.8h0.8v0.8h-0.8zM431.1,40.7h0.8v0.8h-0.8zM466.6,46.5h0.8v0.8h-0.8zM455.0,48.6h0.8v0.8h-0.8zM458.5,46.0h0.8v0.8h-0.8zM453.6,43.0h0.8v0.8h-0.8zM442.7,50.5h0.8v0.8h-0.8zM449.2,37.2h0.8v0.8h-0.8zM435.7,50.0h0.8v0.8h-0.8zM436.4,44.5h0.8v0.8h-0.8zM440.2,49.5h0.8v0.8h-0.8zM460.5,25.9h0.8v0.8h-0.8zM431.4,46.4h0.8v0.8h-0.8zM430.0,48.3h0.8v0.8h-0.8zM430.2,54.4h0.8v0.8h-0.8zM431.5,49.4h0.8v0.8h-0.8zM453.0,43.5h0.8v0.8h-0.8zM443.6,47.9h0.8v0.8h-0.8zM442.8,49.6h0.8v0.8h-0.8zM466.8,49.1h0.8v0.8h-0.8zM482.1,52.3h0.8v0.8h-0.8zM430.4,49.1h0.8v0.8h-0.8zM439.4,39.9h0.8v0.8h-0.8zM443.1,50.1h0.8v0.8h-0.8zM444.8,32.4h0.8v0.8h-0.8zM453.7,38.9h0.8v0.8h-0.8zM437.0,52.5h0.8v0.8h-0.8zM460.8,38.8h0.8v0.8h-0.8zM435.4,45.7h0.8v0.8h-0.8zM433.7,50.2h0.8v0.8h-0.8zM449.0,47.1h0.8v0.8h-0.8zM437.6,51.8h0.8v0.8h-0.8zM427.1,54.5h0.8v0.8h-0.8zM449.6,44.1h0.8v0.8h-0.8zM445.6,49.3h0.8v0.8h-0.8zM446.0,26.9h0.8v0.8h-0.8zM441.6,41.1h0.8v0.8h-0.8zM477.2,47.0h0.8v0.8h-0.8zM432.9,50.2h0.8v0.8h-0.8zM456.8,45.9h0.8v0.8h-0.8zM445.8,48.9h0.8v0.8h-0.8zM434.3,49.5h0.8v0.8h-0.8zM460.8,40.0h0.8v0.8h-0.8zM446.4,49.4h0.8v0.8h-0.8zM452.9,48.4h0.8v0.8h-0.8zM429.9,49.3h0.8v0.8h-0.8zM480.2,44.2h0.8v0.8h-0.8zM438.1,52.4h0.8v0.8h-0.8zM436.9,50.7h0.8v0.8h-0.8zM450.1,48.7h0.8v0.8h-0.8zM472.8,44.7h0.8v0.8h-0.8zM454.0,48.6h0.8v0.8h-0.8zM450.6,46.8h0.8v0.8h-0.8zM459.9,45.3h0.8v0.8h-0.8zM438.8,51.9h0.8v0.8h-0.8zM440.3,37.4h0.8v0.8h-0.8zM441.7,42.9h0.8v0.8h-0.8zM452.6,35.8h0.8v0.8h-0.8zM452.0,49.3h0.8v0.8h-0.8zM445.7,42.1h0.8v0.8h-0.8zM437.3,44.0h0.8v0.8h-0.8zM448.0,49.5h0.8v0.8h-0.8zM447.4,28.3h0.8v0.8h-0.8zM448.3,22.0h0.8v0.8h-0.8zM485.3,45.6h0.8v0.8h-0.8zM484.3,34.3h0.8v0.8h-0.8zM477.0,44.0h0.8v0.8h-0.8zM444.9,36.6h0.8v0.8h-0.8zM436.9,44.4h0.8v0.8h-0.8zM452.1,45.1h0.8v0.8h-0.8zM465.9,37.4h0.8v0.8h-0.8zM448.1,43.8h0.8v0.8h-0.8zM444.9,24.9h0.8v0.8h-0.8zM450.3,40.5h0.8v0.8h-0.8zM471.4,23.4h0.8v0.8h-0.8zM481.7,26.8h0.8v0.8h-0.8zM479.7,37.0h0.8v0.8h-0.8zM484.9,23.5h0.8v0.8h-0.8zM464.3,35.0h0.8v0.8h-0.8zM443.7,42.7h0.8v0.8h-0.8zM458.3,46.0h0.8v0.8h-0.8zM477.3,27.8h0.8v0.8h-0.8zM450.9,28.5h0.8v0.8h-0.8zM472.5,45.1h0.8v0.8h-0.8zM475.2,21.0h0.8v0.8h-0.8zM465.3,22.0h0.8v0.8h-0.8zM485.3,46.9h0.8v0.8h-0.8zM452.6,31.1h0.8v0.8h-0.8zM439.5,36.9h0.8v0.8h-0.8zM467.5,42.2h0.8v0.8h-0.8zM441.2,36.9h0.8v0.8h-0.8zM470.3,44.7h0.8v0.8h-0.8zM434.7,35.1h0.8v0.8h-0.8zM449.4,36.9h0.8v0.8h-0.8zM461.9,32.5h0.8v0.8h-0.8zM483.7,39.3h0.8v0.8h-0.8zM450.3,48.3h0.8v0.8h-0.8zM451.6,43.7h0.8v0.8h-0.8zM472.7,25.0h0.8v0.8h-0.8zM451.9,27.9h0.8v0.8h-0.8zM483.4,33.6h0.8v0.8h-0.8zM479.6,38.8h0.8v0.8h-0.8zM473.7,27.7h0.8v0.8h-0.8zM453.5,44.9h0.8v0.8h-0.8zM470.6,47.8h0.8v0.8h-0.8zM474.2,40.4h0.8v0.8h-0.8zM468.8,29.0h0.8v0.8h-0.8zM441.2,38.1h0.8v0.8h-0.8zM464.6,46.1h0.8v0.8h-0.8zM446.9,28.2h0.8v0.8h-0.8zM481.9,35.0h0.8v0.8h-0.8zM459.0,39.8h0.8v0.8h-0.8zM434.3,26.4h0.8v0.8h-0.8zM481.3,24.7h0.8v0.8h-0.8zM482.0,47.7h0.8v0.8h-0.8zM437.0,36.0h0.8v0.8h-0.8zM449.4,40.4h0.8v0.8h-0.8zM482.3,29.9h0.8v0.8h-0.8zM441.0,48.1h0.8v0.8h-0.8zM474.0,31.7h0.8v0.8h-0.8zM478.0,36.2h0.8v0.8h-0.8zM439.2,31.9h0.8v0.8h-0.8zM472.3,30.1h0.8v0.8h-0.8zM467.4,26.1h0.8v0.8h-0.8zM474.4,26.9h0.8v0.8h-0.8zM451.2,43.4h0.8v0.8h-0.8zM444.0,34.2h0.8v0.8h-0.8zM475.9,39.6h0.8v0.8h-0.8zM437.9,24.0h0.8v0.8h-0.8zM474.0,22.6h0.8v0.8h-0.8zM441.9,22.8h0.8v0.8h-0.8zM418.0,22.5h0.8v0.8h-0.8zM414.5,40.0h0.8v0.8h-0.8zM421.0,57.0h0.8v0.8h-0.8z" fill="#111"/>
<path d="M425.8,63.8 L425.8,58 L432,56.3 L440,54.2 L448,53 L455,53.5 L450,58 L444,61.5 L438,63.8 Z" fill="#111"/>
<rect x="412.4" y="19.3" width="74.20000000000005" height="44.900000000000006" fill="none" stroke="#111" stroke-width="1.1"/>
<polygon points="442.2,27.5 478.2,22.7 483.5,32 481.7,47 475,53 434.7,47.8" fill="none" stroke="#111" stroke-width="1.1"/>
<text x="471.8" y="32.6" font-size="8.4" text-anchor="middle" font-weight="bold" >R1</text>
<line x1="409.79999999999995" y1="63.300000000000004" x2="412.4" y2="63.300000000000004" stroke="#111" stroke-width="0.9" />
<text x="409.5" y="65.5" font-size="6.2" text-anchor="end" font-weight="normal" >0</text>
<line x1="409.79999999999995" y1="54.72" x2="412.4" y2="54.72" stroke="#111" stroke-width="0.9" />
<text x="409.5" y="56.92" font-size="6.2" text-anchor="end" font-weight="normal" >200</text>
<line x1="409.79999999999995" y1="46.14" x2="412.4" y2="46.14" stroke="#111" stroke-width="0.9" />
<text x="409.5" y="48.34" font-size="6.2" text-anchor="end" font-weight="normal" >400</text>
<line x1="409.79999999999995" y1="37.56" x2="412.4" y2="37.56" stroke="#111" stroke-width="0.9" />
<text x="409.5" y="39.760000000000005" font-size="6.2" text-anchor="end" font-weight="normal" >600</text>
<line x1="409.79999999999995" y1="28.979999999999997" x2="412.4" y2="28.979999999999997" stroke="#111" stroke-width="0.9" />
<text x="409.5" y="31.179999999999996" font-size="6.2" text-anchor="end" font-weight="normal" >800</text>
<line x1="409.79999999999995" y1="20.4" x2="412.4" y2="20.4" stroke="#111" stroke-width="0.9" />
<text x="409.5" y="22.599999999999998" font-size="6.2" text-anchor="end" font-weight="normal" >1000</text>
<line x1="413.7" y1="64.2" x2="413.7" y2="66.0" stroke="#111" stroke-width="0.8" />
<text x="413.7" y="73.5" font-size="6.3" text-anchor="middle" font-weight="normal" >0</text>
<line x1="428.02" y1="64.2" x2="428.02" y2="66.0" stroke="#111" stroke-width="0.8" />
<text x="428.02" y="73.5" font-size="6.3" text-anchor="middle" font-weight="normal" >200</text>
<line x1="442.34000000000003" y1="64.2" x2="442.34000000000003" y2="66.0" stroke="#111" stroke-width="0.8" />
<text x="442.34000000000003" y="73.5" font-size="6.3" text-anchor="middle" font-weight="normal" >400</text>
<line x1="456.66" y1="64.2" x2="456.66" y2="66.0" stroke="#111" stroke-width="0.8" />
<text x="456.66" y="73.5" font-size="6.3" text-anchor="middle" font-weight="normal" >600</text>
<line x1="470.98" y1="64.2" x2="470.98" y2="66.0" stroke="#111" stroke-width="0.8" />
<text x="470.98" y="73.5" font-size="6.3" text-anchor="middle" font-weight="normal" >800</text>
<line x1="485.30000000000007" y1="64.2" x2="485.30000000000007" y2="66.0" stroke="#111" stroke-width="0.8" />
<text x="485.30000000000007" y="73.5" font-size="6.3" text-anchor="middle" font-weight="normal" >1000</text>
<text x="448.5" y="84.3" font-size="8.7" text-anchor="middle" font-weight="normal" >Forward scatter</text>
<text transform="translate(392.6,42.1) rotate(-90)" font-size="9.0" text-anchor="middle">Side scatter</text>
<text x="505.0" y="98.8" font-size="9.7" text-anchor="middle" font-weight="normal" >VEGF</text>
<polygon points="412.70,103.30 431.00,103.30 432.40,112.20 434.00,121.00 435.70,129.80 437.70,136.90 439.80,142.20 442.50,145.40 445.10,146.80 448.00,147.40 412.7,147.4" fill="#e2e2e2"/>
<polyline points="412.70,103.30 431.00,103.30 432.40,112.20 434.00,121.00 435.70,129.80 437.70,136.90 439.80,142.20 442.50,145.40 445.10,146.80 448.00,147.40" fill="none" stroke="#999" stroke-width="0.6"/>
<polyline points="431.10,103.30 432.40,110.40 433.60,117.50 435.00,124.50 436.30,130.70 437.50,129.50 438.60,133.40 439.80,136.00 441.00,134.30 442.50,136.00 443.90,138.30 445.10,136.00 446.40,135.50 447.40,137.80 448.70,140.50 450.10,143.60 451.70,145.40 454.80,145.40 456.50,146.30 458.40,145.60 460.00,146.40 461.90,145.40 463.50,146.40 465.50,145.60 468.10,146.10 469.40,147.20" fill="none" stroke="#111" stroke-width="1.0" stroke-linejoin="round"/>
<polyline points="430.80,103.30 432.70,114.80 434.50,122.80 436.30,129.80 438.00,136.00 439.80,140.50 442.10,143.60 445.10,145.40 448.70,146.10 451.30,146.80 453.00,147.20" fill="none" stroke="#111" stroke-width="1.0" stroke-linejoin="round"/>
<rect x="412.7" y="103.3" width="74.0" height="44.10000000000001" fill="none" stroke="#111" stroke-width="1.1"/>
<line x1="410.9" y1="147.4" x2="412.7" y2="147.4" stroke="#111" stroke-width="0.8" />
<line x1="410.9" y1="136.375" x2="412.7" y2="136.375" stroke="#111" stroke-width="0.8" />
<line x1="410.9" y1="125.35" x2="412.7" y2="125.35" stroke="#111" stroke-width="0.8" />
<line x1="410.9" y1="114.325" x2="412.7" y2="114.325" stroke="#111" stroke-width="0.8" />
<line x1="410.9" y1="103.3" x2="412.7" y2="103.3" stroke="#111" stroke-width="0.8" />
<line x1="412.7" y1="147.4" x2="412.7" y2="149.20000000000002" stroke="#111" stroke-width="0.8" />
<line x1="431.2" y1="147.4" x2="431.2" y2="149.20000000000002" stroke="#111" stroke-width="0.8" />
<line x1="449.7" y1="147.4" x2="449.7" y2="149.20000000000002" stroke="#111" stroke-width="0.8" />
<line x1="468.2" y1="147.4" x2="468.2" y2="149.20000000000002" stroke="#111" stroke-width="0.8" />
<line x1="486.7" y1="147.4" x2="486.7" y2="149.20000000000002" stroke="#111" stroke-width="0.8" />
<text x="408.4" y="105.7" font-size="6.8" text-anchor="end" font-weight="normal" >20</text>
<text x="408.4" y="149.70000000000002" font-size="6.8" text-anchor="end" font-weight="normal" >0</text>
<line x1="440.7" y1="124.19999999999999" x2="482.3" y2="124.19999999999999" stroke="#111" stroke-width="1.15" stroke-dasharray="3.4,0.6"/>
<line x1="440.7" y1="119.99999999999999" x2="440.7" y2="128.39999999999998" stroke="#111" stroke-width="0.9" />
<line x1="482.3" y1="119.99999999999999" x2="482.3" y2="128.39999999999998" stroke="#111" stroke-width="0.9" />
<text x="411.30" y="158.9" font-size="6.4" text-anchor="middle">10</text>
<text x="415.80" y="154.3" font-size="5.2" text-anchor="middle">0</text>
<text x="429.80" y="158.9" font-size="6.4" text-anchor="middle">10</text>
<text x="434.30" y="154.3" font-size="5.2" text-anchor="middle">1</text>
<text x="448.30" y="158.9" font-size="6.4" text-anchor="middle">10</text>
<text x="452.80" y="154.3" font-size="5.2" text-anchor="middle">2</text>
<text x="466.80" y="158.9" font-size="6.4" text-anchor="middle">10</text>
<text x="471.30" y="154.3" font-size="5.2" text-anchor="middle">3</text>
<text x="485.30" y="158.9" font-size="6.4" text-anchor="middle">10</text>
<text x="489.80" y="154.3" font-size="5.2" text-anchor="middle">4</text>
<polygon points="412.70,165.00 428.30,165.00 430.10,170.60 431.80,175.90 434.50,186.50 438.00,197.20 442.50,206.00 445.10,208.70 448.00,209.20 412.7,209.2" fill="#e2e2e2"/>
<polyline points="412.70,165.00 428.30,165.00 430.10,170.60 431.80,175.90 434.50,186.50 438.00,197.20 442.50,206.00 445.10,208.70 448.00,209.20" fill="none" stroke="#999" stroke-width="0.6"/>
<polyline points="429.20,165.00 431.00,170.60 432.70,177.70 434.50,183.00 436.30,188.30 437.50,192.70 438.90,196.30 440.30,194.50 441.60,191.00 442.80,188.30 444.20,187.40 445.50,188.30 446.50,186.50 447.80,189.20 449.20,192.70 451.30,195.40 453.10,199.30 455.20,202.10 457.50,204.20 460.20,206.90 462.30,208.80" fill="none" stroke="#111" stroke-width="1.0" stroke-linejoin="round"/>
<polyline points="429.20,165.00 431.50,173.30 433.30,179.50 435.40,186.50 437.50,192.70 439.80,198.90 442.50,203.30 444.60,206.40 446.90,208.80" fill="none" stroke="#111" stroke-width="1.0" stroke-linejoin="round"/>
<rect x="412.7" y="165.0" width="74.0" height="44.19999999999999" fill="none" stroke="#111" stroke-width="1.1"/>
<line x1="410.9" y1="209.2" x2="412.7" y2="209.2" stroke="#111" stroke-width="0.8" />
<line x1="410.9" y1="198.14999999999998" x2="412.7" y2="198.14999999999998" stroke="#111" stroke-width="0.8" />
<line x1="410.9" y1="187.1" x2="412.7" y2="187.1" stroke="#111" stroke-width="0.8" />
<line x1="410.9" y1="176.05" x2="412.7" y2="176.05" stroke="#111" stroke-width="0.8" />
<line x1="410.9" y1="165.0" x2="412.7" y2="165.0" stroke="#111" stroke-width="0.8" />
<line x1="412.7" y1="209.2" x2="412.7" y2="211.0" stroke="#111" stroke-width="0.8" />
<line x1="431.2" y1="209.2" x2="431.2" y2="211.0" stroke="#111" stroke-width="0.8" />
<line x1="449.7" y1="209.2" x2="449.7" y2="211.0" stroke="#111" stroke-width="0.8" />
<line x1="468.2" y1="209.2" x2="468.2" y2="211.0" stroke="#111" stroke-width="0.8" />
<line x1="486.7" y1="209.2" x2="486.7" y2="211.0" stroke="#111" stroke-width="0.8" />
<text x="408.4" y="167.4" font-size="6.8" text-anchor="end" font-weight="normal" >20</text>
<text x="408.4" y="211.5" font-size="6.8" text-anchor="end" font-weight="normal" >0</text>
<line x1="442.5" y1="182.6" x2="482.8" y2="182.6" stroke="#111" stroke-width="1.15" stroke-dasharray="3.4,0.6"/>
<line x1="442.5" y1="178.4" x2="442.5" y2="186.79999999999998" stroke="#111" stroke-width="0.9" />
<line x1="482.8" y1="178.4" x2="482.8" y2="186.79999999999998" stroke="#111" stroke-width="0.9" />
<text x="413.20" y="220.1" font-size="6.4" text-anchor="middle">10</text>
<text x="417.90" y="215.7" font-size="5.2" text-anchor="middle">0</text>
<text x="431.70" y="220.1" font-size="6.4" text-anchor="middle">10</text>
<text x="436.40" y="215.7" font-size="5.2" text-anchor="middle">1</text>
<text x="450.20" y="220.1" font-size="6.4" text-anchor="middle">10</text>
<text x="454.90" y="215.7" font-size="5.2" text-anchor="middle">2</text>
<text x="468.70" y="220.1" font-size="6.4" text-anchor="middle">10</text>
<text x="473.40" y="215.7" font-size="5.2" text-anchor="middle">3</text>
<text x="487.20" y="220.1" font-size="6.4" text-anchor="middle">10</text>
<text x="491.90" y="215.7" font-size="5.2" text-anchor="middle">4</text>
<text transform="translate(393.0,155.6) rotate(-90)" font-size="8.75" text-anchor="middle" style="stroke-width:0.2px">Relative cell number</text>
<rect x="503.2" y="123.2" width="5" height="1.6" fill="#111"/>
<line x1="500.3" y1="190.3" x2="508.9" y2="190.3" stroke="#111" stroke-width="1.9" />
<line x1="504.6" y1="186.2" x2="504.6" y2="194.6" stroke="#111" stroke-width="1.9" />
<line x1="407.5" y1="230.7" x2="489" y2="230.7" stroke="#111" stroke-width="1.6" />
<polygon points="487,227.4 496,230.7 487,234" fill="#111"/>
<text x="451" y="242.8" font-size="9.9" text-anchor="middle" font-weight="normal" >CD34</text>
<text x="1.2" y="210.4" font-size="11.5" text-anchor="start" font-weight="bold" >C</text>
<text transform="translate(9.6,292.8) rotate(-90)" font-size="10.45" text-anchor="middle">% CD34<tspan font-size="6" dy="-3.5">+</tspan><tspan dy="3.5"> cells in EBs</tspan></text>
<rect x="43.3" y="221.5" width="90.8" height="134.7" fill="none" stroke="#333" stroke-width="1.0"/>
<text x="50.5" y="234.0" font-size="9.2" text-anchor="start" font-weight="bold" >1</text>
<line x1="40.099999999999994" y1="356.2" x2="43.3" y2="356.2" stroke="#333" stroke-width="0.9" />
<line x1="40.099999999999994" y1="310.09999999999997" x2="43.3" y2="310.09999999999997" stroke="#333" stroke-width="0.9" />
<line x1="40.099999999999994" y1="265.79999999999995" x2="43.3" y2="265.79999999999995" stroke="#333" stroke-width="0.9" />
<line x1="40.099999999999994" y1="221.5" x2="43.3" y2="221.5" stroke="#333" stroke-width="0.9" />
<line x1="44.5" y1="356.2" x2="44.5" y2="358.4" stroke="#333" stroke-width="0.8" />
<text x="47" y="371.4" font-size="9.8" text-anchor="middle" font-weight="normal" >0</text>
<line x1="68.7" y1="356.2" x2="68.7" y2="358.4" stroke="#333" stroke-width="0.8" />
<text x="70.25" y="371.4" font-size="9.8" text-anchor="middle" font-weight="normal" >5</text>
<line x1="92.9" y1="356.2" x2="92.9" y2="358.4" stroke="#333" stroke-width="0.8" />
<text x="93.35" y="371.4" font-size="9.8" text-anchor="middle" font-weight="normal" >10</text>
<line x1="117.1" y1="356.2" x2="117.1" y2="358.4" stroke="#333" stroke-width="0.8" />
<text x="120.5" y="371.4" font-size="9.8" text-anchor="middle" font-weight="normal" >15</text>
<rect x="151.6" y="221.5" width="90.20000000000002" height="134.7" fill="none" stroke="#333" stroke-width="1.0"/>
<text x="161.0" y="234.0" font-size="9.2" text-anchor="start" font-weight="bold" >2</text>
<line x1="148.4" y1="356.2" x2="151.6" y2="356.2" stroke="#333" stroke-width="0.9" />
<line x1="148.4" y1="310.09999999999997" x2="151.6" y2="310.09999999999997" stroke="#333" stroke-width="0.9" />
<line x1="148.4" y1="265.79999999999995" x2="151.6" y2="265.79999999999995" stroke="#333" stroke-width="0.9" />
<line x1="148.4" y1="221.5" x2="151.6" y2="221.5" stroke="#333" stroke-width="0.9" />
<line x1="154.7" y1="356.2" x2="154.7" y2="358.4" stroke="#333" stroke-width="0.8" />
<text x="155.5" y="371.4" font-size="9.8" text-anchor="middle" font-weight="normal" >0</text>
<line x1="178.89999999999998" y1="356.2" x2="178.89999999999998" y2="358.4" stroke="#333" stroke-width="0.8" />
<text x="175.75" y="371.4" font-size="9.8" text-anchor="middle" font-weight="normal" >5</text>
<line x1="203.1" y1="356.2" x2="203.1" y2="358.4" stroke="#333" stroke-width="0.8" />
<text x="198.5" y="371.4" font-size="9.8" text-anchor="middle" font-weight="normal" >10</text>
<line x1="227.29999999999998" y1="356.2" x2="227.29999999999998" y2="358.4" stroke="#333" stroke-width="0.8" />
<text x="225.5" y="371.4" font-size="9.8" text-anchor="middle" font-weight="normal" >15</text>
<rect x="259.8" y="221.5" width="89.19999999999999" height="134.7" fill="none" stroke="#333" stroke-width="1.0"/>
<text x="268.3" y="234.0" font-size="9.2" text-anchor="start" font-weight="bold" >3</text>
<line x1="256.6" y1="356.2" x2="259.8" y2="356.2" stroke="#333" stroke-width="0.9" />
<line x1="256.6" y1="312.9" x2="259.8" y2="312.9" stroke="#333" stroke-width="0.9" />
<line x1="256.6" y1="268.5" x2="259.8" y2="268.5" stroke="#333" stroke-width="0.9" />
<line x1="256.6" y1="221.5" x2="259.8" y2="221.5" stroke="#333" stroke-width="0.9" />
<line x1="261.4" y1="356.2" x2="261.4" y2="358.4" stroke="#333" stroke-width="0.8" />
<text x="265.25" y="371.4" font-size="9.8" text-anchor="middle" font-weight="normal" >0</text>
<line x1="285.59999999999997" y1="356.2" x2="285.59999999999997" y2="358.4" stroke="#333" stroke-width="0.8" />
<text x="285.75" y="371.4" font-size="9.8" text-anchor="middle" font-weight="normal" >5</text>
<line x1="309.79999999999995" y1="356.2" x2="309.79999999999995" y2="358.4" stroke="#333" stroke-width="0.8" />
<text x="309" y="371.4" font-size="9.8" text-anchor="middle" font-weight="normal" >10</text>
<line x1="334.0" y1="356.2" x2="334.0" y2="358.4" stroke="#333" stroke-width="0.8" />
<text x="336" y="371.4" font-size="9.8" text-anchor="middle" font-weight="normal" >15</text>
<text x="36.3" y="226.3" font-size="9.6" text-anchor="end" font-weight="normal" >15</text>
<text x="36.3" y="265.5" font-size="9.6" text-anchor="end" font-weight="normal" >10</text>
<text x="36.3" y="313.3" font-size="9.6" text-anchor="end" font-weight="normal" >5</text>
<text x="36.3" y="357.6" font-size="9.6" text-anchor="end" font-weight="normal" >0</text>
<line x1="84" y1="234" x2="84" y2="239" stroke="#111" stroke-width="1.0" />
<line x1="82.7" y1="234" x2="85.3" y2="234" stroke="#111" stroke-width="1.0" />
<line x1="83" y1="274.4" x2="83" y2="286" stroke="#111" stroke-width="1.0" />
<line x1="81.7" y1="274.4" x2="84.3" y2="274.4" stroke="#111" stroke-width="1.0" />
<polyline points="73.00,336.40 84.00,239.00 98.40,272.00 107.00,293.00 131.60,331.00" fill="none" stroke="#111" stroke-width="1.0" />
<rect x="70.9" y="334.29999999999995" width="4.2" height="4.2" fill="#111"/>
<rect x="81.9" y="236.9" width="4.2" height="4.2" fill="#111"/>
<rect x="96.30000000000001" y="269.9" width="4.2" height="4.2" fill="#111"/>
<rect x="104.9" y="290.9" width="4.2" height="4.2" fill="#111"/>
<rect x="129.5" y="328.9" width="4.2" height="4.2" fill="#111"/>
<polyline points="72.60,338.20 83.60,256.40 97.40,284.60 106.60,286.40" fill="none" stroke="#111" stroke-width="1.0" stroke-dasharray="2.2,1.2"/>
<rect x="70.69999999999999" y="336.3" width="3.8" height="3.8" fill="#fff" stroke="#111" stroke-width="0.9"/>
<rect x="81.69999999999999" y="254.49999999999997" width="3.8" height="3.8" fill="#fff" stroke="#111" stroke-width="0.9"/>
<rect x="95.5" y="282.70000000000005" width="3.8" height="3.8" fill="#fff" stroke="#111" stroke-width="0.9"/>
<rect x="104.69999999999999" y="284.5" width="3.8" height="3.8" fill="#fff" stroke="#111" stroke-width="0.9"/>
<polyline points="73.20,347.00 79.20,311.10 83.00,286.00 92.60,295.80 112.40,343.80" fill="none" stroke="#111" stroke-width="1.0" stroke-dasharray="1,1.1"/>
<polygon points="73.2,344.6 75.4,348.6 71.0,348.6" fill="#fff" stroke="#111" stroke-width="0.85"/>
<polygon points="79.2,308.70000000000005 81.4,312.70000000000005 77.0,312.70000000000005" fill="#fff" stroke="#111" stroke-width="0.85"/>
<polygon points="83,283.6 85.2,287.6 80.8,287.6" fill="#fff" stroke="#111" stroke-width="0.85"/>
<polygon points="92.6,293.40000000000003 94.8,297.40000000000003 90.39999999999999,297.40000000000003" fill="#fff" stroke="#111" stroke-width="0.85"/>
<polygon points="112.4,341.40000000000003 114.60000000000001,345.40000000000003 110.2,345.40000000000003" fill="#fff" stroke="#111" stroke-width="0.85"/>
<polyline points="73.60,352.40 83.50,328.80 93.40,318.00 101.80,327.00" fill="none" stroke="#111" stroke-width="1.0" />
<circle cx="73.6" cy="352.4" r="2.3" fill="#111"/>
<circle cx="83.5" cy="328.8" r="2.3" fill="#111"/>
<circle cx="93.4" cy="318" r="2.3" fill="#111"/>
<circle cx="101.8" cy="327" r="2.3" fill="#111"/>
<polyline points="44.80,352.40 73.00,352.40 78.80,345.00 84.00,310.40 96.60,335.80 108.30,331.40" fill="none" stroke="#111" stroke-width="1.0" />
<circle cx="44.8" cy="352.4" r="2.0" fill="#fff" stroke="#111" stroke-width="0.9"/>
<circle cx="73" cy="352.4" r="2.0" fill="#fff" stroke="#111" stroke-width="0.9"/>
<circle cx="78.8" cy="345" r="2.0" fill="#fff" stroke="#111" stroke-width="0.9"/>
<circle cx="84" cy="310.4" r="2.0" fill="#fff" stroke="#111" stroke-width="0.9"/>
<circle cx="96.6" cy="335.8" r="2.0" fill="#fff" stroke="#111" stroke-width="0.9"/>
<circle cx="108.3" cy="331.4" r="2.0" fill="#fff" stroke="#111" stroke-width="0.9"/>
<circle cx="79.2" cy="311.1" r="1.9" fill="#fff" stroke="#111" stroke-width="0.8"/>
<line x1="193" y1="226.4" x2="193" y2="236.6" stroke="#111" stroke-width="1.0" />
<line x1="191.7" y1="226.4" x2="194.3" y2="226.4" stroke="#111" stroke-width="1.0" />
<line x1="192" y1="287" x2="192" y2="293.6" stroke="#111" stroke-width="1.0" />
<line x1="190.7" y1="287" x2="193.3" y2="287" stroke="#111" stroke-width="1.0" />
<line x1="154.4" y1="349.6" x2="154.4" y2="354" stroke="#111" stroke-width="1.0" />
<line x1="153.1" y1="349.6" x2="155.70000000000002" y2="349.6" stroke="#111" stroke-width="1.0" />
<polyline points="183.00,317.00 193.00,236.60 207.00,315.00 221.00,341.60" fill="none" stroke="#111" stroke-width="1.0" />
<rect x="180.9" y="314.9" width="4.2" height="4.2" fill="#111"/>
<rect x="190.9" y="234.5" width="4.2" height="4.2" fill="#111"/>
<rect x="204.9" y="312.9" width="4.2" height="4.2" fill="#111"/>
<rect x="218.9" y="339.5" width="4.2" height="4.2" fill="#111"/>
<polyline points="183.40,342.60 192.00,293.20 207.40,311.00 215.40,334.60 221.00,346.00" fill="none" stroke="#111" stroke-width="1.0" stroke-dasharray="1.8,1.1"/>
<polygon points="183.4,340.20000000000005 185.6,344.20000000000005 181.20000000000002,344.20000000000005" fill="#fff" stroke="#111" stroke-width="0.85"/>
<polygon points="192,290.8 194.2,294.8 189.8,294.8" fill="#fff" stroke="#111" stroke-width="0.85"/>
<polygon points="207.4,308.6 209.6,312.6 205.20000000000002,312.6" fill="#fff" stroke="#111" stroke-width="0.85"/>
<polygon points="215.4,332.20000000000005 217.6,336.20000000000005 213.20000000000002,336.20000000000005" fill="#fff" stroke="#111" stroke-width="0.85"/>
<polygon points="221,343.6 223.2,347.6 218.8,347.6" fill="#fff" stroke="#111" stroke-width="0.85"/>
<polyline points="183.00,350.00 192.00,315.00 206.60,326.40 221.00,341.60" fill="none" stroke="#111" stroke-width="1.0" />
<circle cx="183" cy="350" r="2.3" fill="#111"/>
<circle cx="192" cy="315" r="2.3" fill="#111"/>
<circle cx="206.6" cy="326.4" r="2.3" fill="#111"/>
<circle cx="221" cy="341.6" r="2.3" fill="#111"/>
<polyline points="154.40,353.90 183.00,353.90 188.60,345.00 192.00,318.60 215.00,339.00 221.00,343.00" fill="none" stroke="#111" stroke-width="1.0" />
<circle cx="154.4" cy="353.9" r="2.0" fill="#fff" stroke="#111" stroke-width="0.9"/>
<circle cx="183" cy="353.9" r="2.0" fill="#fff" stroke="#111" stroke-width="0.9"/>
<circle cx="188.6" cy="345" r="2.0" fill="#fff" stroke="#111" stroke-width="0.9"/>
<circle cx="192" cy="318.6" r="2.0" fill="#fff" stroke="#111" stroke-width="0.9"/>
<circle cx="215" cy="339" r="2.0" fill="#fff" stroke="#111" stroke-width="0.9"/>
<circle cx="221" cy="343" r="2.0" fill="#fff" stroke="#111" stroke-width="0.9"/>
<line x1="299.3" y1="265.2" x2="299.3" y2="270.5" stroke="#111" stroke-width="1.0" />
<line x1="298.0" y1="265.2" x2="300.6" y2="265.2" stroke="#111" stroke-width="1.0" />
<polyline points="290.00,330.50 295.50,304.70 299.30,270.50 323.90,344.30" fill="none" stroke="#555" stroke-width="1.0" />
<rect x="287.9" y="328.4" width="4.2" height="4.2" fill="#111"/>
<rect x="293.4" y="302.59999999999997" width="4.2" height="4.2" fill="#111"/>
<rect x="297.2" y="268.4" width="4.2" height="4.2" fill="#111"/>
<rect x="321.79999999999995" y="342.2" width="4.2" height="4.2" fill="#111"/>
<polyline points="290.00,333.50 295.60,305.50 300.20,296.70 323.90,347.00" fill="none" stroke="#111" stroke-width="1.0" stroke-dasharray="1,1.1"/>
<polygon points="290,331.1 292.2,335.1 287.8,335.1" fill="#fff" stroke="#111" stroke-width="0.85"/>
<polygon points="295.6,303.1 297.8,307.1 293.40000000000003,307.1" fill="#fff" stroke="#111" stroke-width="0.85"/>
<polygon points="300.2,294.3 302.4,298.3 298.0,298.3" fill="#fff" stroke="#111" stroke-width="0.85"/>
<polygon points="323.9,344.6 326.09999999999997,348.6 321.7,348.6" fill="#fff" stroke="#111" stroke-width="0.85"/>
</svg></body></html>
